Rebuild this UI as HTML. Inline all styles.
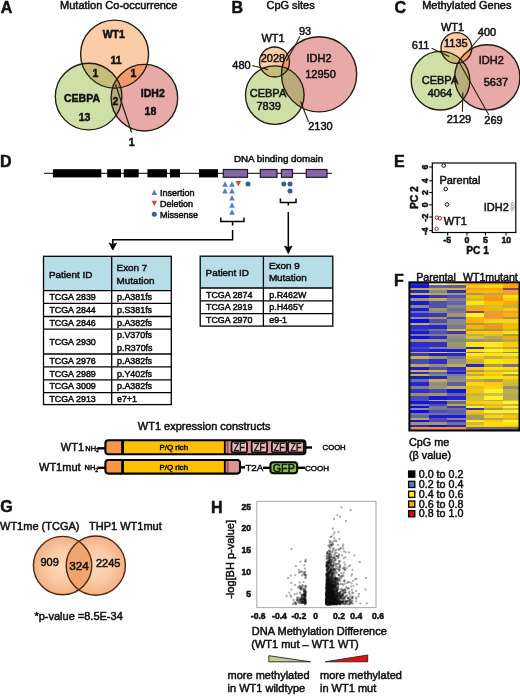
<!DOCTYPE html>
<html lang="en"><head><meta charset="utf-8"><title>WT1 mutation figure</title>
<style>
html,body{margin:0;padding:0;background:#fff}
body{width:520px;height:696px;overflow:hidden}
svg{display:block}
text{font-family:"Liberation Sans",Arial,Helvetica,sans-serif;fill:#111;stroke:#111;stroke-width:.5px}
</style></head><body>
<svg width="520" height="696" viewBox="0 0 520 696">
<rect width="520" height="696" fill="#fff"/>

<g font-weight="bold">
<text x="0.8" y="13" font-size="16">A</text>
<text x="231.6" y="13" font-size="16">B</text>
<text x="394.6" y="13" font-size="16">C</text>
<text x="0" y="167" font-size="16">D</text>
<text x="394" y="167" font-size="16">E</text>
<text x="394" y="285.5" font-size="16">F</text>
<text x="0.2" y="512" font-size="16">G</text>
<text x="211" y="513" font-size="16">H</text>
</g>
<text x="118.8" y="9.1" font-size="11" text-anchor="middle">Mutation Co-occurrence</text>
<defs>
<clipPath id="va0"><circle cx="114.6" cy="54.1" r="34"/></clipPath>
<clipPath id="va1"><circle cx="88.6" cy="96.6" r="33.3"/></clipPath>
<clipPath id="va2"><circle cx="144.4" cy="97.7" r="33.3"/></clipPath>
</defs>
<circle cx="114.6" cy="54.1" r="34" fill="#fbcda6"/>
<circle cx="88.6" cy="96.6" r="33.3" fill="#cee0a8"/>
<circle cx="144.4" cy="97.7" r="33.3" fill="#e8a9a9"/>
<circle cx="88.6" cy="96.6" r="33.3" fill="#c6bd7a" clip-path="url(#va0)"/>
<circle cx="144.4" cy="97.7" r="33.3" fill="#f09a6a" clip-path="url(#va0)"/>
<circle cx="144.4" cy="97.7" r="33.3" fill="#b9ab7a" clip-path="url(#va1)"/>
<g clip-path="url(#va0)"><circle cx="144.4" cy="97.7" r="33.3" fill="#b09a66" clip-path="url(#va1)"/></g>
<g fill="none" stroke="#241a0e" stroke-width="1.35">
<circle cx="114.6" cy="54.1" r="34"/>
<circle cx="88.6" cy="96.6" r="33.3"/>
<circle cx="144.4" cy="97.7" r="33.3"/>
</g>
<line x1="115.6" y1="84.5" x2="131.6" y2="132.5" stroke="#2a2012" stroke-width="1.2"/>
<g font-weight="bold">
<text x="113.8" y="37.7" font-size="10.5" text-anchor="middle">WT1</text>
<text x="116" y="63.5" font-size="10.5" text-anchor="middle">11</text>
<text x="95.4" y="77" font-size="10.5" text-anchor="middle">1</text>
<text x="133.5" y="77" font-size="10.5" text-anchor="middle">1</text>
<text x="115.4" y="104.8" font-size="10.5" text-anchor="middle">2</text>
<text x="82" y="102.3" font-size="10.5" text-anchor="middle">CEBPA</text>
<text x="84.6" y="120.8" font-size="10.5" text-anchor="middle">13</text>
<text x="152.8" y="96.6" font-size="10.5" text-anchor="middle">IDH2</text>
<text x="150.4" y="115.2" font-size="10.5" text-anchor="middle">18</text>
<text x="131.6" y="146" font-size="10.5" text-anchor="middle">1</text>
</g>
<text x="290.6" y="9.1" font-size="11" text-anchor="middle">CpG sites</text>
<defs>
<clipPath id="vb0"><circle cx="274.5" cy="62" r="15"/></clipPath>
<clipPath id="vb1"><circle cx="274.8" cy="95.1" r="29.3"/></clipPath>
<clipPath id="vb2"><circle cx="319.1" cy="74.3" r="37.6"/></clipPath>
</defs>
<circle cx="274.5" cy="62" r="15" fill="#fbcda6"/>
<circle cx="274.8" cy="95.1" r="29.3" fill="#cee0a8"/>
<circle cx="319.1" cy="74.3" r="37.6" fill="#e8a9a9"/>
<circle cx="274.8" cy="95.1" r="29.3" fill="#c6bd7a" clip-path="url(#vb0)"/>
<circle cx="319.1" cy="74.3" r="37.6" fill="#f09a6a" clip-path="url(#vb0)"/>
<circle cx="319.1" cy="74.3" r="37.6" fill="#b9ab7a" clip-path="url(#vb1)"/>
<g clip-path="url(#vb0)"><circle cx="319.1" cy="74.3" r="37.6" fill="#b09a66" clip-path="url(#vb1)"/></g>
<g fill="none" stroke="#241a0e" stroke-width="1.35">
<circle cx="274.5" cy="62" r="15"/>
<circle cx="274.8" cy="95.1" r="29.3"/>
<circle cx="319.1" cy="74.3" r="37.6"/>
</g>
<g stroke="#2a2012" stroke-width="1.1">
<line x1="300" y1="36.5" x2="286.5" y2="61"/>
<line x1="252.4" y1="65.6" x2="268" y2="69.6"/>
<line x1="308.6" y1="122" x2="300.6" y2="101.5"/>
</g>
<g>
<text x="273" y="41.8" font-size="11" text-anchor="middle">WT1</text>
<text x="305" y="34.7" font-size="11" text-anchor="middle">93</text>
<text x="273" y="62" font-size="11" text-anchor="middle">2028</text>
<text x="319" y="61.7" font-size="11" text-anchor="middle">IDH2</text>
<text x="320.5" y="78" font-size="11" text-anchor="middle">12950</text>
<text x="268" y="97" font-size="11" text-anchor="middle">CEBPA</text>
<text x="268.7" y="110" font-size="11" text-anchor="middle">7839</text>
<text x="241.5" y="69.2" font-size="11" text-anchor="middle">480</text>
<text x="320.5" y="129.8" font-size="11" text-anchor="middle">2130</text>
</g>
<text x="466.8" y="9.1" font-size="11" text-anchor="middle">Methylated Genes</text>
<defs>
<clipPath id="vc0"><circle cx="456.4" cy="48" r="15.4"/></clipPath>
<clipPath id="vc1"><circle cx="440.5" cy="80.7" r="29.3"/></clipPath>
<clipPath id="vc2"><circle cx="487.3" cy="77.3" r="32.6"/></clipPath>
</defs>
<circle cx="456.4" cy="48" r="15.4" fill="#fbcda6"/>
<circle cx="440.5" cy="80.7" r="29.3" fill="#cee0a8"/>
<circle cx="487.3" cy="77.3" r="32.6" fill="#e8a9a9"/>
<circle cx="440.5" cy="80.7" r="29.3" fill="#c6bd7a" clip-path="url(#vc0)"/>
<circle cx="487.3" cy="77.3" r="32.6" fill="#f09a6a" clip-path="url(#vc0)"/>
<circle cx="487.3" cy="77.3" r="32.6" fill="#b9ab7a" clip-path="url(#vc1)"/>
<g clip-path="url(#vc0)"><circle cx="487.3" cy="77.3" r="32.6" fill="#b09a66" clip-path="url(#vc1)"/></g>
<g fill="none" stroke="#241a0e" stroke-width="1.35">
<circle cx="456.4" cy="48" r="15.4"/>
<circle cx="440.5" cy="80.7" r="29.3"/>
<circle cx="487.3" cy="77.3" r="32.6"/>
</g>
<g stroke="#2a2012" stroke-width="1.1">
<line x1="481" y1="36" x2="467.5" y2="51.5"/>
<line x1="431.7" y1="48.3" x2="449.2" y2="56.5"/>
<line x1="462.4" y1="111.8" x2="462.9" y2="92.5"/>
<line x1="488.8" y1="115" x2="459" y2="62"/>
</g>
<g>
<text x="452.5" y="31.2" font-size="11" text-anchor="middle">WT1</text>
<text x="455.8" y="47.3" font-size="11" text-anchor="middle">1135</text>
<text x="487" y="35.7" font-size="11" text-anchor="middle">400</text>
<text x="420.6" y="49.1" font-size="11" text-anchor="middle">611</text>
<text x="491.3" y="64.2" font-size="11" text-anchor="middle">IDH2</text>
<text x="496" y="86.3" font-size="11" text-anchor="middle">5637</text>
<text x="440" y="84" font-size="11" text-anchor="middle">CEBPA</text>
<text x="440" y="97.4" font-size="11" text-anchor="middle">4064</text>
<text x="459" y="122.7" font-size="11" text-anchor="middle">2129</text>
<text x="493.5" y="123.5" font-size="11" text-anchor="middle">269</text>
</g>
<line x1="44" y1="173.3" x2="332" y2="173.3" stroke="#000" stroke-width="1"/>
<rect x="52.9" y="169.2" width="48.4" height="8.2" fill="#000"/>
<rect x="107.2" y="169.2" width="13.8" height="8.2" fill="#000"/>
<rect x="123.8" y="169.2" width="14.9" height="8.2" fill="#000"/>
<rect x="147.4" y="169.2" width="19.6" height="8.2" fill="#000"/>
<rect x="169.9" y="169.2" width="10.1" height="8.2" fill="#000"/>
<rect x="199" y="169.2" width="19.0" height="8.2" fill="#000"/>
<rect x="223.3" y="169.5" width="24.2" height="7.8" fill="#8567a8" stroke="#1f1830" stroke-width="1.2"/>
<rect x="260.3" y="169.5" width="16.7" height="7.8" fill="#8567a8" stroke="#1f1830" stroke-width="1.2"/>
<rect x="281.4" y="169.5" width="11.1" height="7.8" fill="#8567a8" stroke="#1f1830" stroke-width="1.2"/>
<rect x="306.3" y="169.5" width="20.7" height="7.8" fill="#8567a8" stroke="#1f1830" stroke-width="1.2"/>
<text x="278.6" y="162" font-size="9.8" text-anchor="middle">DNA binding domain</text>
<path d="M222.2 186.8L227.8 186.8L225.0 181.2Z" fill="#4f81bd"/>
<path d="M229.2 186.8L234.8 186.8L232.0 181.2Z" fill="#4f81bd"/>
<path d="M222.2 193.6L227.8 193.6L225.0 188.0Z" fill="#4f81bd"/>
<path d="M229.2 193.6L234.8 193.6L232.0 188.0Z" fill="#4f81bd"/>
<path d="M229.2 200.6L234.8 200.6L232.0 195.0Z" fill="#4f81bd"/>
<path d="M229.2 207.8L234.8 207.8L232.0 202.2Z" fill="#4f81bd"/>
<path d="M229.2 214.8L234.8 214.8L232.0 209.2Z" fill="#4f81bd"/>
<path d="M235.5 181.0L241.1 181.0L238.3 186.6Z" fill="#c0504d"/>
<circle cx="248" cy="184" r="2.5" fill="#376092"/>
<circle cx="283.8" cy="184" r="2.5" fill="#376092"/>
<circle cx="290" cy="184" r="2.5" fill="#376092"/>
<circle cx="290" cy="191" r="2.5" fill="#376092"/>
<path d="M151.5 195.1L157.1 195.1L154.3 189.5Z" fill="#4f81bd"/>
<path d="M151.5 200.7L157.1 200.7L154.3 206.3Z" fill="#c0504d"/>
<circle cx="154.3" cy="214.3" r="2.5" fill="#376092"/>
<text x="160" y="196" font-size="9">Insertion</text>
<text x="160" y="207" font-size="9">Deletion</text>
<text x="160" y="218" font-size="9">Missense</text>
<g fill="none" stroke="#000" stroke-width="1.5">
<path d="M220.8 217.5V221.6H244V217.5M232.6 221.6V225.5"/>
<path d="M280.4 198.5V202.6H296V198.5M288.3 202.6V205.6"/>
<path d="M232.6 230V239.7H112.8V246"/>
<path d="M288.3 212V249"/>
</g>
<path d="M109.1 243L112.8 244.6L116.5 243L112.8 250Z" fill="#000" stroke="#000" stroke-width=".8"/>
<path d="M284.6 246L288.3 247.6L292 246L288.3 253.5Z" fill="#000" stroke="#000" stroke-width=".8"/>
<rect x="43.5" y="256.3" width="127.8" height="34.3" fill="#b7dde8"/>
<g stroke="#000" stroke-width="1.3" fill="none">
<rect x="43.5" y="256.3" width="127.8" height="148.3"/>
<line x1="111.7" y1="256.3" x2="111.7" y2="404.6"/>
<line x1="43.5" y1="290.6" x2="171.3" y2="290.6"/>
<line x1="43.5" y1="303.3" x2="171.3" y2="303.3"/>
<line x1="43.5" y1="316.5" x2="171.3" y2="316.5"/>
<line x1="43.5" y1="329.2" x2="171.3" y2="329.2"/>
<line x1="43.5" y1="354" x2="171.3" y2="354"/>
<line x1="43.5" y1="366.8" x2="171.3" y2="366.8"/>
<line x1="43.5" y1="379.9" x2="171.3" y2="379.9"/>
<line x1="43.5" y1="392.6" x2="171.3" y2="392.6"/>
</g>
<text x="49.0" y="277.8" font-size="9.9" stroke-width=".4">Patient ID</text>
<text x="116.6" y="271.09999999999997" font-size="9.9" stroke-width=".4">Exon 7</text>
<text x="116.6" y="284.4" font-size="9.9" stroke-width=".4">Mutation</text>
<g font-size="8.9" stroke-width=".45">
<text x="49.4" y="300.1">TCGA 2839</text>
<text x="117" y="300.1">p.A381fs</text>
<text x="49.4" y="313.0">TCGA 2844</text>
<text x="117" y="313.0">p.S381fs</text>
<text x="49.4" y="326.0">TCGA 2846</text>
<text x="117" y="326.0">p.A382fs</text>
<text x="49.4" y="344.7">TCGA 2930</text>
<text x="117" y="338.4">p.V370fs</text>
<text x="117" y="351.0">p.R370fs</text>
<text x="49.4" y="363.5">TCGA 2976</text>
<text x="117" y="363.5">p.A382fs</text>
<text x="49.4" y="376.5">TCGA 2989</text>
<text x="117" y="376.5">p.Y402fs</text>
<text x="49.4" y="389.4">TCGA 3009</text>
<text x="117" y="389.4">p.A382fs</text>
<text x="49.4" y="401.7">TCGA 2913</text>
<text x="117" y="401.7">e7+1</text>
</g>
<rect x="200.2" y="256.2" width="132.6" height="31.8" fill="#b7dde8"/>
<g stroke="#000" stroke-width="1.3" fill="none">
<rect x="200.2" y="256.2" width="132.6" height="69.9"/>
<line x1="263.4" y1="256.2" x2="263.4" y2="326.1"/>
<line x1="200.2" y1="288" x2="332.8" y2="288"/>
<line x1="200.2" y1="300.8" x2="332.8" y2="300.8"/>
<line x1="200.2" y1="313.6" x2="332.8" y2="313.6"/>
</g>
<text x="205.6" y="276" font-size="9.9" stroke-width=".4">Patient ID</text>
<text x="268.90000000000003" y="269.4" font-size="9.9" stroke-width=".4">Exon 9</text>
<text x="268.90000000000003" y="281.4" font-size="9.9" stroke-width=".4">Mutation</text>
<g font-size="8.9" stroke-width=".45">
<text x="206" y="297.5">TCGA 2874</text>
<text x="269.3" y="297.5">p.R462W</text>
<text x="206" y="310.3">TCGA 2919</text>
<text x="269.3" y="310.3">p.H465Y</text>
<text x="206" y="323.0">TCGA 2970</text>
<text x="269.3" y="323.0">e9-1</text>
</g>
<text x="137.8" y="430" font-size="11">WT1 expression constructs</text>
<text x="60.8" y="450.90000000000003" font-size="11" stroke-width=".45">WT1</text>
<text x="85.3" y="450.5" font-size="7.4" stroke-width=".45">NH<tspan font-size="5" dy="1.8">2</tspan></text>
<line x1="97.5" y1="448.3" x2="106" y2="448.3" stroke="#000" stroke-width="2.4"/>
<rect x="105.4" y="440.3" width="200.0" height="14" rx="3" fill="#d99694"/>
<rect x="105.4" y="440.3" width="18.6" height="14" rx="3" fill="#f79646"/>
<rect x="122" y="440.3" width="102.6" height="14" fill="#ffc000"/>
<rect x="226.6" y="440.8" width="2" height="13" fill="#a0583c"/>
<g stroke="#000" fill="none">
<rect x="105.4" y="440.3" width="200.0" height="14" rx="3" stroke-width="2.1"/>
<line x1="122.6" y1="440.3" x2="122.6" y2="454.3" stroke-width="2.8"/>
<line x1="224.8" y1="440.3" x2="224.8" y2="454.3" stroke-width="1.8"/>
</g>
<text x="173.8" y="449.90000000000003" font-size="7.9" text-anchor="middle" stroke-width=".2" font-family="DejaVu Sans, Liberation Sans, sans-serif">P/Q rich</text>
<line x1="305" y1="447.5" x2="312" y2="447.5" stroke="#000" stroke-width="2.4"/>
<rect x="231.5" y="441.7" width="15.5" height="10.7" rx="1.5" fill="#e6b9b8" stroke="#1a0808" stroke-width="1.8"/>
<text x="239.2" y="451" font-size="10.2" text-anchor="middle" textLength="10.8" lengthAdjust="spacingAndGlyphs" fill="#1a0808" stroke="#1a0808">ZF</text>
<rect x="251.7" y="441.7" width="15.4" height="10.7" rx="1.5" fill="#e6b9b8" stroke="#1a0808" stroke-width="1.8"/>
<text x="259.4" y="451" font-size="10.2" text-anchor="middle" textLength="10.8" lengthAdjust="spacingAndGlyphs" fill="#1a0808" stroke="#1a0808">ZF</text>
<rect x="271.9" y="441.7" width="14.7" height="10.7" rx="1.5" fill="#e6b9b8" stroke="#1a0808" stroke-width="1.8"/>
<text x="279.2" y="451" font-size="10.2" text-anchor="middle" textLength="10.8" lengthAdjust="spacingAndGlyphs" fill="#1a0808" stroke="#1a0808">ZF</text>
<rect x="288" y="441.7" width="15.8" height="10.7" rx="1.5" fill="#e6b9b8" stroke="#1a0808" stroke-width="1.8"/>
<text x="295.9" y="451" font-size="10.2" text-anchor="middle" textLength="10.8" lengthAdjust="spacingAndGlyphs" fill="#1a0808" stroke="#1a0808">ZF</text>
<text x="322.6" y="449.6" font-size="7.7" stroke-width=".5">COOH</text>
<text x="39" y="470.6" font-size="11" stroke-width=".45">WT1mut</text>
<text x="84.6" y="470.2" font-size="7.4" stroke-width=".45">NH<tspan font-size="5" dy="1.8">2</tspan></text>
<line x1="97.5" y1="467.8" x2="106" y2="467.8" stroke="#000" stroke-width="2.4"/>
<rect x="105.4" y="460" width="134.6" height="13.6" rx="3" fill="#d99694"/>
<rect x="105.4" y="460" width="18.6" height="13.6" rx="3" fill="#f79646"/>
<rect x="122" y="460" width="102.6" height="13.6" fill="#ffc000"/>
<rect x="226.6" y="460.5" width="2" height="12.6" fill="#a0583c"/>
<g stroke="#000" fill="none">
<rect x="105.4" y="460" width="134.6" height="13.6" rx="3" stroke-width="2.1"/>
<line x1="122.6" y1="460" x2="122.6" y2="473.6" stroke-width="2.8"/>
<line x1="224.8" y1="460" x2="224.8" y2="473.6" stroke-width="1.8"/>
</g>
<text x="173.8" y="469.6" font-size="7.9" text-anchor="middle" stroke-width=".2" font-family="DejaVu Sans, Liberation Sans, sans-serif">P/Q rich</text>
<g stroke="#000" stroke-width="2.4">
<line x1="240" y1="467.4" x2="245" y2="467.4"/>
<line x1="263" y1="467.8" x2="271" y2="467.8"/>
<line x1="297" y1="467.8" x2="305" y2="467.8"/>
</g>
<text x="245.4" y="470.8" font-size="9.8">T2A</text>
<rect x="270.4" y="462.3" width="26.8" height="11" rx="3" fill="#82bd45" stroke="#000" stroke-width="2"/>
<text x="283.8" y="472.2" font-size="11.8" text-anchor="middle" textLength="22" lengthAdjust="spacingAndGlyphs" fill="#14280a" stroke="#14280a" stroke-width=".3">GFP</text>
<text x="305" y="470.9" font-size="8" stroke-width=".5">COOH</text>
<rect x="432.3" y="163" width="83.5" height="69.5" fill="#fff" stroke="#000" stroke-width="1.2"/>
<g stroke="#000" stroke-width="1.1">
<line x1="429.3" y1="167" x2="432.3" y2="167"/>
<line x1="429.3" y1="180.8" x2="432.3" y2="180.8"/>
<line x1="429.3" y1="192.5" x2="432.3" y2="192.5"/>
<line x1="429.3" y1="204.8" x2="432.3" y2="204.8"/>
<line x1="429.3" y1="217" x2="432.3" y2="217"/>
<line x1="429.3" y1="230.6" x2="432.3" y2="230.6"/>
<line x1="447.7" y1="232.5" x2="447.7" y2="235.5"/>
<line x1="467" y1="232.5" x2="467" y2="235.5"/>
<line x1="485.5" y1="232.5" x2="485.5" y2="235.5"/>
<line x1="506" y1="232.5" x2="506" y2="235.5"/>
</g>
<g font-weight="bold" stroke-width=".15">
<text font-size="8.8" text-anchor="middle" transform="translate(428,167) rotate(-90)">6</text>
<text font-size="8.8" text-anchor="middle" transform="translate(428,180.8) rotate(-90)">4</text>
<text font-size="8.8" text-anchor="middle" transform="translate(428,192.5) rotate(-90)">2</text>
<text font-size="8.8" text-anchor="middle" transform="translate(428,204.8) rotate(-90)">0</text>
<text font-size="8.8" text-anchor="middle" transform="translate(428,217.6) rotate(-90)">-2</text>
<text font-size="8.8" text-anchor="middle" transform="translate(428,231.2) rotate(-90)">-4</text>
<text font-size="10.2" text-anchor="middle" transform="translate(417.8,197.7) rotate(-90)">PC 2</text>
<text x="447.2" y="243.3" font-size="8.8" text-anchor="middle">-5</text>
<text x="467" y="243.3" font-size="8.8" text-anchor="middle">0</text>
<text x="485.5" y="243.3" font-size="8.8" text-anchor="middle">5</text>
<text x="506.3" y="243.3" font-size="8.8" text-anchor="middle">10</text>
<text x="477.6" y="253.5" font-size="10.2" text-anchor="middle">PC 1</text>
</g>
<g fill="none" stroke-width="1">
<circle cx="443.7" cy="165.6" r="1.8" stroke="#111"/>
<circle cx="445.7" cy="189" r="1.8" stroke="#111"/>
<circle cx="447" cy="204.5" r="1.8" stroke="#111"/>
<circle cx="436.8" cy="217.7" r="1.7" stroke="#8a2a2a"/>
<circle cx="439.8" cy="218.3" r="1.7" stroke="#8a2a2a"/>
<circle cx="436.5" cy="228.8" r="1.7" stroke="#8a2a2a"/>
<circle cx="512.6" cy="204" r="1.4" stroke="#8090c4" stroke-width=".8"/>
<circle cx="512.8" cy="206.8" r="1.4" stroke="#8090c4" stroke-width=".8"/>
<circle cx="512.2" cy="209.3" r="1.4" stroke="#8090c4" stroke-width=".8"/>
</g>
<text x="439.4" y="183.8" font-size="11">Parental</text>
<text x="483.7" y="210.8" font-size="11">IDH2</text>
<text x="443.7" y="224.7" font-size="11">WT1</text>
<text x="416.3" y="281.2" font-size="10.6" stroke-width=".7">Parental</text>
<text x="463" y="281.2" font-size="10.6" stroke-width=".7">WT1mutant</text>
<g shape-rendering="crispEdges">
<rect x="410.4" y="283" width="55.50" height="147.0" fill="#3a3ac4"/>
<rect x="465.90" y="283" width="55.50" height="147.0" fill="#f2cf1c"/>
<rect x="410.40" y="283.0" width="18.50" height="1.8" fill="#2a2acc"/>
<rect x="428.90" y="283.0" width="18.50" height="1.8" fill="#f4ec90"/>
<rect x="447.40" y="283.0" width="18.50" height="1.8" fill="#f0dc30"/>
<rect x="465.90" y="283.0" width="18.50" height="1.8" fill="#ffa810"/>
<rect x="484.40" y="283.0" width="18.50" height="1.8" fill="#ffb000"/>
<rect x="502.90" y="283.0" width="18.50" height="1.8" fill="#ffa400"/>
<rect x="410.40" y="284.8" width="18.50" height="3.0" fill="#1414e0"/>
<rect x="428.90" y="284.8" width="18.50" height="3.0" fill="#5c5ca8"/>
<rect x="447.40" y="284.8" width="18.50" height="3.0" fill="#5c5ca8"/>
<rect x="465.90" y="284.8" width="18.50" height="3.0" fill="#ffc810"/>
<rect x="484.40" y="284.8" width="18.50" height="3.0" fill="#ffda10"/>
<rect x="502.90" y="284.8" width="18.50" height="3.0" fill="#ffa800"/>
<rect x="410.40" y="287.8" width="18.50" height="2.0" fill="#b8a850"/>
<rect x="428.90" y="287.8" width="18.50" height="2.0" fill="#c0b048"/>
<rect x="447.40" y="287.8" width="18.50" height="2.0" fill="#c8b440"/>
<rect x="465.90" y="287.8" width="18.50" height="2.0" fill="#f0a030"/>
<rect x="484.40" y="287.8" width="18.50" height="2.0" fill="#ffa000"/>
<rect x="502.90" y="287.8" width="18.50" height="2.0" fill="#804070"/>
<rect x="410.40" y="289.8" width="18.50" height="3.0" fill="#2626cc"/>
<rect x="428.90" y="289.8" width="18.50" height="3.0" fill="#88888c"/>
<rect x="447.40" y="289.8" width="18.50" height="3.0" fill="#3030c4"/>
<rect x="465.90" y="289.8" width="18.50" height="3.0" fill="#ffb800"/>
<rect x="484.40" y="289.8" width="18.50" height="3.0" fill="#ffb800"/>
<rect x="502.90" y="289.8" width="18.50" height="3.0" fill="#f0a030"/>
<rect x="410.40" y="292.8" width="18.50" height="2.0" fill="#d0b838"/>
<rect x="428.90" y="292.8" width="18.50" height="2.0" fill="#b8a850"/>
<rect x="447.40" y="292.8" width="18.50" height="2.0" fill="#a89858"/>
<rect x="465.90" y="292.8" width="18.50" height="2.0" fill="#a89858"/>
<rect x="484.40" y="292.8" width="18.50" height="2.0" fill="#b8a850"/>
<rect x="502.90" y="292.8" width="18.50" height="2.0" fill="#f59a28"/>
<rect x="410.40" y="294.8" width="18.50" height="3.0" fill="#0c0cee"/>
<rect x="428.90" y="294.8" width="18.50" height="3.0" fill="#3a3ab8"/>
<rect x="447.40" y="294.8" width="18.50" height="3.0" fill="#5050b0"/>
<rect x="465.90" y="294.8" width="18.50" height="3.0" fill="#ffc000"/>
<rect x="484.40" y="294.8" width="18.50" height="3.0" fill="#f59a28"/>
<rect x="502.90" y="294.8" width="18.50" height="3.0" fill="#ffe600"/>
<rect x="410.40" y="297.8" width="18.50" height="3.0" fill="#a0966c"/>
<rect x="428.90" y="297.8" width="18.50" height="3.0" fill="#c0b048"/>
<rect x="447.40" y="297.8" width="18.50" height="3.0" fill="#7c7c94"/>
<rect x="465.90" y="297.8" width="18.50" height="3.0" fill="#d0b838"/>
<rect x="484.40" y="297.8" width="18.50" height="3.0" fill="#ff9800"/>
<rect x="502.90" y="297.8" width="18.50" height="3.0" fill="#ffc810"/>
<rect x="410.40" y="300.8" width="18.50" height="4.0" fill="#1a1ad0"/>
<rect x="428.90" y="300.8" width="18.50" height="4.0" fill="#5050b0"/>
<rect x="447.40" y="300.8" width="18.50" height="4.0" fill="#6666a4"/>
<rect x="465.90" y="300.8" width="18.50" height="4.0" fill="#ffe600"/>
<rect x="484.40" y="300.8" width="18.50" height="4.0" fill="#ffc000"/>
<rect x="502.90" y="300.8" width="18.50" height="4.0" fill="#ffa800"/>
<rect x="410.40" y="304.8" width="18.50" height="3.0" fill="#88888c"/>
<rect x="428.90" y="304.8" width="18.50" height="3.0" fill="#5050b0"/>
<rect x="447.40" y="304.8" width="18.50" height="3.0" fill="#88888c"/>
<rect x="465.90" y="304.8" width="18.50" height="3.0" fill="#c8b440"/>
<rect x="484.40" y="304.8" width="18.50" height="3.0" fill="#d8c030"/>
<rect x="502.90" y="304.8" width="18.50" height="3.0" fill="#c0b048"/>
<rect x="410.40" y="307.8" width="18.50" height="3.0" fill="#1c1cd8"/>
<rect x="428.90" y="307.8" width="18.50" height="3.0" fill="#a0966c"/>
<rect x="447.40" y="307.8" width="18.50" height="3.0" fill="#70709c"/>
<rect x="465.90" y="307.8" width="18.50" height="3.0" fill="#ffa800"/>
<rect x="484.40" y="307.8" width="18.50" height="3.0" fill="#ffb000"/>
<rect x="502.90" y="307.8" width="18.50" height="3.0" fill="#ffc810"/>
<rect x="410.40" y="310.8" width="18.50" height="2.0" fill="#70709c"/>
<rect x="428.90" y="310.8" width="18.50" height="2.0" fill="#88888c"/>
<rect x="447.40" y="310.8" width="18.50" height="2.0" fill="#7c7c94"/>
<rect x="465.90" y="310.8" width="18.50" height="2.0" fill="#804070"/>
<rect x="484.40" y="310.8" width="18.50" height="2.0" fill="#c0b048"/>
<rect x="502.90" y="310.8" width="18.50" height="2.0" fill="#f0a030"/>
<rect x="410.40" y="312.8" width="18.50" height="4.0" fill="#2b2bd0"/>
<rect x="428.90" y="312.8" width="18.50" height="4.0" fill="#3a3ab8"/>
<rect x="447.40" y="312.8" width="18.50" height="4.0" fill="#a0966c"/>
<rect x="465.90" y="312.8" width="18.50" height="4.0" fill="#fff030"/>
<rect x="484.40" y="312.8" width="18.50" height="4.0" fill="#f59a28"/>
<rect x="502.90" y="312.8" width="18.50" height="4.0" fill="#ffb000"/>
<rect x="410.40" y="316.8" width="18.50" height="2.0" fill="#948e7c"/>
<rect x="428.90" y="316.8" width="18.50" height="2.0" fill="#a89858"/>
<rect x="447.40" y="316.8" width="18.50" height="2.0" fill="#4848b8"/>
<rect x="465.90" y="316.8" width="18.50" height="2.0" fill="#ffb800"/>
<rect x="484.40" y="316.8" width="18.50" height="2.0" fill="#f59a28"/>
<rect x="502.90" y="316.8" width="18.50" height="2.0" fill="#a89858"/>
<rect x="410.40" y="318.8" width="18.50" height="4.0" fill="#0c0cee"/>
<rect x="428.90" y="318.8" width="18.50" height="4.0" fill="#5050b0"/>
<rect x="447.40" y="318.8" width="18.50" height="4.0" fill="#88888c"/>
<rect x="465.90" y="318.8" width="18.50" height="4.0" fill="#ffb000"/>
<rect x="484.40" y="318.8" width="18.50" height="4.0" fill="#f8d418"/>
<rect x="502.90" y="318.8" width="18.50" height="4.0" fill="#f8d418"/>
<rect x="410.40" y="322.8" width="18.50" height="2.0" fill="#c8b440"/>
<rect x="428.90" y="322.8" width="18.50" height="2.0" fill="#88888c"/>
<rect x="447.40" y="322.8" width="18.50" height="2.0" fill="#88888c"/>
<rect x="465.90" y="322.8" width="18.50" height="2.0" fill="#a89858"/>
<rect x="484.40" y="322.8" width="18.50" height="2.0" fill="#b8a850"/>
<rect x="502.90" y="322.8" width="18.50" height="2.0" fill="#d8c030"/>
<rect x="410.40" y="324.8" width="18.50" height="4.0" fill="#2b2bd0"/>
<rect x="428.90" y="324.8" width="18.50" height="4.0" fill="#2626cc"/>
<rect x="447.40" y="324.8" width="18.50" height="4.0" fill="#787896"/>
<rect x="465.90" y="324.8" width="18.50" height="4.0" fill="#ffb000"/>
<rect x="484.40" y="324.8" width="18.50" height="4.0" fill="#ff9800"/>
<rect x="502.90" y="324.8" width="18.50" height="4.0" fill="#ffb800"/>
<rect x="410.40" y="328.8" width="18.50" height="2.0" fill="#4848b8"/>
<rect x="428.90" y="328.8" width="18.50" height="2.0" fill="#70709c"/>
<rect x="447.40" y="328.8" width="18.50" height="2.0" fill="#d8c030"/>
<rect x="465.90" y="328.8" width="18.50" height="2.0" fill="#a89858"/>
<rect x="484.40" y="328.8" width="18.50" height="2.0" fill="#a0966c"/>
<rect x="502.90" y="328.8" width="18.50" height="2.0" fill="#c0b048"/>
<rect x="410.40" y="330.8" width="18.50" height="3.0" fill="#1a1ad0"/>
<rect x="428.90" y="330.8" width="18.50" height="3.0" fill="#5050b0"/>
<rect x="447.40" y="330.8" width="18.50" height="3.0" fill="#3a3ab8"/>
<rect x="465.90" y="330.8" width="18.50" height="3.0" fill="#ffcc00"/>
<rect x="484.40" y="330.8" width="18.50" height="3.0" fill="#ffcc00"/>
<rect x="502.90" y="330.8" width="18.50" height="3.0" fill="#ffe600"/>
<rect x="410.40" y="333.8" width="18.50" height="2.0" fill="#7c7c94"/>
<rect x="428.90" y="333.8" width="18.50" height="2.0" fill="#7c7c94"/>
<rect x="447.40" y="333.8" width="18.50" height="2.0" fill="#a0966c"/>
<rect x="465.90" y="333.8" width="18.50" height="2.0" fill="#c0b048"/>
<rect x="484.40" y="333.8" width="18.50" height="2.0" fill="#d8c030"/>
<rect x="502.90" y="333.8" width="18.50" height="2.0" fill="#a89858"/>
<rect x="410.40" y="335.8" width="18.50" height="3.0" fill="#0c0cee"/>
<rect x="428.90" y="335.8" width="18.50" height="3.0" fill="#2b2bd0"/>
<rect x="447.40" y="335.8" width="18.50" height="3.0" fill="#948e7c"/>
<rect x="465.90" y="335.8" width="18.50" height="3.0" fill="#d8c030"/>
<rect x="484.40" y="335.8" width="18.50" height="3.0" fill="#b8a850"/>
<rect x="502.90" y="335.8" width="18.50" height="3.0" fill="#ffa800"/>
<rect x="410.40" y="338.8" width="18.50" height="3.0" fill="#a0966c"/>
<rect x="428.90" y="338.8" width="18.50" height="3.0" fill="#a0966c"/>
<rect x="447.40" y="338.8" width="18.50" height="3.0" fill="#88888c"/>
<rect x="465.90" y="338.8" width="18.50" height="3.0" fill="#948e7c"/>
<rect x="484.40" y="338.8" width="18.50" height="3.0" fill="#a89858"/>
<rect x="502.90" y="338.8" width="18.50" height="3.0" fill="#b8a850"/>
<rect x="410.40" y="341.8" width="18.50" height="5.0" fill="#2b2bd0"/>
<rect x="428.90" y="341.8" width="18.50" height="5.0" fill="#3030c4"/>
<rect x="447.40" y="341.8" width="18.50" height="5.0" fill="#a0966c"/>
<rect x="465.90" y="341.8" width="18.50" height="5.0" fill="#ffe600"/>
<rect x="484.40" y="341.8" width="18.50" height="5.0" fill="#ffe820"/>
<rect x="502.90" y="341.8" width="18.50" height="5.0" fill="#ffcc00"/>
<rect x="410.40" y="346.8" width="18.50" height="2.0" fill="#4848b8"/>
<rect x="428.90" y="346.8" width="18.50" height="2.0" fill="#7c7c94"/>
<rect x="447.40" y="346.8" width="18.50" height="2.0" fill="#948e7c"/>
<rect x="465.90" y="346.8" width="18.50" height="2.0" fill="#2b2bd0"/>
<rect x="484.40" y="346.8" width="18.50" height="2.0" fill="#d0b838"/>
<rect x="502.90" y="346.8" width="18.50" height="2.0" fill="#b8a850"/>
<rect x="410.40" y="348.8" width="18.50" height="3.0" fill="#2b2bd0"/>
<rect x="428.90" y="348.8" width="18.50" height="3.0" fill="#1a1ad0"/>
<rect x="447.40" y="348.8" width="18.50" height="3.0" fill="#1a1ad0"/>
<rect x="465.90" y="348.8" width="18.50" height="3.0" fill="#ffe600"/>
<rect x="484.40" y="348.8" width="18.50" height="3.0" fill="#fff030"/>
<rect x="502.90" y="348.8" width="18.50" height="3.0" fill="#ffe600"/>
<rect x="410.40" y="351.8" width="18.50" height="1.0" fill="#c0b048"/>
<rect x="428.90" y="351.8" width="18.50" height="1.0" fill="#f8d418"/>
<rect x="447.40" y="351.8" width="18.50" height="1.0" fill="#c0b048"/>
<rect x="465.90" y="351.8" width="18.50" height="1.0" fill="#7c7c94"/>
<rect x="484.40" y="351.8" width="18.50" height="1.0" fill="#d0b838"/>
<rect x="502.90" y="351.8" width="18.50" height="1.0" fill="#88888c"/>
<rect x="410.40" y="352.8" width="18.50" height="3.0" fill="#3a3ab8"/>
<rect x="428.90" y="352.8" width="18.50" height="3.0" fill="#1c1cd8"/>
<rect x="447.40" y="352.8" width="18.50" height="3.0" fill="#2626cc"/>
<rect x="465.90" y="352.8" width="18.50" height="3.0" fill="#ffe820"/>
<rect x="484.40" y="352.8" width="18.50" height="3.0" fill="#ffe600"/>
<rect x="502.90" y="352.8" width="18.50" height="3.0" fill="#ffe820"/>
<rect x="410.40" y="355.8" width="18.50" height="3.0" fill="#c8b440"/>
<rect x="428.90" y="355.8" width="18.50" height="3.0" fill="#a0966c"/>
<rect x="447.40" y="355.8" width="18.50" height="3.0" fill="#70709c"/>
<rect x="465.90" y="355.8" width="18.50" height="3.0" fill="#ffc400"/>
<rect x="484.40" y="355.8" width="18.50" height="3.0" fill="#c0b048"/>
<rect x="502.90" y="355.8" width="18.50" height="3.0" fill="#d8c030"/>
<rect x="410.40" y="358.8" width="18.50" height="5.0" fill="#4848b8"/>
<rect x="428.90" y="358.8" width="18.50" height="5.0" fill="#3030c4"/>
<rect x="447.40" y="358.8" width="18.50" height="5.0" fill="#948e7c"/>
<rect x="465.90" y="358.8" width="18.50" height="5.0" fill="#c8b440"/>
<rect x="484.40" y="358.8" width="18.50" height="5.0" fill="#ffe600"/>
<rect x="502.90" y="358.8" width="18.50" height="5.0" fill="#ffda10"/>
<rect x="410.40" y="363.8" width="18.50" height="3.0" fill="#b8a850"/>
<rect x="428.90" y="363.8" width="18.50" height="3.0" fill="#948e7c"/>
<rect x="447.40" y="363.8" width="18.50" height="3.0" fill="#c0b048"/>
<rect x="465.90" y="363.8" width="18.50" height="3.0" fill="#2626cc"/>
<rect x="484.40" y="363.8" width="18.50" height="3.0" fill="#a89858"/>
<rect x="502.90" y="363.8" width="18.50" height="3.0" fill="#70709c"/>
<rect x="410.40" y="366.8" width="18.50" height="3.0" fill="#1c1cd8"/>
<rect x="428.90" y="366.8" width="18.50" height="3.0" fill="#5050b0"/>
<rect x="447.40" y="366.8" width="18.50" height="3.0" fill="#2b2bd0"/>
<rect x="465.90" y="366.8" width="18.50" height="3.0" fill="#ffc810"/>
<rect x="484.40" y="366.8" width="18.50" height="3.0" fill="#ffe600"/>
<rect x="502.90" y="366.8" width="18.50" height="3.0" fill="#ffd800"/>
<rect x="410.40" y="369.8" width="18.50" height="2.0" fill="#c8b440"/>
<rect x="428.90" y="369.8" width="18.50" height="2.0" fill="#d0b838"/>
<rect x="447.40" y="369.8" width="18.50" height="2.0" fill="#4848b8"/>
<rect x="465.90" y="369.8" width="18.50" height="2.0" fill="#a89858"/>
<rect x="484.40" y="369.8" width="18.50" height="2.0" fill="#d0b838"/>
<rect x="502.90" y="369.8" width="18.50" height="2.0" fill="#d0b838"/>
<rect x="410.40" y="371.8" width="18.50" height="2.0" fill="#2b2bd0"/>
<rect x="428.90" y="371.8" width="18.50" height="2.0" fill="#6666a4"/>
<rect x="447.40" y="371.8" width="18.50" height="2.0" fill="#1c1cd8"/>
<rect x="465.90" y="371.8" width="18.50" height="2.0" fill="#ffcc00"/>
<rect x="484.40" y="371.8" width="18.50" height="2.0" fill="#ffd800"/>
<rect x="502.90" y="371.8" width="18.50" height="2.0" fill="#fff030"/>
<rect x="410.40" y="373.8" width="18.50" height="2.0" fill="#c8b440"/>
<rect x="428.90" y="373.8" width="18.50" height="2.0" fill="#88888c"/>
<rect x="447.40" y="373.8" width="18.50" height="2.0" fill="#787896"/>
<rect x="465.90" y="373.8" width="18.50" height="2.0" fill="#b8a850"/>
<rect x="484.40" y="373.8" width="18.50" height="2.0" fill="#ffc400"/>
<rect x="502.90" y="373.8" width="18.50" height="2.0" fill="#a89858"/>
<rect x="410.40" y="375.8" width="18.50" height="3.0" fill="#1a1ad0"/>
<rect x="428.90" y="375.8" width="18.50" height="3.0" fill="#2626cc"/>
<rect x="447.40" y="375.8" width="18.50" height="3.0" fill="#88888c"/>
<rect x="465.90" y="375.8" width="18.50" height="3.0" fill="#ffda10"/>
<rect x="484.40" y="375.8" width="18.50" height="3.0" fill="#ffe600"/>
<rect x="502.90" y="375.8" width="18.50" height="3.0" fill="#ffd800"/>
<rect x="410.40" y="378.8" width="18.50" height="3.0" fill="#70709c"/>
<rect x="428.90" y="378.8" width="18.50" height="3.0" fill="#c0b048"/>
<rect x="447.40" y="378.8" width="18.50" height="3.0" fill="#948e7c"/>
<rect x="465.90" y="378.8" width="18.50" height="3.0" fill="#b8a850"/>
<rect x="484.40" y="378.8" width="18.50" height="3.0" fill="#a89858"/>
<rect x="502.90" y="378.8" width="18.50" height="3.0" fill="#d8c030"/>
<rect x="410.40" y="381.8" width="18.50" height="4.0" fill="#2626cc"/>
<rect x="428.90" y="381.8" width="18.50" height="4.0" fill="#948e7c"/>
<rect x="447.40" y="381.8" width="18.50" height="4.0" fill="#5c5ca8"/>
<rect x="465.90" y="381.8" width="18.50" height="4.0" fill="#ffd800"/>
<rect x="484.40" y="381.8" width="18.50" height="4.0" fill="#ffc810"/>
<rect x="502.90" y="381.8" width="18.50" height="4.0" fill="#d0b838"/>
<rect x="410.40" y="385.8" width="18.50" height="3.0" fill="#7c7c94"/>
<rect x="428.90" y="385.8" width="18.50" height="3.0" fill="#a0966c"/>
<rect x="447.40" y="385.8" width="18.50" height="3.0" fill="#c0b048"/>
<rect x="465.90" y="385.8" width="18.50" height="3.0" fill="#d8c030"/>
<rect x="484.40" y="385.8" width="18.50" height="3.0" fill="#f8d418"/>
<rect x="502.90" y="385.8" width="18.50" height="3.0" fill="#948e7c"/>
<rect x="410.40" y="388.8" width="18.50" height="4.0" fill="#3030c4"/>
<rect x="428.90" y="388.8" width="18.50" height="4.0" fill="#4848b8"/>
<rect x="447.40" y="388.8" width="18.50" height="4.0" fill="#1414e0"/>
<rect x="465.90" y="388.8" width="18.50" height="4.0" fill="#ffc400"/>
<rect x="484.40" y="388.8" width="18.50" height="4.0" fill="#fff030"/>
<rect x="502.90" y="388.8" width="18.50" height="4.0" fill="#c0b048"/>
<rect x="410.40" y="392.8" width="18.50" height="3.0" fill="#948e7c"/>
<rect x="428.90" y="392.8" width="18.50" height="3.0" fill="#a0966c"/>
<rect x="447.40" y="392.8" width="18.50" height="3.0" fill="#6666a4"/>
<rect x="465.90" y="392.8" width="18.50" height="3.0" fill="#c8b440"/>
<rect x="484.40" y="392.8" width="18.50" height="3.0" fill="#d8c030"/>
<rect x="502.90" y="392.8" width="18.50" height="3.0" fill="#b8a850"/>
<rect x="410.40" y="395.8" width="18.50" height="4.0" fill="#4848b8"/>
<rect x="428.90" y="395.8" width="18.50" height="4.0" fill="#1a1ad0"/>
<rect x="447.40" y="395.8" width="18.50" height="4.0" fill="#2626cc"/>
<rect x="465.90" y="395.8" width="18.50" height="4.0" fill="#d8c030"/>
<rect x="484.40" y="395.8" width="18.50" height="4.0" fill="#fff030"/>
<rect x="502.90" y="395.8" width="18.50" height="4.0" fill="#b8a850"/>
<rect x="410.40" y="399.8" width="18.50" height="1.0" fill="#5050b0"/>
<rect x="428.90" y="399.8" width="18.50" height="1.0" fill="#c0b048"/>
<rect x="447.40" y="399.8" width="18.50" height="1.0" fill="#d0b838"/>
<rect x="465.90" y="399.8" width="18.50" height="1.0" fill="#d8c030"/>
<rect x="484.40" y="399.8" width="18.50" height="1.0" fill="#c0b048"/>
<rect x="502.90" y="399.8" width="18.50" height="1.0" fill="#d8c030"/>
<rect x="410.40" y="400.8" width="18.50" height="3.0" fill="#1414e0"/>
<rect x="428.90" y="400.8" width="18.50" height="3.0" fill="#1c1cd8"/>
<rect x="447.40" y="400.8" width="18.50" height="3.0" fill="#6666a4"/>
<rect x="465.90" y="400.8" width="18.50" height="3.0" fill="#ffcc00"/>
<rect x="484.40" y="400.8" width="18.50" height="3.0" fill="#f8d418"/>
<rect x="502.90" y="400.8" width="18.50" height="3.0" fill="#fff030"/>
<rect x="410.40" y="403.8" width="18.50" height="2.0" fill="#7c7c94"/>
<rect x="428.90" y="403.8" width="18.50" height="2.0" fill="#4848b8"/>
<rect x="447.40" y="403.8" width="18.50" height="2.0" fill="#b8a850"/>
<rect x="465.90" y="403.8" width="18.50" height="2.0" fill="#c8b440"/>
<rect x="484.40" y="403.8" width="18.50" height="2.0" fill="#d8c030"/>
<rect x="502.90" y="403.8" width="18.50" height="2.0" fill="#c8b440"/>
<rect x="410.40" y="405.8" width="18.50" height="2.0" fill="#0c0cee"/>
<rect x="428.90" y="405.8" width="18.50" height="2.0" fill="#787896"/>
<rect x="447.40" y="405.8" width="18.50" height="2.0" fill="#3a3ab8"/>
<rect x="465.90" y="405.8" width="18.50" height="2.0" fill="#fff030"/>
<rect x="484.40" y="405.8" width="18.50" height="2.0" fill="#ffc400"/>
<rect x="502.90" y="405.8" width="18.50" height="2.0" fill="#fff030"/>
<rect x="410.40" y="407.8" width="18.50" height="2.0" fill="#948e7c"/>
<rect x="428.90" y="407.8" width="18.50" height="2.0" fill="#787896"/>
<rect x="447.40" y="407.8" width="18.50" height="2.0" fill="#70709c"/>
<rect x="465.90" y="407.8" width="18.50" height="2.0" fill="#3030c4"/>
<rect x="484.40" y="407.8" width="18.50" height="2.0" fill="#a89858"/>
<rect x="502.90" y="407.8" width="18.50" height="2.0" fill="#d0b838"/>
<rect x="410.40" y="409.8" width="18.50" height="3.0" fill="#0c0cee"/>
<rect x="428.90" y="409.8" width="18.50" height="3.0" fill="#5050b0"/>
<rect x="447.40" y="409.8" width="18.50" height="3.0" fill="#5c5ca8"/>
<rect x="465.90" y="409.8" width="18.50" height="3.0" fill="#ffc400"/>
<rect x="484.40" y="409.8" width="18.50" height="3.0" fill="#fff030"/>
<rect x="502.90" y="409.8" width="18.50" height="3.0" fill="#fff030"/>
<rect x="410.40" y="412.8" width="18.50" height="2.0" fill="#787896"/>
<rect x="428.90" y="412.8" width="18.50" height="2.0" fill="#70709c"/>
<rect x="447.40" y="412.8" width="18.50" height="2.0" fill="#6666a4"/>
<rect x="465.90" y="412.8" width="18.50" height="2.0" fill="#d0b838"/>
<rect x="484.40" y="412.8" width="18.50" height="2.0" fill="#d0b838"/>
<rect x="502.90" y="412.8" width="18.50" height="2.0" fill="#c8b440"/>
<rect x="410.40" y="414.8" width="18.50" height="3.0" fill="#6666a4"/>
<rect x="428.90" y="414.8" width="18.50" height="3.0" fill="#1c1cd8"/>
<rect x="447.40" y="414.8" width="18.50" height="3.0" fill="#1c1cd8"/>
<rect x="465.90" y="414.8" width="18.50" height="3.0" fill="#a89858"/>
<rect x="484.40" y="414.8" width="18.50" height="3.0" fill="#f8d418"/>
<rect x="502.90" y="414.8" width="18.50" height="3.0" fill="#ffc400"/>
<rect x="410.40" y="417.8" width="18.50" height="2.0" fill="#b8a850"/>
<rect x="428.90" y="417.8" width="18.50" height="2.0" fill="#5050b0"/>
<rect x="447.40" y="417.8" width="18.50" height="2.0" fill="#88888c"/>
<rect x="465.90" y="417.8" width="18.50" height="2.0" fill="#a89858"/>
<rect x="484.40" y="417.8" width="18.50" height="2.0" fill="#b8a850"/>
<rect x="502.90" y="417.8" width="18.50" height="2.0" fill="#d0b838"/>
<rect x="410.40" y="419.8" width="18.50" height="2.0" fill="#1414e0"/>
<rect x="428.90" y="419.8" width="18.50" height="2.0" fill="#4848b8"/>
<rect x="447.40" y="419.8" width="18.50" height="2.0" fill="#2b2bd0"/>
<rect x="465.90" y="419.8" width="18.50" height="2.0" fill="#ffe820"/>
<rect x="484.40" y="419.8" width="18.50" height="2.0" fill="#ffcc00"/>
<rect x="502.90" y="419.8" width="18.50" height="2.0" fill="#fff030"/>
<rect x="410.40" y="421.8" width="18.50" height="3.0" fill="#a0966c"/>
<rect x="428.90" y="421.8" width="18.50" height="3.0" fill="#a89858"/>
<rect x="447.40" y="421.8" width="18.50" height="3.0" fill="#70709c"/>
<rect x="465.90" y="421.8" width="18.50" height="3.0" fill="#d0b838"/>
<rect x="484.40" y="421.8" width="18.50" height="3.0" fill="#ffda10"/>
<rect x="502.90" y="421.8" width="18.50" height="3.0" fill="#ffe600"/>
<rect x="410.40" y="424.8" width="18.50" height="2.2" fill="#2626cc"/>
<rect x="428.90" y="424.8" width="18.50" height="2.2" fill="#0c0cee"/>
<rect x="447.40" y="424.8" width="18.50" height="2.2" fill="#2626cc"/>
<rect x="465.90" y="424.8" width="18.50" height="2.2" fill="#ffcc00"/>
<rect x="484.40" y="424.8" width="18.50" height="2.2" fill="#ffd800"/>
<rect x="502.90" y="424.8" width="18.50" height="2.2" fill="#ffcc00"/>
<rect x="410.4" y="427" width="55.50" height="3" fill="#f09030"/>
<rect x="465.90" y="427" width="55.50" height="3" fill="#6a6a80"/>
</g>
<rect x="409.4" y="282.3" width="110.1" height="148.2" fill="none" stroke="#000" stroke-width="2"/>
<text x="409" y="446.4" font-size="10.8">CpG me</text>
<text x="409" y="459.1" font-size="10.8">(β value)</text>
<rect x="408.6" y="471.0" width="6.2" height="6.2" fill="#000" stroke="#000" stroke-width="1.3"/>
<text x="418.8" y="477.6" font-size="10.7">0.0 to 0.2</text>
<rect x="408.6" y="481.3" width="6.2" height="6.2" fill="#4f81bd" stroke="#000" stroke-width="1.3"/>
<text x="418.8" y="488.2" font-size="10.7">0.2 to 0.4</text>
<rect x="408.6" y="491.2" width="6.2" height="6.2" fill="#ffee00" stroke="#000" stroke-width="1.3"/>
<text x="418.8" y="498" font-size="10.7">0.4 to 0.6</text>
<rect x="408.6" y="501.0" width="6.2" height="6.2" fill="#ffa800" stroke="#000" stroke-width="1.3"/>
<text x="418.8" y="507.8" font-size="10.7">0.6 to 0.8</text>
<rect x="408.6" y="510.59999999999997" width="6.2" height="6.2" fill="#e00000" stroke="#000" stroke-width="1.3"/>
<text x="418.8" y="517.2" font-size="10.7">0.8 to 1.0</text>
<text x="0" y="529.6" font-size="11">WT1me (TCGA)</text>
<text x="89" y="529.6" font-size="11">THP1 WT1mut</text>
<defs><radialGradient id="gg"><stop offset="0" stop-color="#fcd9bc"/><stop offset=".55" stop-color="#f9caa4"/><stop offset="1" stop-color="#f4b084"/></radialGradient></defs>
<defs>
<clipPath id="vg0"><circle cx="62.6" cy="565.6" r="29.2"/></clipPath>
<clipPath id="vg1"><circle cx="95.8" cy="565.6" r="29.6"/></clipPath>
</defs>
<circle cx="62.6" cy="565.6" r="29.2" fill="url(#gg)"/>
<circle cx="95.8" cy="565.6" r="29.6" fill="url(#gg)"/>
<circle cx="95.8" cy="565.6" r="29.6" fill="#f1a56e" clip-path="url(#vg0)"/>
<g fill="none" stroke="#4a2a10" stroke-width="1.4">
<circle cx="62.6" cy="565.6" r="29.2"/>
<circle cx="95.8" cy="565.6" r="29.6"/>
</g>
<g stroke-width=".5">
<text x="49.6" y="565.8" font-size="11" text-anchor="middle">909</text>
<text x="79" y="570.2" font-size="11.8" text-anchor="middle">324</text>
<text x="108.2" y="567" font-size="11" text-anchor="middle">2245</text>
</g>
<text x="34.4" y="619.6" font-size="11">*p-value =8.5E-34</text>
<rect x="256.8" y="501.4" width="119.2" height="106.2" fill="#fff" stroke="#b0b0b0" stroke-width="1.1"/>
<g font-size="8.6" font-weight="bold" text-anchor="end" stroke-width=".2">
<text x="251" y="510.1">25</text>
<text x="251" y="530.8000000000001">20</text>
<text x="251" y="552.6">15</text>
<text x="251" y="574.8000000000001">10</text>
<text x="251" y="597.1">5</text>
</g>
<g font-size="8.6" font-weight="bold" text-anchor="middle" stroke-width=".15">
<text x="258.2" y="619">-0.6</text>
<text x="279.5" y="619">-0.4</text>
<text x="298.8" y="619">-0.2</text>
<text x="315.6" y="619">0</text>
<text x="339" y="619">0.2</text>
<text x="356.2" y="619">0.4</text>
<text x="378" y="619">0.6</text>
</g>
<text font-size="11" text-anchor="middle" transform="translate(234,559.4) rotate(-90)">-log[BH p-value]</text>
<text x="319.3" y="634.5" font-size="11" text-anchor="middle">DNA Methylation Difference</text>
<text x="305" y="647.7" font-size="11" text-anchor="middle">(WT1 mut – WT1 WT)</text>
<path d="M268.8 655.7V661.8H310.4Z" fill="#c9c99b" stroke="#222" stroke-width=".9"/>
<path d="M325.3 661.8H367.7V655Z" fill="#e01010" stroke="#222" stroke-width=".9"/>
<text x="227.6" y="678.8" font-size="11">more methylated</text>
<text x="227.6" y="692" font-size="11">in WT1 wildtype</text>
<text x="320" y="678.8" font-size="11">more methylated</text>
<text x="320" y="692" font-size="11">in WT1 mut</text>
<g fill="#111" fill-opacity=".34">
<circle cx="329.7" cy="593.0" r="1.15"/><circle cx="329.8" cy="594.6" r="1.15"/><circle cx="327.5" cy="594.5" r="1.15"/><circle cx="335.1" cy="603.1" r="1.15"/><circle cx="326.9" cy="581.3" r="1.15"/><circle cx="332.2" cy="591.1" r="1.15"/><circle cx="326.5" cy="598.9" r="1.15"/><circle cx="327.9" cy="604.0" r="1.15"/>
<circle cx="329.6" cy="578.7" r="1.15"/><circle cx="332.0" cy="594.8" r="1.15"/><circle cx="329.8" cy="599.9" r="1.15"/><circle cx="356.4" cy="578.9" r="1.15"/><circle cx="328.5" cy="600.8" r="1.15"/><circle cx="326.8" cy="584.2" r="1.15"/><circle cx="336.7" cy="597.6" r="1.15"/><circle cx="336.7" cy="604.4" r="1.15"/>
<circle cx="339.7" cy="595.6" r="1.15"/><circle cx="329.2" cy="603.4" r="1.15"/><circle cx="334.7" cy="593.9" r="1.15"/><circle cx="344.7" cy="597.1" r="1.15"/><circle cx="327.0" cy="603.6" r="1.15"/><circle cx="327.5" cy="593.0" r="1.15"/><circle cx="327.6" cy="586.1" r="1.15"/><circle cx="332.1" cy="602.7" r="1.15"/>
<circle cx="327.7" cy="600.1" r="1.15"/><circle cx="335.3" cy="599.4" r="1.15"/><circle cx="327.7" cy="597.5" r="1.15"/><circle cx="332.0" cy="603.0" r="1.15"/><circle cx="327.7" cy="600.3" r="1.15"/><circle cx="328.6" cy="602.0" r="1.15"/><circle cx="331.2" cy="600.6" r="1.15"/><circle cx="329.0" cy="596.0" r="1.15"/>
<circle cx="330.0" cy="592.5" r="1.15"/><circle cx="327.5" cy="602.1" r="1.15"/><circle cx="335.8" cy="600.4" r="1.15"/><circle cx="333.8" cy="565.2" r="1.15"/><circle cx="342.9" cy="574.7" r="1.15"/><circle cx="327.9" cy="587.5" r="1.15"/><circle cx="335.9" cy="591.8" r="1.15"/><circle cx="327.5" cy="597.7" r="1.15"/>
<circle cx="330.9" cy="577.8" r="1.15"/><circle cx="328.2" cy="569.7" r="1.15"/><circle cx="326.5" cy="600.1" r="1.15"/><circle cx="326.7" cy="601.7" r="1.15"/><circle cx="331.1" cy="602.5" r="1.15"/><circle cx="338.6" cy="549.6" r="1.15"/><circle cx="332.9" cy="592.2" r="1.15"/><circle cx="326.6" cy="604.2" r="1.15"/>
<circle cx="333.0" cy="578.1" r="1.15"/><circle cx="330.0" cy="586.2" r="1.15"/><circle cx="366.8" cy="603.4" r="1.15"/><circle cx="333.7" cy="572.4" r="1.15"/><circle cx="333.1" cy="582.5" r="1.15"/><circle cx="328.8" cy="588.4" r="1.15"/><circle cx="337.7" cy="596.9" r="1.15"/><circle cx="337.4" cy="592.6" r="1.15"/>
<circle cx="329.0" cy="592.3" r="1.15"/><circle cx="326.9" cy="590.2" r="1.15"/><circle cx="338.1" cy="586.3" r="1.15"/><circle cx="333.7" cy="592.3" r="1.15"/><circle cx="336.4" cy="603.2" r="1.15"/><circle cx="326.6" cy="591.6" r="1.15"/><circle cx="327.8" cy="587.8" r="1.15"/><circle cx="331.6" cy="569.2" r="1.15"/>
<circle cx="326.5" cy="599.5" r="1.15"/><circle cx="327.6" cy="601.9" r="1.15"/><circle cx="332.3" cy="596.3" r="1.15"/><circle cx="328.6" cy="589.2" r="1.15"/><circle cx="329.5" cy="581.6" r="1.15"/><circle cx="338.1" cy="597.7" r="1.15"/><circle cx="328.5" cy="602.4" r="1.15"/><circle cx="336.4" cy="578.2" r="1.15"/>
<circle cx="342.9" cy="599.9" r="1.15"/><circle cx="329.7" cy="600.0" r="1.15"/><circle cx="329.3" cy="590.8" r="1.15"/><circle cx="328.5" cy="579.0" r="1.15"/><circle cx="329.7" cy="550.6" r="1.15"/><circle cx="326.6" cy="587.3" r="1.15"/><circle cx="328.4" cy="600.6" r="1.15"/><circle cx="329.7" cy="604.1" r="1.15"/>
<circle cx="327.9" cy="578.5" r="1.15"/><circle cx="329.7" cy="590.6" r="1.15"/><circle cx="335.5" cy="560.2" r="1.15"/><circle cx="327.6" cy="595.5" r="1.15"/><circle cx="326.5" cy="595.5" r="1.15"/><circle cx="327.5" cy="600.0" r="1.15"/><circle cx="333.0" cy="594.2" r="1.15"/><circle cx="334.2" cy="597.5" r="1.15"/>
<circle cx="339.4" cy="603.2" r="1.15"/><circle cx="333.4" cy="602.5" r="1.15"/><circle cx="331.8" cy="570.9" r="1.15"/><circle cx="331.0" cy="575.0" r="1.15"/><circle cx="342.3" cy="595.8" r="1.15"/><circle cx="327.7" cy="586.6" r="1.15"/><circle cx="332.0" cy="586.8" r="1.15"/><circle cx="339.1" cy="549.6" r="1.15"/>
<circle cx="330.6" cy="582.7" r="1.15"/><circle cx="339.6" cy="577.5" r="1.15"/><circle cx="326.9" cy="596.3" r="1.15"/><circle cx="334.4" cy="561.2" r="1.15"/><circle cx="326.8" cy="582.0" r="1.15"/><circle cx="328.6" cy="582.9" r="1.15"/><circle cx="327.3" cy="594.3" r="1.15"/><circle cx="336.5" cy="588.2" r="1.15"/>
<circle cx="330.1" cy="597.9" r="1.15"/><circle cx="330.5" cy="599.7" r="1.15"/><circle cx="332.0" cy="594.1" r="1.15"/><circle cx="330.9" cy="599.2" r="1.15"/><circle cx="336.7" cy="572.3" r="1.15"/><circle cx="336.9" cy="556.3" r="1.15"/><circle cx="331.1" cy="601.3" r="1.15"/><circle cx="330.4" cy="597.3" r="1.15"/>
<circle cx="331.0" cy="595.0" r="1.15"/><circle cx="326.8" cy="593.7" r="1.15"/><circle cx="343.7" cy="568.7" r="1.15"/><circle cx="329.9" cy="602.5" r="1.15"/><circle cx="335.7" cy="572.3" r="1.15"/><circle cx="328.5" cy="601.5" r="1.15"/><circle cx="340.7" cy="602.5" r="1.15"/><circle cx="326.5" cy="601.4" r="1.15"/>
<circle cx="332.8" cy="599.0" r="1.15"/><circle cx="331.7" cy="602.9" r="1.15"/><circle cx="327.1" cy="594.5" r="1.15"/><circle cx="327.6" cy="593.9" r="1.15"/><circle cx="329.0" cy="597.0" r="1.15"/><circle cx="327.4" cy="601.3" r="1.15"/><circle cx="332.0" cy="593.9" r="1.15"/><circle cx="331.6" cy="577.4" r="1.15"/>
<circle cx="333.8" cy="581.3" r="1.15"/><circle cx="328.5" cy="599.2" r="1.15"/><circle cx="327.2" cy="600.6" r="1.15"/><circle cx="328.1" cy="603.0" r="1.15"/><circle cx="329.4" cy="582.7" r="1.15"/><circle cx="329.2" cy="598.6" r="1.15"/><circle cx="332.7" cy="570.7" r="1.15"/><circle cx="327.1" cy="594.6" r="1.15"/>
<circle cx="330.2" cy="588.3" r="1.15"/><circle cx="326.8" cy="583.5" r="1.15"/><circle cx="330.4" cy="592.7" r="1.15"/><circle cx="327.5" cy="601.3" r="1.15"/><circle cx="351.9" cy="602.8" r="1.15"/><circle cx="343.0" cy="595.8" r="1.15"/><circle cx="328.6" cy="595.7" r="1.15"/><circle cx="329.5" cy="572.9" r="1.15"/>
<circle cx="336.6" cy="601.7" r="1.15"/><circle cx="333.8" cy="597.2" r="1.15"/><circle cx="335.3" cy="587.5" r="1.15"/><circle cx="331.9" cy="597.2" r="1.15"/><circle cx="330.3" cy="548.0" r="1.15"/><circle cx="328.0" cy="570.7" r="1.15"/><circle cx="334.7" cy="581.0" r="1.15"/><circle cx="338.9" cy="574.9" r="1.15"/>
<circle cx="334.4" cy="584.3" r="1.15"/><circle cx="333.5" cy="603.4" r="1.15"/><circle cx="329.9" cy="604.3" r="1.15"/><circle cx="332.0" cy="590.8" r="1.15"/><circle cx="342.3" cy="589.2" r="1.15"/><circle cx="332.3" cy="592.7" r="1.15"/><circle cx="333.0" cy="584.5" r="1.15"/><circle cx="326.5" cy="591.1" r="1.15"/>
<circle cx="328.0" cy="598.8" r="1.15"/><circle cx="329.0" cy="603.0" r="1.15"/><circle cx="339.4" cy="593.3" r="1.15"/><circle cx="345.2" cy="592.8" r="1.15"/><circle cx="332.0" cy="580.7" r="1.15"/><circle cx="334.2" cy="603.8" r="1.15"/><circle cx="327.4" cy="595.6" r="1.15"/><circle cx="329.4" cy="594.0" r="1.15"/>
<circle cx="328.9" cy="599.8" r="1.15"/><circle cx="330.9" cy="599.8" r="1.15"/><circle cx="328.3" cy="604.2" r="1.15"/><circle cx="326.6" cy="602.1" r="1.15"/><circle cx="329.1" cy="572.7" r="1.15"/><circle cx="326.8" cy="571.6" r="1.15"/><circle cx="330.0" cy="554.1" r="1.15"/><circle cx="330.5" cy="565.9" r="1.15"/>
<circle cx="329.9" cy="550.8" r="1.15"/><circle cx="331.5" cy="602.7" r="1.15"/><circle cx="329.7" cy="584.8" r="1.15"/><circle cx="327.1" cy="596.3" r="1.15"/><circle cx="329.7" cy="600.2" r="1.15"/><circle cx="329.4" cy="583.5" r="1.15"/><circle cx="359.7" cy="562.0" r="1.15"/><circle cx="327.9" cy="602.8" r="1.15"/>
<circle cx="334.8" cy="590.8" r="1.15"/><circle cx="328.1" cy="588.4" r="1.15"/><circle cx="331.3" cy="590.5" r="1.15"/><circle cx="327.6" cy="600.5" r="1.15"/><circle cx="340.0" cy="602.8" r="1.15"/><circle cx="328.1" cy="596.7" r="1.15"/><circle cx="327.0" cy="602.1" r="1.15"/><circle cx="332.6" cy="593.3" r="1.15"/>
<circle cx="329.0" cy="595.4" r="1.15"/><circle cx="328.7" cy="585.4" r="1.15"/><circle cx="326.8" cy="602.7" r="1.15"/><circle cx="331.8" cy="584.1" r="1.15"/><circle cx="329.4" cy="600.3" r="1.15"/><circle cx="328.9" cy="589.7" r="1.15"/><circle cx="328.6" cy="593.4" r="1.15"/><circle cx="340.3" cy="596.7" r="1.15"/>
<circle cx="327.0" cy="602.2" r="1.15"/><circle cx="331.0" cy="595.2" r="1.15"/><circle cx="328.4" cy="598.2" r="1.15"/><circle cx="332.4" cy="603.3" r="1.15"/><circle cx="333.5" cy="588.0" r="1.15"/><circle cx="327.2" cy="598.3" r="1.15"/><circle cx="328.9" cy="602.7" r="1.15"/><circle cx="331.0" cy="569.5" r="1.15"/>
<circle cx="339.9" cy="596.4" r="1.15"/><circle cx="328.4" cy="599.1" r="1.15"/><circle cx="341.4" cy="573.1" r="1.15"/><circle cx="328.9" cy="598.1" r="1.15"/><circle cx="329.2" cy="597.6" r="1.15"/><circle cx="331.0" cy="582.2" r="1.15"/><circle cx="336.4" cy="592.9" r="1.15"/><circle cx="334.2" cy="574.8" r="1.15"/>
<circle cx="326.5" cy="594.3" r="1.15"/><circle cx="331.0" cy="557.2" r="1.15"/><circle cx="335.4" cy="603.5" r="1.15"/><circle cx="334.9" cy="569.6" r="1.15"/><circle cx="339.0" cy="603.2" r="1.15"/><circle cx="327.3" cy="585.4" r="1.15"/><circle cx="327.9" cy="601.0" r="1.15"/><circle cx="330.5" cy="584.3" r="1.15"/>
<circle cx="328.7" cy="556.4" r="1.15"/><circle cx="330.1" cy="593.7" r="1.15"/><circle cx="333.2" cy="570.1" r="1.15"/><circle cx="336.0" cy="589.1" r="1.15"/><circle cx="335.4" cy="579.5" r="1.15"/><circle cx="343.8" cy="590.2" r="1.15"/><circle cx="333.2" cy="581.9" r="1.15"/><circle cx="329.4" cy="602.2" r="1.15"/>
<circle cx="352.3" cy="597.9" r="1.15"/><circle cx="327.7" cy="596.7" r="1.15"/><circle cx="345.6" cy="603.6" r="1.15"/><circle cx="327.1" cy="589.9" r="1.15"/><circle cx="327.5" cy="603.5" r="1.15"/><circle cx="331.2" cy="601.4" r="1.15"/><circle cx="327.5" cy="601.0" r="1.15"/><circle cx="333.3" cy="591.9" r="1.15"/>
<circle cx="327.5" cy="599.8" r="1.15"/><circle cx="334.2" cy="599.2" r="1.15"/><circle cx="335.7" cy="595.4" r="1.15"/><circle cx="338.4" cy="570.2" r="1.15"/><circle cx="330.8" cy="560.6" r="1.15"/><circle cx="327.8" cy="603.7" r="1.15"/><circle cx="335.3" cy="597.7" r="1.15"/><circle cx="330.4" cy="600.0" r="1.15"/>
<circle cx="332.3" cy="587.7" r="1.15"/><circle cx="329.0" cy="582.3" r="1.15"/><circle cx="331.5" cy="602.1" r="1.15"/><circle cx="328.5" cy="600.3" r="1.15"/><circle cx="330.4" cy="590.3" r="1.15"/><circle cx="328.1" cy="593.8" r="1.15"/><circle cx="334.5" cy="604.4" r="1.15"/><circle cx="336.7" cy="596.2" r="1.15"/>
<circle cx="333.3" cy="603.0" r="1.15"/><circle cx="329.9" cy="561.1" r="1.15"/><circle cx="337.1" cy="599.4" r="1.15"/><circle cx="329.4" cy="558.7" r="1.15"/><circle cx="327.7" cy="593.5" r="1.15"/><circle cx="327.3" cy="579.6" r="1.15"/><circle cx="328.4" cy="603.3" r="1.15"/><circle cx="329.9" cy="587.0" r="1.15"/>
<circle cx="332.8" cy="602.9" r="1.15"/><circle cx="329.8" cy="557.0" r="1.15"/><circle cx="332.2" cy="604.3" r="1.15"/><circle cx="333.2" cy="600.7" r="1.15"/><circle cx="329.8" cy="604.3" r="1.15"/><circle cx="335.2" cy="601.2" r="1.15"/><circle cx="328.3" cy="597.9" r="1.15"/><circle cx="328.3" cy="598.7" r="1.15"/>
<circle cx="332.4" cy="600.3" r="1.15"/><circle cx="333.6" cy="598.9" r="1.15"/><circle cx="331.0" cy="586.5" r="1.15"/><circle cx="336.0" cy="603.1" r="1.15"/><circle cx="326.9" cy="588.7" r="1.15"/><circle cx="327.5" cy="597.3" r="1.15"/><circle cx="331.3" cy="603.1" r="1.15"/><circle cx="327.3" cy="602.6" r="1.15"/>
<circle cx="326.8" cy="569.2" r="1.15"/><circle cx="330.3" cy="589.9" r="1.15"/><circle cx="335.9" cy="597.7" r="1.15"/><circle cx="329.3" cy="604.2" r="1.15"/><circle cx="333.0" cy="548.6" r="1.15"/><circle cx="332.3" cy="593.9" r="1.15"/><circle cx="328.7" cy="592.1" r="1.15"/><circle cx="330.3" cy="582.8" r="1.15"/>
<circle cx="331.6" cy="602.0" r="1.15"/><circle cx="339.2" cy="593.4" r="1.15"/><circle cx="330.2" cy="602.3" r="1.15"/><circle cx="350.2" cy="594.3" r="1.15"/><circle cx="336.3" cy="601.4" r="1.15"/><circle cx="331.8" cy="597.1" r="1.15"/><circle cx="331.1" cy="587.8" r="1.15"/><circle cx="341.0" cy="598.2" r="1.15"/>
<circle cx="327.1" cy="553.9" r="1.15"/><circle cx="339.3" cy="593.5" r="1.15"/><circle cx="330.9" cy="600.2" r="1.15"/><circle cx="353.0" cy="580.8" r="1.15"/><circle cx="327.1" cy="580.2" r="1.15"/><circle cx="338.9" cy="600.6" r="1.15"/><circle cx="336.2" cy="601.6" r="1.15"/><circle cx="326.8" cy="604.0" r="1.15"/>
<circle cx="350.3" cy="565.4" r="1.15"/><circle cx="328.4" cy="589.0" r="1.15"/><circle cx="329.0" cy="592.0" r="1.15"/><circle cx="326.5" cy="601.3" r="1.15"/><circle cx="327.2" cy="597.6" r="1.15"/><circle cx="327.4" cy="594.2" r="1.15"/><circle cx="331.0" cy="598.8" r="1.15"/><circle cx="326.6" cy="589.0" r="1.15"/>
<circle cx="344.0" cy="591.7" r="1.15"/><circle cx="329.3" cy="590.8" r="1.15"/><circle cx="334.2" cy="585.0" r="1.15"/><circle cx="355.1" cy="579.1" r="1.15"/><circle cx="329.3" cy="596.5" r="1.15"/><circle cx="339.4" cy="594.0" r="1.15"/><circle cx="329.5" cy="571.8" r="1.15"/><circle cx="326.7" cy="586.4" r="1.15"/>
<circle cx="333.6" cy="591.8" r="1.15"/><circle cx="328.4" cy="601.0" r="1.15"/><circle cx="329.7" cy="594.7" r="1.15"/><circle cx="326.7" cy="587.9" r="1.15"/><circle cx="327.9" cy="599.3" r="1.15"/><circle cx="327.9" cy="603.5" r="1.15"/><circle cx="345.1" cy="589.2" r="1.15"/><circle cx="329.4" cy="581.7" r="1.15"/>
<circle cx="334.0" cy="592.8" r="1.15"/><circle cx="327.0" cy="582.6" r="1.15"/><circle cx="330.6" cy="597.1" r="1.15"/><circle cx="328.4" cy="545.6" r="1.15"/><circle cx="335.7" cy="597.4" r="1.15"/><circle cx="331.2" cy="544.7" r="1.15"/><circle cx="328.4" cy="594.8" r="1.15"/><circle cx="347.2" cy="595.5" r="1.15"/>
<circle cx="328.3" cy="568.8" r="1.15"/><circle cx="327.6" cy="579.1" r="1.15"/><circle cx="329.9" cy="601.8" r="1.15"/><circle cx="356.0" cy="601.3" r="1.15"/><circle cx="327.6" cy="601.5" r="1.15"/><circle cx="333.5" cy="599.2" r="1.15"/><circle cx="337.6" cy="587.1" r="1.15"/><circle cx="332.9" cy="565.8" r="1.15"/>
<circle cx="326.9" cy="600.9" r="1.15"/><circle cx="333.2" cy="601.4" r="1.15"/><circle cx="327.9" cy="589.2" r="1.15"/><circle cx="329.0" cy="589.3" r="1.15"/><circle cx="331.3" cy="600.8" r="1.15"/><circle cx="340.8" cy="589.1" r="1.15"/><circle cx="332.0" cy="603.1" r="1.15"/><circle cx="329.6" cy="594.0" r="1.15"/>
<circle cx="326.7" cy="591.7" r="1.15"/><circle cx="328.0" cy="595.7" r="1.15"/><circle cx="334.2" cy="600.5" r="1.15"/><circle cx="330.8" cy="601.6" r="1.15"/><circle cx="350.6" cy="604.0" r="1.15"/><circle cx="334.0" cy="597.7" r="1.15"/><circle cx="330.2" cy="601.7" r="1.15"/><circle cx="332.1" cy="598.2" r="1.15"/>
<circle cx="334.8" cy="594.3" r="1.15"/><circle cx="336.7" cy="588.4" r="1.15"/><circle cx="343.0" cy="601.8" r="1.15"/><circle cx="327.4" cy="591.4" r="1.15"/><circle cx="329.6" cy="583.8" r="1.15"/><circle cx="335.0" cy="600.7" r="1.15"/><circle cx="327.8" cy="592.4" r="1.15"/><circle cx="326.6" cy="591.8" r="1.15"/>
<circle cx="331.1" cy="575.7" r="1.15"/><circle cx="327.3" cy="604.2" r="1.15"/><circle cx="329.5" cy="596.3" r="1.15"/><circle cx="335.2" cy="603.4" r="1.15"/><circle cx="331.0" cy="593.5" r="1.15"/><circle cx="327.9" cy="602.2" r="1.15"/><circle cx="326.6" cy="599.2" r="1.15"/><circle cx="330.5" cy="600.2" r="1.15"/>
<circle cx="326.9" cy="580.5" r="1.15"/><circle cx="328.0" cy="602.0" r="1.15"/><circle cx="336.2" cy="590.6" r="1.15"/><circle cx="328.9" cy="601.0" r="1.15"/><circle cx="326.6" cy="595.1" r="1.15"/><circle cx="350.0" cy="602.3" r="1.15"/><circle cx="333.9" cy="603.9" r="1.15"/><circle cx="338.5" cy="602.3" r="1.15"/>
<circle cx="328.3" cy="603.5" r="1.15"/><circle cx="356.9" cy="584.4" r="1.15"/><circle cx="327.8" cy="600.4" r="1.15"/><circle cx="327.9" cy="595.8" r="1.15"/><circle cx="328.9" cy="598.7" r="1.15"/><circle cx="331.6" cy="603.9" r="1.15"/><circle cx="332.2" cy="603.6" r="1.15"/><circle cx="332.9" cy="576.6" r="1.15"/>
<circle cx="338.4" cy="595.8" r="1.15"/><circle cx="336.6" cy="597.8" r="1.15"/><circle cx="327.7" cy="598.5" r="1.15"/><circle cx="330.8" cy="601.9" r="1.15"/><circle cx="327.7" cy="595.7" r="1.15"/><circle cx="337.3" cy="601.3" r="1.15"/><circle cx="326.8" cy="588.1" r="1.15"/><circle cx="328.2" cy="604.2" r="1.15"/>
<circle cx="328.1" cy="597.5" r="1.15"/><circle cx="333.3" cy="600.1" r="1.15"/><circle cx="327.3" cy="566.0" r="1.15"/><circle cx="334.4" cy="586.5" r="1.15"/><circle cx="326.5" cy="599.0" r="1.15"/><circle cx="326.9" cy="574.6" r="1.15"/><circle cx="334.5" cy="591.4" r="1.15"/><circle cx="327.9" cy="603.9" r="1.15"/>
<circle cx="331.4" cy="604.0" r="1.15"/><circle cx="329.4" cy="593.5" r="1.15"/><circle cx="333.1" cy="600.2" r="1.15"/><circle cx="332.4" cy="602.2" r="1.15"/><circle cx="328.2" cy="587.1" r="1.15"/><circle cx="329.1" cy="576.5" r="1.15"/><circle cx="328.3" cy="598.6" r="1.15"/><circle cx="326.6" cy="604.1" r="1.15"/>
<circle cx="331.0" cy="581.4" r="1.15"/><circle cx="328.3" cy="589.0" r="1.15"/><circle cx="327.7" cy="588.2" r="1.15"/><circle cx="343.5" cy="576.2" r="1.15"/><circle cx="331.9" cy="603.1" r="1.15"/><circle cx="329.1" cy="603.6" r="1.15"/><circle cx="328.6" cy="594.9" r="1.15"/><circle cx="327.3" cy="597.3" r="1.15"/>
<circle cx="327.4" cy="589.2" r="1.15"/><circle cx="326.9" cy="598.6" r="1.15"/><circle cx="327.3" cy="592.3" r="1.15"/><circle cx="330.8" cy="591.5" r="1.15"/><circle cx="328.9" cy="603.5" r="1.15"/><circle cx="326.7" cy="594.9" r="1.15"/><circle cx="329.9" cy="599.0" r="1.15"/><circle cx="326.5" cy="598.5" r="1.15"/>
<circle cx="331.0" cy="600.2" r="1.15"/><circle cx="327.5" cy="595.6" r="1.15"/><circle cx="343.4" cy="598.2" r="1.15"/><circle cx="342.1" cy="583.9" r="1.15"/><circle cx="331.7" cy="597.1" r="1.15"/><circle cx="328.2" cy="579.8" r="1.15"/><circle cx="329.0" cy="600.6" r="1.15"/><circle cx="330.3" cy="599.3" r="1.15"/>
<circle cx="347.1" cy="602.2" r="1.15"/><circle cx="327.8" cy="588.6" r="1.15"/><circle cx="326.4" cy="593.5" r="1.15"/><circle cx="327.9" cy="595.0" r="1.15"/><circle cx="330.8" cy="590.8" r="1.15"/><circle cx="336.2" cy="556.2" r="1.15"/><circle cx="328.7" cy="574.2" r="1.15"/><circle cx="333.3" cy="587.9" r="1.15"/>
<circle cx="344.7" cy="580.2" r="1.15"/><circle cx="331.7" cy="595.0" r="1.15"/><circle cx="328.9" cy="599.8" r="1.15"/><circle cx="330.6" cy="600.7" r="1.15"/><circle cx="328.6" cy="601.7" r="1.15"/><circle cx="327.1" cy="601.6" r="1.15"/><circle cx="333.1" cy="602.8" r="1.15"/><circle cx="334.5" cy="595.3" r="1.15"/>
<circle cx="337.5" cy="596.8" r="1.15"/><circle cx="330.3" cy="582.3" r="1.15"/><circle cx="333.3" cy="600.4" r="1.15"/><circle cx="328.6" cy="598.8" r="1.15"/><circle cx="336.6" cy="579.9" r="1.15"/><circle cx="329.4" cy="587.4" r="1.15"/><circle cx="336.2" cy="582.0" r="1.15"/><circle cx="329.0" cy="589.0" r="1.15"/>
<circle cx="327.5" cy="604.2" r="1.15"/><circle cx="342.0" cy="555.4" r="1.15"/><circle cx="332.8" cy="596.9" r="1.15"/><circle cx="329.2" cy="566.7" r="1.15"/><circle cx="326.7" cy="603.3" r="1.15"/><circle cx="328.3" cy="586.2" r="1.15"/><circle cx="327.1" cy="584.0" r="1.15"/><circle cx="330.0" cy="597.9" r="1.15"/>
<circle cx="335.3" cy="579.0" r="1.15"/><circle cx="329.1" cy="591.1" r="1.15"/><circle cx="348.2" cy="597.6" r="1.15"/><circle cx="330.7" cy="582.0" r="1.15"/><circle cx="327.5" cy="602.9" r="1.15"/><circle cx="328.0" cy="595.1" r="1.15"/><circle cx="328.6" cy="604.2" r="1.15"/><circle cx="327.3" cy="590.8" r="1.15"/>
<circle cx="327.8" cy="595.3" r="1.15"/><circle cx="328.4" cy="603.3" r="1.15"/><circle cx="337.5" cy="595.2" r="1.15"/><circle cx="335.4" cy="583.6" r="1.15"/><circle cx="332.3" cy="590.9" r="1.15"/><circle cx="341.8" cy="576.6" r="1.15"/><circle cx="329.6" cy="579.5" r="1.15"/><circle cx="327.5" cy="604.1" r="1.15"/>
<circle cx="327.1" cy="603.4" r="1.15"/><circle cx="334.1" cy="599.3" r="1.15"/><circle cx="326.5" cy="601.2" r="1.15"/><circle cx="326.5" cy="594.0" r="1.15"/><circle cx="335.0" cy="585.9" r="1.15"/><circle cx="335.3" cy="580.0" r="1.15"/><circle cx="349.9" cy="603.0" r="1.15"/><circle cx="329.2" cy="587.4" r="1.15"/>
<circle cx="339.6" cy="604.1" r="1.15"/><circle cx="327.8" cy="597.6" r="1.15"/><circle cx="332.3" cy="581.3" r="1.15"/><circle cx="332.0" cy="598.4" r="1.15"/><circle cx="339.4" cy="593.8" r="1.15"/><circle cx="333.8" cy="601.1" r="1.15"/><circle cx="330.7" cy="588.6" r="1.15"/><circle cx="327.0" cy="602.3" r="1.15"/>
<circle cx="329.5" cy="604.3" r="1.15"/><circle cx="329.2" cy="599.0" r="1.15"/><circle cx="343.1" cy="601.3" r="1.15"/><circle cx="329.5" cy="558.7" r="1.15"/><circle cx="329.3" cy="587.4" r="1.15"/><circle cx="328.2" cy="588.7" r="1.15"/><circle cx="328.5" cy="601.6" r="1.15"/><circle cx="351.4" cy="602.2" r="1.15"/>
<circle cx="329.0" cy="590.1" r="1.15"/><circle cx="331.7" cy="574.0" r="1.15"/><circle cx="331.8" cy="594.7" r="1.15"/><circle cx="327.1" cy="579.1" r="1.15"/><circle cx="329.7" cy="589.2" r="1.15"/><circle cx="329.1" cy="600.8" r="1.15"/><circle cx="331.1" cy="578.7" r="1.15"/><circle cx="329.7" cy="591.9" r="1.15"/>
<circle cx="341.2" cy="602.1" r="1.15"/><circle cx="353.6" cy="585.8" r="1.15"/><circle cx="333.7" cy="541.1" r="1.15"/><circle cx="337.5" cy="602.6" r="1.15"/><circle cx="330.1" cy="600.7" r="1.15"/><circle cx="332.2" cy="565.8" r="1.15"/><circle cx="335.2" cy="594.5" r="1.15"/><circle cx="326.8" cy="576.0" r="1.15"/>
<circle cx="328.0" cy="581.5" r="1.15"/><circle cx="330.6" cy="576.5" r="1.15"/><circle cx="328.2" cy="583.3" r="1.15"/><circle cx="334.9" cy="595.0" r="1.15"/><circle cx="335.3" cy="577.6" r="1.15"/><circle cx="330.8" cy="571.6" r="1.15"/><circle cx="327.3" cy="603.5" r="1.15"/><circle cx="328.7" cy="576.6" r="1.15"/>
<circle cx="327.1" cy="601.6" r="1.15"/><circle cx="336.8" cy="591.1" r="1.15"/><circle cx="331.9" cy="575.3" r="1.15"/><circle cx="327.6" cy="589.1" r="1.15"/><circle cx="326.5" cy="598.7" r="1.15"/><circle cx="331.9" cy="599.9" r="1.15"/><circle cx="332.9" cy="601.7" r="1.15"/><circle cx="332.9" cy="595.7" r="1.15"/>
<circle cx="327.1" cy="565.0" r="1.15"/><circle cx="328.8" cy="601.4" r="1.15"/><circle cx="332.9" cy="585.9" r="1.15"/><circle cx="328.4" cy="597.1" r="1.15"/><circle cx="331.9" cy="596.7" r="1.15"/><circle cx="329.3" cy="595.9" r="1.15"/><circle cx="342.0" cy="598.5" r="1.15"/><circle cx="327.9" cy="592.4" r="1.15"/>
<circle cx="337.7" cy="599.7" r="1.15"/><circle cx="332.6" cy="596.0" r="1.15"/><circle cx="329.1" cy="585.5" r="1.15"/><circle cx="329.7" cy="603.5" r="1.15"/><circle cx="328.2" cy="596.3" r="1.15"/><circle cx="328.3" cy="587.9" r="1.15"/><circle cx="327.9" cy="597.1" r="1.15"/><circle cx="338.8" cy="600.4" r="1.15"/>
<circle cx="328.7" cy="580.5" r="1.15"/><circle cx="331.3" cy="545.2" r="1.15"/><circle cx="326.9" cy="598.1" r="1.15"/><circle cx="333.5" cy="589.0" r="1.15"/><circle cx="339.0" cy="578.3" r="1.15"/><circle cx="329.9" cy="598.2" r="1.15"/><circle cx="328.5" cy="589.0" r="1.15"/><circle cx="345.8" cy="552.3" r="1.15"/>
<circle cx="329.2" cy="579.9" r="1.15"/><circle cx="333.0" cy="588.2" r="1.15"/><circle cx="329.2" cy="589.6" r="1.15"/><circle cx="351.6" cy="601.2" r="1.15"/><circle cx="327.2" cy="597.5" r="1.15"/><circle cx="326.9" cy="601.9" r="1.15"/><circle cx="331.8" cy="585.6" r="1.15"/><circle cx="335.6" cy="586.2" r="1.15"/>
<circle cx="327.1" cy="553.2" r="1.15"/><circle cx="342.3" cy="593.2" r="1.15"/><circle cx="330.6" cy="563.8" r="1.15"/><circle cx="328.4" cy="594.6" r="1.15"/><circle cx="331.0" cy="585.7" r="1.15"/><circle cx="328.3" cy="583.5" r="1.15"/><circle cx="329.3" cy="603.7" r="1.15"/><circle cx="329.7" cy="593.1" r="1.15"/>
<circle cx="336.9" cy="602.9" r="1.15"/><circle cx="327.3" cy="555.5" r="1.15"/><circle cx="329.3" cy="591.3" r="1.15"/><circle cx="344.6" cy="600.1" r="1.15"/><circle cx="335.8" cy="586.0" r="1.15"/><circle cx="327.3" cy="601.4" r="1.15"/><circle cx="328.4" cy="557.3" r="1.15"/><circle cx="336.7" cy="603.8" r="1.15"/>
<circle cx="328.6" cy="595.1" r="1.15"/><circle cx="338.4" cy="563.7" r="1.15"/><circle cx="330.2" cy="571.8" r="1.15"/><circle cx="328.4" cy="585.7" r="1.15"/><circle cx="328.9" cy="596.6" r="1.15"/><circle cx="328.8" cy="596.6" r="1.15"/><circle cx="326.7" cy="584.9" r="1.15"/><circle cx="330.8" cy="597.3" r="1.15"/>
<circle cx="327.0" cy="598.0" r="1.15"/><circle cx="330.0" cy="600.8" r="1.15"/><circle cx="330.1" cy="604.3" r="1.15"/><circle cx="345.0" cy="604.3" r="1.15"/><circle cx="344.2" cy="598.1" r="1.15"/><circle cx="328.9" cy="599.5" r="1.15"/><circle cx="331.3" cy="599.2" r="1.15"/><circle cx="330.4" cy="601.9" r="1.15"/>
<circle cx="328.0" cy="600.1" r="1.15"/><circle cx="329.4" cy="577.1" r="1.15"/><circle cx="336.2" cy="598.9" r="1.15"/><circle cx="335.8" cy="582.8" r="1.15"/><circle cx="326.7" cy="578.9" r="1.15"/><circle cx="330.8" cy="567.9" r="1.15"/><circle cx="326.5" cy="566.5" r="1.15"/><circle cx="331.2" cy="604.4" r="1.15"/>
<circle cx="329.4" cy="588.6" r="1.15"/><circle cx="340.1" cy="603.4" r="1.15"/><circle cx="329.6" cy="585.1" r="1.15"/><circle cx="329.7" cy="594.4" r="1.15"/><circle cx="333.7" cy="557.6" r="1.15"/><circle cx="332.4" cy="601.2" r="1.15"/><circle cx="328.4" cy="561.6" r="1.15"/><circle cx="340.4" cy="601.1" r="1.15"/>
<circle cx="330.6" cy="579.0" r="1.15"/><circle cx="337.8" cy="589.7" r="1.15"/><circle cx="329.0" cy="588.8" r="1.15"/><circle cx="330.1" cy="588.2" r="1.15"/><circle cx="334.7" cy="602.9" r="1.15"/><circle cx="327.4" cy="592.2" r="1.15"/><circle cx="328.7" cy="601.9" r="1.15"/><circle cx="331.3" cy="594.2" r="1.15"/>
<circle cx="331.1" cy="578.7" r="1.15"/><circle cx="331.2" cy="595.3" r="1.15"/><circle cx="328.6" cy="587.8" r="1.15"/><circle cx="328.1" cy="586.2" r="1.15"/><circle cx="328.0" cy="603.5" r="1.15"/><circle cx="329.0" cy="586.9" r="1.15"/><circle cx="331.7" cy="593.0" r="1.15"/><circle cx="339.6" cy="596.0" r="1.15"/>
<circle cx="327.8" cy="594.9" r="1.15"/><circle cx="336.7" cy="603.9" r="1.15"/><circle cx="331.0" cy="593.3" r="1.15"/><circle cx="327.3" cy="562.5" r="1.15"/><circle cx="335.4" cy="603.0" r="1.15"/><circle cx="327.8" cy="601.3" r="1.15"/><circle cx="331.6" cy="602.6" r="1.15"/><circle cx="331.2" cy="572.5" r="1.15"/>
<circle cx="332.8" cy="598.1" r="1.15"/><circle cx="333.4" cy="599.7" r="1.15"/><circle cx="333.5" cy="600.2" r="1.15"/><circle cx="326.5" cy="593.7" r="1.15"/><circle cx="328.3" cy="600.4" r="1.15"/><circle cx="330.0" cy="600.0" r="1.15"/><circle cx="328.2" cy="594.5" r="1.15"/><circle cx="327.4" cy="577.1" r="1.15"/>
<circle cx="331.6" cy="593.5" r="1.15"/><circle cx="330.6" cy="589.4" r="1.15"/><circle cx="334.6" cy="532.4" r="1.15"/><circle cx="328.9" cy="582.9" r="1.15"/><circle cx="329.7" cy="598.0" r="1.15"/><circle cx="342.2" cy="594.6" r="1.15"/><circle cx="328.8" cy="600.8" r="1.15"/><circle cx="327.0" cy="565.2" r="1.15"/>
<circle cx="326.8" cy="582.7" r="1.15"/><circle cx="337.7" cy="603.6" r="1.15"/><circle cx="326.8" cy="604.0" r="1.15"/><circle cx="348.7" cy="588.4" r="1.15"/><circle cx="334.8" cy="584.9" r="1.15"/><circle cx="327.5" cy="594.0" r="1.15"/><circle cx="330.2" cy="601.4" r="1.15"/><circle cx="329.4" cy="587.0" r="1.15"/>
<circle cx="330.9" cy="554.4" r="1.15"/><circle cx="327.2" cy="599.5" r="1.15"/><circle cx="333.1" cy="565.5" r="1.15"/><circle cx="342.9" cy="568.3" r="1.15"/><circle cx="341.4" cy="604.2" r="1.15"/><circle cx="331.3" cy="588.3" r="1.15"/><circle cx="331.6" cy="585.3" r="1.15"/><circle cx="344.0" cy="551.4" r="1.15"/>
<circle cx="343.7" cy="558.2" r="1.15"/><circle cx="332.8" cy="594.2" r="1.15"/><circle cx="334.2" cy="602.6" r="1.15"/><circle cx="335.1" cy="552.9" r="1.15"/><circle cx="329.3" cy="598.7" r="1.15"/><circle cx="326.5" cy="584.0" r="1.15"/><circle cx="331.2" cy="594.0" r="1.15"/><circle cx="332.6" cy="596.0" r="1.15"/>
<circle cx="338.1" cy="601.8" r="1.15"/><circle cx="328.0" cy="595.4" r="1.15"/><circle cx="328.6" cy="600.7" r="1.15"/><circle cx="328.1" cy="594.1" r="1.15"/><circle cx="337.9" cy="601.6" r="1.15"/><circle cx="328.4" cy="598.9" r="1.15"/><circle cx="332.6" cy="582.7" r="1.15"/><circle cx="326.9" cy="584.4" r="1.15"/>
<circle cx="327.8" cy="597.0" r="1.15"/><circle cx="328.9" cy="598.3" r="1.15"/><circle cx="352.0" cy="597.6" r="1.15"/><circle cx="335.0" cy="583.2" r="1.15"/><circle cx="335.0" cy="597.8" r="1.15"/><circle cx="331.3" cy="585.6" r="1.15"/><circle cx="335.8" cy="604.2" r="1.15"/><circle cx="329.0" cy="603.5" r="1.15"/>
<circle cx="327.3" cy="601.2" r="1.15"/><circle cx="344.2" cy="567.1" r="1.15"/><circle cx="341.1" cy="602.3" r="1.15"/><circle cx="342.4" cy="601.5" r="1.15"/><circle cx="332.6" cy="574.6" r="1.15"/><circle cx="342.8" cy="596.0" r="1.15"/><circle cx="327.1" cy="600.0" r="1.15"/><circle cx="326.8" cy="601.6" r="1.15"/>
<circle cx="326.7" cy="599.3" r="1.15"/><circle cx="327.1" cy="594.0" r="1.15"/><circle cx="331.0" cy="584.4" r="1.15"/><circle cx="342.6" cy="603.3" r="1.15"/><circle cx="326.8" cy="599.3" r="1.15"/><circle cx="340.6" cy="594.7" r="1.15"/><circle cx="328.6" cy="592.7" r="1.15"/><circle cx="335.1" cy="554.4" r="1.15"/>
<circle cx="331.5" cy="578.4" r="1.15"/><circle cx="327.6" cy="564.3" r="1.15"/><circle cx="326.5" cy="584.4" r="1.15"/><circle cx="326.7" cy="602.0" r="1.15"/><circle cx="333.7" cy="598.0" r="1.15"/><circle cx="335.2" cy="594.8" r="1.15"/><circle cx="329.8" cy="595.0" r="1.15"/><circle cx="326.6" cy="600.2" r="1.15"/>
<circle cx="328.9" cy="595.5" r="1.15"/><circle cx="328.5" cy="598.3" r="1.15"/><circle cx="331.2" cy="596.9" r="1.15"/><circle cx="329.8" cy="598.8" r="1.15"/><circle cx="327.9" cy="566.2" r="1.15"/><circle cx="338.2" cy="602.0" r="1.15"/><circle cx="349.3" cy="599.7" r="1.15"/><circle cx="333.5" cy="600.7" r="1.15"/>
<circle cx="327.3" cy="563.4" r="1.15"/><circle cx="327.0" cy="588.3" r="1.15"/><circle cx="330.9" cy="594.9" r="1.15"/><circle cx="330.4" cy="586.5" r="1.15"/><circle cx="328.1" cy="592.6" r="1.15"/><circle cx="329.8" cy="603.1" r="1.15"/><circle cx="330.0" cy="590.2" r="1.15"/><circle cx="328.2" cy="562.4" r="1.15"/>
<circle cx="327.9" cy="579.9" r="1.15"/><circle cx="328.0" cy="572.0" r="1.15"/><circle cx="329.5" cy="593.2" r="1.15"/><circle cx="330.1" cy="595.3" r="1.15"/><circle cx="336.5" cy="594.7" r="1.15"/><circle cx="327.6" cy="601.1" r="1.15"/><circle cx="335.3" cy="550.9" r="1.15"/><circle cx="332.8" cy="582.2" r="1.15"/>
<circle cx="335.5" cy="581.9" r="1.15"/><circle cx="335.7" cy="599.4" r="1.15"/><circle cx="340.3" cy="604.1" r="1.15"/><circle cx="328.7" cy="582.6" r="1.15"/><circle cx="339.7" cy="566.9" r="1.15"/><circle cx="337.7" cy="599.3" r="1.15"/><circle cx="332.9" cy="584.7" r="1.15"/><circle cx="331.8" cy="602.6" r="1.15"/>
<circle cx="326.7" cy="576.3" r="1.15"/><circle cx="334.9" cy="575.7" r="1.15"/><circle cx="342.2" cy="590.3" r="1.15"/><circle cx="329.1" cy="599.9" r="1.15"/><circle cx="335.1" cy="600.8" r="1.15"/><circle cx="334.6" cy="587.9" r="1.15"/><circle cx="328.5" cy="600.0" r="1.15"/><circle cx="332.1" cy="588.3" r="1.15"/>
<circle cx="328.6" cy="568.0" r="1.15"/><circle cx="328.3" cy="562.2" r="1.15"/><circle cx="344.5" cy="583.7" r="1.15"/><circle cx="328.2" cy="594.1" r="1.15"/><circle cx="326.6" cy="576.8" r="1.15"/><circle cx="329.9" cy="585.4" r="1.15"/><circle cx="327.6" cy="592.3" r="1.15"/><circle cx="328.6" cy="593.0" r="1.15"/>
<circle cx="330.5" cy="563.0" r="1.15"/><circle cx="329.3" cy="597.2" r="1.15"/><circle cx="329.9" cy="560.0" r="1.15"/><circle cx="329.5" cy="588.3" r="1.15"/><circle cx="330.9" cy="590.2" r="1.15"/><circle cx="339.2" cy="600.4" r="1.15"/><circle cx="359.0" cy="594.0" r="1.15"/><circle cx="334.4" cy="603.6" r="1.15"/>
<circle cx="330.8" cy="600.0" r="1.15"/><circle cx="333.5" cy="599.1" r="1.15"/><circle cx="332.1" cy="587.4" r="1.15"/><circle cx="329.5" cy="602.9" r="1.15"/><circle cx="343.4" cy="602.5" r="1.15"/><circle cx="328.1" cy="587.9" r="1.15"/><circle cx="327.2" cy="596.7" r="1.15"/><circle cx="333.9" cy="597.3" r="1.15"/>
<circle cx="332.7" cy="572.1" r="1.15"/><circle cx="327.2" cy="603.7" r="1.15"/><circle cx="326.5" cy="603.4" r="1.15"/><circle cx="329.9" cy="602.9" r="1.15"/><circle cx="336.9" cy="595.2" r="1.15"/><circle cx="328.5" cy="595.0" r="1.15"/><circle cx="327.8" cy="576.5" r="1.15"/><circle cx="329.3" cy="597.4" r="1.15"/>
<circle cx="328.0" cy="582.6" r="1.15"/><circle cx="329.7" cy="598.1" r="1.15"/><circle cx="329.7" cy="599.2" r="1.15"/><circle cx="329.3" cy="599.4" r="1.15"/><circle cx="329.7" cy="595.5" r="1.15"/><circle cx="329.7" cy="597.9" r="1.15"/><circle cx="347.0" cy="583.0" r="1.15"/><circle cx="332.5" cy="585.6" r="1.15"/>
<circle cx="333.5" cy="562.8" r="1.15"/><circle cx="332.5" cy="596.5" r="1.15"/><circle cx="327.8" cy="584.0" r="1.15"/><circle cx="347.9" cy="598.6" r="1.15"/><circle cx="326.5" cy="596.9" r="1.15"/><circle cx="328.1" cy="591.2" r="1.15"/><circle cx="339.8" cy="603.6" r="1.15"/><circle cx="335.9" cy="579.2" r="1.15"/>
<circle cx="331.3" cy="587.1" r="1.15"/><circle cx="334.0" cy="592.4" r="1.15"/><circle cx="333.1" cy="593.0" r="1.15"/><circle cx="350.3" cy="602.4" r="1.15"/><circle cx="328.6" cy="586.4" r="1.15"/><circle cx="328.2" cy="592.8" r="1.15"/><circle cx="330.2" cy="601.9" r="1.15"/><circle cx="338.7" cy="589.3" r="1.15"/>
<circle cx="335.4" cy="596.9" r="1.15"/><circle cx="331.5" cy="595.9" r="1.15"/><circle cx="352.4" cy="592.7" r="1.15"/><circle cx="328.8" cy="595.1" r="1.15"/><circle cx="332.9" cy="588.1" r="1.15"/><circle cx="329.0" cy="600.0" r="1.15"/><circle cx="330.6" cy="604.1" r="1.15"/><circle cx="332.3" cy="602.2" r="1.15"/>
<circle cx="337.7" cy="566.7" r="1.15"/><circle cx="327.5" cy="563.2" r="1.15"/><circle cx="333.8" cy="600.2" r="1.15"/><circle cx="332.9" cy="604.0" r="1.15"/><circle cx="337.2" cy="601.1" r="1.15"/><circle cx="333.0" cy="598.7" r="1.15"/><circle cx="327.8" cy="595.5" r="1.15"/><circle cx="329.6" cy="581.2" r="1.15"/>
<circle cx="331.6" cy="544.0" r="1.15"/><circle cx="327.8" cy="591.0" r="1.15"/><circle cx="344.7" cy="598.6" r="1.15"/><circle cx="329.5" cy="580.0" r="1.15"/><circle cx="332.6" cy="601.8" r="1.15"/><circle cx="333.1" cy="601.1" r="1.15"/><circle cx="337.7" cy="600.9" r="1.15"/><circle cx="327.8" cy="573.4" r="1.15"/>
<circle cx="326.8" cy="578.8" r="1.15"/><circle cx="331.2" cy="593.1" r="1.15"/><circle cx="349.4" cy="591.7" r="1.15"/><circle cx="326.8" cy="573.3" r="1.15"/><circle cx="327.5" cy="600.0" r="1.15"/><circle cx="332.9" cy="599.0" r="1.15"/><circle cx="328.3" cy="593.0" r="1.15"/><circle cx="328.9" cy="600.5" r="1.15"/>
<circle cx="328.1" cy="604.2" r="1.15"/><circle cx="331.3" cy="555.6" r="1.15"/><circle cx="329.9" cy="594.5" r="1.15"/><circle cx="338.4" cy="584.9" r="1.15"/><circle cx="332.3" cy="588.0" r="1.15"/><circle cx="329.3" cy="597.6" r="1.15"/><circle cx="329.9" cy="594.0" r="1.15"/><circle cx="334.9" cy="573.4" r="1.15"/>
<circle cx="326.5" cy="562.9" r="1.15"/><circle cx="331.7" cy="599.8" r="1.15"/><circle cx="337.6" cy="579.3" r="1.15"/><circle cx="332.9" cy="585.4" r="1.15"/><circle cx="329.2" cy="593.2" r="1.15"/><circle cx="352.5" cy="569.8" r="1.15"/><circle cx="326.8" cy="600.5" r="1.15"/><circle cx="330.7" cy="594.4" r="1.15"/>
<circle cx="337.3" cy="594.3" r="1.15"/><circle cx="326.8" cy="600.3" r="1.15"/><circle cx="329.1" cy="582.9" r="1.15"/><circle cx="341.8" cy="596.5" r="1.15"/><circle cx="331.3" cy="592.3" r="1.15"/><circle cx="329.8" cy="572.3" r="1.15"/><circle cx="327.7" cy="596.2" r="1.15"/><circle cx="328.7" cy="592.4" r="1.15"/>
<circle cx="326.5" cy="601.0" r="1.15"/><circle cx="327.7" cy="603.4" r="1.15"/><circle cx="328.6" cy="560.4" r="1.15"/><circle cx="327.0" cy="590.3" r="1.15"/><circle cx="335.7" cy="586.5" r="1.15"/><circle cx="326.7" cy="604.0" r="1.15"/><circle cx="327.2" cy="599.8" r="1.15"/><circle cx="329.9" cy="560.3" r="1.15"/>
<circle cx="328.1" cy="579.9" r="1.15"/><circle cx="331.9" cy="591.1" r="1.15"/><circle cx="326.6" cy="592.9" r="1.15"/><circle cx="335.9" cy="600.4" r="1.15"/><circle cx="327.5" cy="594.9" r="1.15"/><circle cx="327.9" cy="599.9" r="1.15"/><circle cx="332.6" cy="603.5" r="1.15"/><circle cx="327.9" cy="599.7" r="1.15"/>
<circle cx="333.0" cy="550.2" r="1.15"/><circle cx="331.8" cy="597.7" r="1.15"/><circle cx="330.1" cy="603.6" r="1.15"/><circle cx="329.1" cy="603.7" r="1.15"/><circle cx="348.8" cy="598.0" r="1.15"/><circle cx="327.3" cy="591.9" r="1.15"/><circle cx="327.5" cy="594.8" r="1.15"/><circle cx="334.4" cy="592.9" r="1.15"/>
<circle cx="327.6" cy="552.2" r="1.15"/><circle cx="326.6" cy="601.5" r="1.15"/><circle cx="336.6" cy="591.0" r="1.15"/><circle cx="334.3" cy="558.9" r="1.15"/><circle cx="327.3" cy="603.7" r="1.15"/><circle cx="337.9" cy="603.2" r="1.15"/><circle cx="336.7" cy="591.6" r="1.15"/><circle cx="326.6" cy="602.8" r="1.15"/>
<circle cx="327.6" cy="602.8" r="1.15"/><circle cx="332.0" cy="601.9" r="1.15"/><circle cx="330.6" cy="597.9" r="1.15"/><circle cx="331.0" cy="594.6" r="1.15"/><circle cx="329.9" cy="603.9" r="1.15"/><circle cx="331.3" cy="597.5" r="1.15"/><circle cx="341.9" cy="602.5" r="1.15"/><circle cx="333.2" cy="598.0" r="1.15"/>
<circle cx="339.5" cy="603.9" r="1.15"/><circle cx="328.3" cy="585.1" r="1.15"/><circle cx="333.0" cy="568.4" r="1.15"/><circle cx="329.1" cy="577.8" r="1.15"/><circle cx="337.5" cy="598.2" r="1.15"/><circle cx="343.9" cy="572.7" r="1.15"/><circle cx="332.3" cy="559.5" r="1.15"/><circle cx="329.2" cy="592.9" r="1.15"/>
<circle cx="334.7" cy="603.5" r="1.15"/><circle cx="328.2" cy="599.0" r="1.15"/><circle cx="327.6" cy="596.2" r="1.15"/><circle cx="350.2" cy="600.2" r="1.15"/><circle cx="332.9" cy="601.5" r="1.15"/><circle cx="327.6" cy="593.1" r="1.15"/><circle cx="326.4" cy="594.1" r="1.15"/><circle cx="326.8" cy="586.9" r="1.15"/>
<circle cx="330.0" cy="586.6" r="1.15"/><circle cx="341.5" cy="596.8" r="1.15"/><circle cx="329.2" cy="599.2" r="1.15"/><circle cx="329.8" cy="588.3" r="1.15"/><circle cx="334.8" cy="557.1" r="1.15"/><circle cx="331.7" cy="590.5" r="1.15"/><circle cx="327.5" cy="586.2" r="1.15"/><circle cx="332.6" cy="601.7" r="1.15"/>
<circle cx="326.6" cy="595.9" r="1.15"/><circle cx="332.7" cy="593.4" r="1.15"/><circle cx="329.0" cy="602.8" r="1.15"/><circle cx="326.5" cy="599.8" r="1.15"/><circle cx="326.8" cy="593.9" r="1.15"/><circle cx="331.5" cy="580.2" r="1.15"/><circle cx="327.1" cy="589.0" r="1.15"/><circle cx="338.2" cy="593.2" r="1.15"/>
<circle cx="337.3" cy="588.7" r="1.15"/><circle cx="328.3" cy="583.7" r="1.15"/><circle cx="329.9" cy="604.3" r="1.15"/><circle cx="328.1" cy="591.6" r="1.15"/><circle cx="330.3" cy="603.6" r="1.15"/><circle cx="331.5" cy="588.5" r="1.15"/><circle cx="335.1" cy="599.7" r="1.15"/><circle cx="330.3" cy="581.8" r="1.15"/>
<circle cx="340.3" cy="595.2" r="1.15"/><circle cx="330.0" cy="598.3" r="1.15"/><circle cx="326.7" cy="574.9" r="1.15"/><circle cx="327.3" cy="602.2" r="1.15"/><circle cx="331.5" cy="584.4" r="1.15"/><circle cx="328.3" cy="598.1" r="1.15"/><circle cx="327.7" cy="604.3" r="1.15"/><circle cx="330.0" cy="602.5" r="1.15"/>
<circle cx="338.6" cy="575.1" r="1.15"/><circle cx="327.7" cy="596.2" r="1.15"/><circle cx="326.7" cy="566.3" r="1.15"/><circle cx="327.3" cy="603.5" r="1.15"/><circle cx="332.2" cy="595.6" r="1.15"/><circle cx="335.0" cy="580.3" r="1.15"/><circle cx="329.9" cy="599.5" r="1.15"/><circle cx="342.7" cy="591.0" r="1.15"/>
<circle cx="333.5" cy="571.9" r="1.15"/><circle cx="326.6" cy="594.7" r="1.15"/><circle cx="330.7" cy="562.7" r="1.15"/><circle cx="328.0" cy="593.3" r="1.15"/><circle cx="327.4" cy="585.5" r="1.15"/><circle cx="328.7" cy="596.9" r="1.15"/><circle cx="333.6" cy="601.8" r="1.15"/><circle cx="327.4" cy="580.1" r="1.15"/>
<circle cx="332.1" cy="598.1" r="1.15"/><circle cx="327.5" cy="553.3" r="1.15"/><circle cx="327.2" cy="587.6" r="1.15"/><circle cx="331.6" cy="584.0" r="1.15"/><circle cx="337.9" cy="555.8" r="1.15"/><circle cx="332.1" cy="597.9" r="1.15"/><circle cx="328.9" cy="589.9" r="1.15"/><circle cx="328.8" cy="578.3" r="1.15"/>
<circle cx="332.6" cy="578.6" r="1.15"/><circle cx="332.1" cy="600.4" r="1.15"/><circle cx="327.0" cy="582.1" r="1.15"/><circle cx="328.4" cy="600.4" r="1.15"/><circle cx="332.0" cy="596.8" r="1.15"/><circle cx="334.2" cy="600.9" r="1.15"/><circle cx="328.8" cy="595.5" r="1.15"/><circle cx="328.3" cy="596.7" r="1.15"/>
<circle cx="333.6" cy="604.0" r="1.15"/><circle cx="335.3" cy="598.9" r="1.15"/><circle cx="327.1" cy="603.3" r="1.15"/><circle cx="331.5" cy="604.2" r="1.15"/><circle cx="331.4" cy="590.2" r="1.15"/><circle cx="328.8" cy="554.5" r="1.15"/><circle cx="340.5" cy="576.2" r="1.15"/><circle cx="327.1" cy="583.2" r="1.15"/>
<circle cx="327.0" cy="603.1" r="1.15"/><circle cx="338.9" cy="560.8" r="1.15"/><circle cx="332.1" cy="595.5" r="1.15"/><circle cx="332.5" cy="602.0" r="1.15"/><circle cx="329.3" cy="594.4" r="1.15"/><circle cx="332.8" cy="592.7" r="1.15"/><circle cx="336.0" cy="603.1" r="1.15"/><circle cx="326.7" cy="602.0" r="1.15"/>
<circle cx="328.4" cy="596.4" r="1.15"/><circle cx="331.0" cy="599.9" r="1.15"/><circle cx="328.6" cy="578.4" r="1.15"/><circle cx="326.8" cy="600.1" r="1.15"/><circle cx="331.3" cy="589.1" r="1.15"/><circle cx="330.4" cy="601.3" r="1.15"/><circle cx="328.0" cy="600.6" r="1.15"/><circle cx="327.6" cy="593.8" r="1.15"/>
<circle cx="329.0" cy="602.0" r="1.15"/><circle cx="347.1" cy="601.7" r="1.15"/><circle cx="335.8" cy="565.9" r="1.15"/><circle cx="327.1" cy="601.9" r="1.15"/><circle cx="339.1" cy="570.9" r="1.15"/><circle cx="327.2" cy="598.4" r="1.15"/><circle cx="332.1" cy="586.7" r="1.15"/><circle cx="329.6" cy="595.9" r="1.15"/>
<circle cx="328.9" cy="596.0" r="1.15"/><circle cx="333.2" cy="598.9" r="1.15"/><circle cx="327.3" cy="603.8" r="1.15"/><circle cx="328.8" cy="590.0" r="1.15"/><circle cx="342.1" cy="594.5" r="1.15"/><circle cx="328.9" cy="599.3" r="1.15"/><circle cx="331.3" cy="579.0" r="1.15"/><circle cx="327.5" cy="566.6" r="1.15"/>
<circle cx="327.8" cy="586.5" r="1.15"/><circle cx="326.9" cy="601.5" r="1.15"/><circle cx="334.5" cy="585.9" r="1.15"/><circle cx="329.7" cy="598.3" r="1.15"/><circle cx="335.1" cy="600.2" r="1.15"/><circle cx="340.3" cy="591.7" r="1.15"/><circle cx="341.7" cy="601.8" r="1.15"/><circle cx="327.6" cy="581.7" r="1.15"/>
<circle cx="328.4" cy="596.3" r="1.15"/><circle cx="332.7" cy="601.3" r="1.15"/><circle cx="337.4" cy="595.7" r="1.15"/><circle cx="328.3" cy="596.9" r="1.15"/><circle cx="331.4" cy="597.1" r="1.15"/><circle cx="333.6" cy="598.6" r="1.15"/><circle cx="326.8" cy="603.7" r="1.15"/><circle cx="330.7" cy="597.3" r="1.15"/>
<circle cx="328.3" cy="604.2" r="1.15"/><circle cx="328.6" cy="595.0" r="1.15"/><circle cx="328.1" cy="603.7" r="1.15"/><circle cx="328.3" cy="587.3" r="1.15"/><circle cx="326.5" cy="575.0" r="1.15"/><circle cx="329.6" cy="601.6" r="1.15"/><circle cx="334.9" cy="593.1" r="1.15"/><circle cx="328.7" cy="585.1" r="1.15"/>
<circle cx="335.0" cy="579.3" r="1.15"/><circle cx="333.5" cy="588.8" r="1.15"/><circle cx="330.6" cy="592.4" r="1.15"/><circle cx="335.8" cy="568.0" r="1.15"/><circle cx="331.7" cy="591.7" r="1.15"/><circle cx="326.7" cy="595.5" r="1.15"/><circle cx="342.7" cy="601.9" r="1.15"/><circle cx="327.3" cy="584.9" r="1.15"/>
<circle cx="333.7" cy="599.3" r="1.15"/><circle cx="326.4" cy="600.9" r="1.15"/><circle cx="338.0" cy="583.5" r="1.15"/><circle cx="326.9" cy="587.2" r="1.15"/><circle cx="326.7" cy="566.4" r="1.15"/><circle cx="326.6" cy="595.4" r="1.15"/><circle cx="327.0" cy="574.3" r="1.15"/><circle cx="327.1" cy="596.2" r="1.15"/>
<circle cx="332.5" cy="602.8" r="1.15"/><circle cx="329.3" cy="595.5" r="1.15"/><circle cx="331.4" cy="565.2" r="1.15"/><circle cx="339.5" cy="579.9" r="1.15"/><circle cx="327.9" cy="595.9" r="1.15"/><circle cx="331.5" cy="598.5" r="1.15"/><circle cx="328.5" cy="598.3" r="1.15"/><circle cx="333.6" cy="597.4" r="1.15"/>
<circle cx="327.9" cy="582.9" r="1.15"/><circle cx="328.1" cy="602.9" r="1.15"/><circle cx="346.0" cy="586.9" r="1.15"/><circle cx="334.0" cy="584.1" r="1.15"/><circle cx="328.1" cy="594.1" r="1.15"/><circle cx="328.6" cy="590.2" r="1.15"/><circle cx="345.8" cy="601.1" r="1.15"/><circle cx="344.1" cy="562.7" r="1.15"/>
<circle cx="336.5" cy="578.2" r="1.15"/><circle cx="331.0" cy="603.4" r="1.15"/><circle cx="336.3" cy="602.8" r="1.15"/><circle cx="333.6" cy="595.1" r="1.15"/><circle cx="352.1" cy="596.2" r="1.15"/><circle cx="332.4" cy="588.0" r="1.15"/><circle cx="332.0" cy="603.5" r="1.15"/><circle cx="333.5" cy="581.9" r="1.15"/>
<circle cx="327.7" cy="596.1" r="1.15"/><circle cx="330.8" cy="591.2" r="1.15"/><circle cx="327.9" cy="600.9" r="1.15"/><circle cx="329.4" cy="587.9" r="1.15"/><circle cx="332.6" cy="604.1" r="1.15"/><circle cx="331.6" cy="586.1" r="1.15"/><circle cx="328.8" cy="576.0" r="1.15"/><circle cx="326.7" cy="588.5" r="1.15"/>
<circle cx="332.5" cy="591.5" r="1.15"/><circle cx="344.1" cy="581.1" r="1.15"/><circle cx="329.8" cy="604.2" r="1.15"/><circle cx="332.0" cy="576.8" r="1.15"/><circle cx="328.9" cy="604.4" r="1.15"/><circle cx="331.8" cy="545.7" r="1.15"/><circle cx="336.9" cy="583.8" r="1.15"/><circle cx="329.8" cy="572.8" r="1.15"/>
<circle cx="326.5" cy="599.0" r="1.15"/><circle cx="353.2" cy="597.4" r="1.15"/><circle cx="332.9" cy="603.0" r="1.15"/><circle cx="329.2" cy="602.6" r="1.15"/><circle cx="329.4" cy="581.9" r="1.15"/><circle cx="347.2" cy="601.4" r="1.15"/><circle cx="327.8" cy="604.2" r="1.15"/><circle cx="338.8" cy="599.6" r="1.15"/>
<circle cx="330.5" cy="600.1" r="1.15"/><circle cx="326.8" cy="598.5" r="1.15"/><circle cx="335.7" cy="584.0" r="1.15"/><circle cx="331.4" cy="576.4" r="1.15"/><circle cx="326.7" cy="602.5" r="1.15"/><circle cx="336.5" cy="541.3" r="1.15"/><circle cx="327.3" cy="592.8" r="1.15"/><circle cx="331.5" cy="602.4" r="1.15"/>
<circle cx="330.3" cy="600.1" r="1.15"/><circle cx="329.1" cy="603.4" r="1.15"/><circle cx="328.1" cy="601.0" r="1.15"/><circle cx="331.5" cy="599.1" r="1.15"/><circle cx="339.4" cy="539.1" r="1.15"/><circle cx="340.4" cy="600.4" r="1.15"/><circle cx="326.9" cy="601.7" r="1.15"/><circle cx="342.7" cy="602.6" r="1.15"/>
<circle cx="330.5" cy="604.4" r="1.15"/><circle cx="326.7" cy="574.1" r="1.15"/><circle cx="330.2" cy="573.0" r="1.15"/><circle cx="326.6" cy="594.0" r="1.15"/><circle cx="332.6" cy="602.7" r="1.15"/><circle cx="333.1" cy="598.9" r="1.15"/><circle cx="331.2" cy="597.0" r="1.15"/><circle cx="328.2" cy="599.7" r="1.15"/>
<circle cx="328.8" cy="583.9" r="1.15"/><circle cx="327.6" cy="604.4" r="1.15"/><circle cx="334.1" cy="548.6" r="1.15"/><circle cx="326.8" cy="579.7" r="1.15"/><circle cx="331.8" cy="561.1" r="1.15"/><circle cx="327.9" cy="601.0" r="1.15"/><circle cx="326.6" cy="595.0" r="1.15"/><circle cx="328.9" cy="562.4" r="1.15"/>
<circle cx="336.1" cy="603.7" r="1.15"/><circle cx="331.6" cy="572.8" r="1.15"/><circle cx="327.9" cy="588.3" r="1.15"/><circle cx="333.5" cy="600.5" r="1.15"/><circle cx="345.2" cy="570.0" r="1.15"/><circle cx="330.7" cy="603.7" r="1.15"/><circle cx="339.6" cy="603.5" r="1.15"/><circle cx="326.6" cy="574.9" r="1.15"/>
<circle cx="326.9" cy="598.3" r="1.15"/><circle cx="329.5" cy="591.1" r="1.15"/><circle cx="327.0" cy="589.2" r="1.15"/><circle cx="335.5" cy="600.2" r="1.15"/><circle cx="327.9" cy="597.5" r="1.15"/><circle cx="326.4" cy="593.2" r="1.15"/><circle cx="333.3" cy="563.3" r="1.15"/><circle cx="327.8" cy="601.4" r="1.15"/>
<circle cx="328.2" cy="573.5" r="1.15"/><circle cx="329.4" cy="603.7" r="1.15"/><circle cx="341.4" cy="578.1" r="1.15"/><circle cx="329.1" cy="546.5" r="1.15"/><circle cx="333.5" cy="564.8" r="1.15"/><circle cx="326.4" cy="562.0" r="1.15"/><circle cx="331.5" cy="577.6" r="1.15"/><circle cx="327.2" cy="602.4" r="1.15"/>
<circle cx="332.1" cy="582.0" r="1.15"/><circle cx="327.2" cy="599.4" r="1.15"/><circle cx="330.1" cy="604.0" r="1.15"/><circle cx="332.7" cy="581.4" r="1.15"/><circle cx="339.8" cy="579.4" r="1.15"/><circle cx="335.4" cy="601.1" r="1.15"/><circle cx="326.7" cy="584.3" r="1.15"/><circle cx="350.0" cy="599.7" r="1.15"/>
<circle cx="337.5" cy="556.1" r="1.15"/><circle cx="338.2" cy="568.6" r="1.15"/><circle cx="331.7" cy="603.5" r="1.15"/><circle cx="343.2" cy="594.6" r="1.15"/><circle cx="331.0" cy="603.5" r="1.15"/><circle cx="326.9" cy="596.9" r="1.15"/><circle cx="333.8" cy="577.7" r="1.15"/><circle cx="329.6" cy="603.7" r="1.15"/>
<circle cx="331.0" cy="597.1" r="1.15"/><circle cx="329.8" cy="602.3" r="1.15"/><circle cx="329.4" cy="602.4" r="1.15"/><circle cx="331.6" cy="576.4" r="1.15"/><circle cx="327.4" cy="599.9" r="1.15"/><circle cx="331.2" cy="590.0" r="1.15"/><circle cx="326.7" cy="601.3" r="1.15"/><circle cx="336.6" cy="564.4" r="1.15"/>
<circle cx="328.1" cy="603.8" r="1.15"/><circle cx="329.3" cy="567.3" r="1.15"/><circle cx="327.7" cy="561.4" r="1.15"/><circle cx="337.7" cy="582.0" r="1.15"/><circle cx="328.0" cy="591.2" r="1.15"/><circle cx="334.0" cy="599.9" r="1.15"/><circle cx="328.3" cy="584.6" r="1.15"/><circle cx="337.6" cy="588.7" r="1.15"/>
<circle cx="328.7" cy="561.5" r="1.15"/><circle cx="328.0" cy="590.0" r="1.15"/><circle cx="327.1" cy="603.9" r="1.15"/><circle cx="327.9" cy="603.0" r="1.15"/><circle cx="327.2" cy="584.9" r="1.15"/><circle cx="328.9" cy="566.9" r="1.15"/><circle cx="336.3" cy="549.8" r="1.15"/><circle cx="341.5" cy="590.9" r="1.15"/>
<circle cx="328.6" cy="597.8" r="1.15"/><circle cx="328.0" cy="590.1" r="1.15"/><circle cx="333.4" cy="592.5" r="1.15"/><circle cx="329.5" cy="578.4" r="1.15"/><circle cx="330.4" cy="591.5" r="1.15"/><circle cx="332.6" cy="593.1" r="1.15"/><circle cx="327.9" cy="602.6" r="1.15"/><circle cx="338.4" cy="563.6" r="1.15"/>
<circle cx="331.1" cy="594.3" r="1.15"/><circle cx="327.5" cy="597.7" r="1.15"/><circle cx="328.2" cy="601.3" r="1.15"/><circle cx="326.9" cy="594.1" r="1.15"/><circle cx="332.1" cy="591.7" r="1.15"/><circle cx="330.0" cy="591.2" r="1.15"/><circle cx="329.8" cy="588.2" r="1.15"/><circle cx="333.7" cy="592.2" r="1.15"/>
<circle cx="331.7" cy="593.4" r="1.15"/><circle cx="328.3" cy="598.0" r="1.15"/><circle cx="333.7" cy="586.8" r="1.15"/><circle cx="343.3" cy="548.5" r="1.15"/><circle cx="356.1" cy="590.9" r="1.15"/><circle cx="326.9" cy="604.2" r="1.15"/><circle cx="333.4" cy="591.1" r="1.15"/><circle cx="329.6" cy="585.6" r="1.15"/>
<circle cx="331.9" cy="593.4" r="1.15"/><circle cx="330.9" cy="603.1" r="1.15"/><circle cx="333.1" cy="596.7" r="1.15"/><circle cx="330.0" cy="601.9" r="1.15"/><circle cx="328.8" cy="601.9" r="1.15"/><circle cx="327.5" cy="587.1" r="1.15"/><circle cx="330.4" cy="553.3" r="1.15"/><circle cx="329.7" cy="590.3" r="1.15"/>
<circle cx="327.4" cy="598.3" r="1.15"/><circle cx="337.6" cy="602.8" r="1.15"/><circle cx="329.9" cy="593.2" r="1.15"/><circle cx="331.4" cy="599.0" r="1.15"/><circle cx="331.4" cy="600.0" r="1.15"/><circle cx="337.5" cy="603.8" r="1.15"/><circle cx="330.1" cy="599.7" r="1.15"/><circle cx="327.9" cy="596.4" r="1.15"/>
<circle cx="331.5" cy="600.1" r="1.15"/><circle cx="329.9" cy="582.3" r="1.15"/><circle cx="327.9" cy="552.0" r="1.15"/><circle cx="328.6" cy="600.4" r="1.15"/><circle cx="329.6" cy="588.4" r="1.15"/><circle cx="337.2" cy="600.2" r="1.15"/><circle cx="329.6" cy="597.3" r="1.15"/><circle cx="330.5" cy="593.4" r="1.15"/>
<circle cx="326.5" cy="603.7" r="1.15"/><circle cx="328.2" cy="604.0" r="1.15"/><circle cx="330.2" cy="599.7" r="1.15"/><circle cx="326.5" cy="603.7" r="1.15"/><circle cx="330.1" cy="556.2" r="1.15"/><circle cx="337.0" cy="592.0" r="1.15"/><circle cx="332.6" cy="600.6" r="1.15"/><circle cx="330.0" cy="602.8" r="1.15"/>
<circle cx="330.0" cy="601.3" r="1.15"/><circle cx="335.4" cy="600.0" r="1.15"/><circle cx="326.9" cy="600.6" r="1.15"/><circle cx="330.3" cy="588.2" r="1.15"/><circle cx="332.8" cy="592.2" r="1.15"/><circle cx="356.3" cy="598.8" r="1.15"/><circle cx="329.7" cy="594.5" r="1.15"/><circle cx="326.9" cy="603.5" r="1.15"/>
<circle cx="326.9" cy="593.6" r="1.15"/><circle cx="328.1" cy="584.2" r="1.15"/><circle cx="327.3" cy="588.6" r="1.15"/><circle cx="331.8" cy="596.2" r="1.15"/><circle cx="333.1" cy="579.1" r="1.15"/><circle cx="328.0" cy="600.9" r="1.15"/><circle cx="330.3" cy="601.6" r="1.15"/><circle cx="328.2" cy="564.5" r="1.15"/>
<circle cx="335.7" cy="564.1" r="1.15"/><circle cx="334.4" cy="595.0" r="1.15"/><circle cx="327.1" cy="589.5" r="1.15"/><circle cx="332.8" cy="599.1" r="1.15"/><circle cx="328.8" cy="597.5" r="1.15"/><circle cx="326.4" cy="595.3" r="1.15"/><circle cx="327.3" cy="586.1" r="1.15"/><circle cx="329.2" cy="600.5" r="1.15"/>
<circle cx="329.5" cy="588.4" r="1.15"/><circle cx="334.8" cy="586.8" r="1.15"/><circle cx="328.0" cy="599.5" r="1.15"/><circle cx="330.0" cy="585.8" r="1.15"/><circle cx="331.9" cy="602.7" r="1.15"/><circle cx="327.1" cy="604.1" r="1.15"/><circle cx="344.8" cy="569.9" r="1.15"/><circle cx="332.4" cy="603.8" r="1.15"/>
<circle cx="326.8" cy="600.7" r="1.15"/><circle cx="334.4" cy="600.7" r="1.15"/><circle cx="335.3" cy="591.6" r="1.15"/><circle cx="327.5" cy="603.5" r="1.15"/><circle cx="330.5" cy="591.8" r="1.15"/><circle cx="332.0" cy="592.9" r="1.15"/><circle cx="329.3" cy="578.8" r="1.15"/><circle cx="338.1" cy="545.1" r="1.15"/>
<circle cx="334.5" cy="588.1" r="1.15"/><circle cx="328.0" cy="602.9" r="1.15"/><circle cx="328.0" cy="591.2" r="1.15"/><circle cx="331.5" cy="596.6" r="1.15"/><circle cx="328.4" cy="587.8" r="1.15"/><circle cx="328.5" cy="599.2" r="1.15"/><circle cx="329.5" cy="590.5" r="1.15"/><circle cx="334.4" cy="581.4" r="1.15"/>
<circle cx="346.0" cy="596.2" r="1.15"/><circle cx="332.2" cy="599.2" r="1.15"/><circle cx="329.4" cy="593.1" r="1.15"/><circle cx="328.9" cy="604.3" r="1.15"/><circle cx="330.0" cy="562.4" r="1.15"/><circle cx="339.2" cy="554.3" r="1.15"/><circle cx="328.2" cy="604.2" r="1.15"/><circle cx="326.8" cy="599.5" r="1.15"/>
<circle cx="332.6" cy="580.3" r="1.15"/><circle cx="327.5" cy="592.0" r="1.15"/><circle cx="330.2" cy="580.8" r="1.15"/><circle cx="332.4" cy="602.3" r="1.15"/><circle cx="326.7" cy="592.3" r="1.15"/><circle cx="333.3" cy="596.9" r="1.15"/><circle cx="333.5" cy="592.7" r="1.15"/><circle cx="327.5" cy="599.6" r="1.15"/>
<circle cx="331.4" cy="561.1" r="1.15"/><circle cx="326.7" cy="564.2" r="1.15"/><circle cx="327.7" cy="584.4" r="1.15"/><circle cx="337.0" cy="593.3" r="1.15"/><circle cx="329.9" cy="595.7" r="1.15"/><circle cx="331.2" cy="602.2" r="1.15"/><circle cx="327.1" cy="604.1" r="1.15"/><circle cx="333.8" cy="597.3" r="1.15"/>
<circle cx="331.6" cy="589.5" r="1.15"/><circle cx="339.0" cy="598.5" r="1.15"/><circle cx="327.9" cy="562.2" r="1.15"/><circle cx="327.5" cy="586.1" r="1.15"/><circle cx="329.1" cy="597.8" r="1.15"/><circle cx="328.9" cy="602.0" r="1.15"/><circle cx="326.9" cy="582.3" r="1.15"/><circle cx="333.2" cy="596.7" r="1.15"/>
<circle cx="338.0" cy="587.4" r="1.15"/><circle cx="339.9" cy="567.4" r="1.15"/><circle cx="331.3" cy="603.4" r="1.15"/><circle cx="328.6" cy="567.8" r="1.15"/><circle cx="326.8" cy="596.8" r="1.15"/><circle cx="336.5" cy="590.5" r="1.15"/><circle cx="332.4" cy="600.7" r="1.15"/><circle cx="329.3" cy="561.0" r="1.15"/>
<circle cx="328.1" cy="599.3" r="1.15"/><circle cx="328.8" cy="600.6" r="1.15"/><circle cx="332.5" cy="594.0" r="1.15"/><circle cx="333.5" cy="594.9" r="1.15"/><circle cx="332.6" cy="599.3" r="1.15"/><circle cx="328.4" cy="601.6" r="1.15"/><circle cx="327.1" cy="604.1" r="1.15"/><circle cx="334.2" cy="570.4" r="1.15"/>
<circle cx="326.9" cy="602.3" r="1.15"/><circle cx="328.3" cy="583.0" r="1.15"/><circle cx="330.5" cy="559.6" r="1.15"/><circle cx="329.1" cy="589.7" r="1.15"/><circle cx="333.7" cy="591.6" r="1.15"/><circle cx="327.4" cy="590.1" r="1.15"/><circle cx="332.6" cy="603.8" r="1.15"/><circle cx="327.1" cy="584.4" r="1.15"/>
<circle cx="328.3" cy="583.3" r="1.15"/><circle cx="328.3" cy="602.8" r="1.15"/><circle cx="326.6" cy="559.0" r="1.15"/><circle cx="330.7" cy="565.0" r="1.15"/><circle cx="332.7" cy="602.9" r="1.15"/><circle cx="331.6" cy="597.1" r="1.15"/><circle cx="328.7" cy="589.6" r="1.15"/><circle cx="330.1" cy="596.7" r="1.15"/>
<circle cx="326.7" cy="600.6" r="1.15"/><circle cx="327.4" cy="595.4" r="1.15"/><circle cx="331.6" cy="586.0" r="1.15"/><circle cx="345.4" cy="597.6" r="1.15"/><circle cx="334.1" cy="604.1" r="1.15"/><circle cx="328.1" cy="593.1" r="1.15"/><circle cx="337.3" cy="594.6" r="1.15"/><circle cx="326.9" cy="589.4" r="1.15"/>
<circle cx="331.7" cy="595.1" r="1.15"/><circle cx="329.3" cy="601.7" r="1.15"/><circle cx="335.1" cy="579.5" r="1.15"/><circle cx="336.2" cy="589.8" r="1.15"/><circle cx="343.1" cy="601.6" r="1.15"/><circle cx="329.8" cy="601.9" r="1.15"/><circle cx="327.5" cy="577.4" r="1.15"/><circle cx="332.4" cy="600.4" r="1.15"/>
<circle cx="329.4" cy="596.0" r="1.15"/><circle cx="332.2" cy="595.7" r="1.15"/><circle cx="333.8" cy="570.1" r="1.15"/><circle cx="334.0" cy="568.8" r="1.15"/><circle cx="327.5" cy="582.2" r="1.15"/><circle cx="332.0" cy="603.4" r="1.15"/><circle cx="333.7" cy="590.5" r="1.15"/><circle cx="336.9" cy="590.6" r="1.15"/>
<circle cx="326.9" cy="579.2" r="1.15"/><circle cx="333.0" cy="601.2" r="1.15"/><circle cx="326.5" cy="601.8" r="1.15"/><circle cx="343.7" cy="603.9" r="1.15"/><circle cx="333.7" cy="584.4" r="1.15"/><circle cx="326.8" cy="577.7" r="1.15"/><circle cx="339.6" cy="569.3" r="1.15"/><circle cx="332.2" cy="579.7" r="1.15"/>
<circle cx="330.2" cy="552.1" r="1.15"/><circle cx="329.6" cy="590.3" r="1.15"/><circle cx="331.3" cy="565.1" r="1.15"/><circle cx="338.9" cy="575.1" r="1.15"/><circle cx="326.6" cy="591.6" r="1.15"/><circle cx="344.1" cy="593.1" r="1.15"/><circle cx="334.2" cy="601.9" r="1.15"/><circle cx="329.6" cy="601.0" r="1.15"/>
<circle cx="328.9" cy="586.0" r="1.15"/><circle cx="328.5" cy="603.6" r="1.15"/><circle cx="334.1" cy="579.2" r="1.15"/><circle cx="326.8" cy="599.8" r="1.15"/><circle cx="328.3" cy="580.3" r="1.15"/><circle cx="326.5" cy="603.7" r="1.15"/><circle cx="331.5" cy="591.5" r="1.15"/><circle cx="326.8" cy="593.0" r="1.15"/>
<circle cx="328.4" cy="600.9" r="1.15"/><circle cx="330.0" cy="598.1" r="1.15"/><circle cx="332.6" cy="599.9" r="1.15"/><circle cx="328.0" cy="585.4" r="1.15"/><circle cx="331.4" cy="585.9" r="1.15"/><circle cx="330.6" cy="570.6" r="1.15"/><circle cx="335.0" cy="598.3" r="1.15"/><circle cx="331.8" cy="602.5" r="1.15"/>
<circle cx="326.9" cy="589.8" r="1.15"/><circle cx="340.4" cy="581.6" r="1.15"/><circle cx="328.7" cy="601.4" r="1.15"/><circle cx="329.0" cy="583.7" r="1.15"/><circle cx="345.4" cy="603.3" r="1.15"/><circle cx="332.1" cy="604.1" r="1.15"/><circle cx="328.7" cy="602.3" r="1.15"/><circle cx="326.9" cy="582.8" r="1.15"/>
<circle cx="340.0" cy="565.2" r="1.15"/><circle cx="330.3" cy="583.2" r="1.15"/><circle cx="331.0" cy="601.8" r="1.15"/><circle cx="326.9" cy="596.6" r="1.15"/><circle cx="343.4" cy="603.7" r="1.15"/><circle cx="327.1" cy="602.9" r="1.15"/><circle cx="327.8" cy="591.9" r="1.15"/><circle cx="329.2" cy="598.4" r="1.15"/>
<circle cx="332.9" cy="598.0" r="1.15"/><circle cx="335.8" cy="603.3" r="1.15"/><circle cx="328.8" cy="567.0" r="1.15"/><circle cx="327.6" cy="585.6" r="1.15"/><circle cx="326.8" cy="602.4" r="1.15"/><circle cx="330.6" cy="601.1" r="1.15"/><circle cx="328.5" cy="556.4" r="1.15"/><circle cx="329.7" cy="601.8" r="1.15"/>
<circle cx="331.8" cy="603.1" r="1.15"/><circle cx="327.8" cy="588.5" r="1.15"/><circle cx="344.3" cy="601.6" r="1.15"/><circle cx="330.8" cy="590.2" r="1.15"/><circle cx="327.8" cy="591.5" r="1.15"/><circle cx="326.6" cy="587.9" r="1.15"/><circle cx="335.4" cy="577.5" r="1.15"/><circle cx="328.4" cy="591.7" r="1.15"/>
<circle cx="331.8" cy="593.2" r="1.15"/><circle cx="327.9" cy="581.7" r="1.15"/><circle cx="326.9" cy="575.3" r="1.15"/><circle cx="327.3" cy="557.4" r="1.15"/><circle cx="326.4" cy="597.7" r="1.15"/><circle cx="328.4" cy="603.5" r="1.15"/><circle cx="326.5" cy="596.2" r="1.15"/><circle cx="327.8" cy="568.5" r="1.15"/>
<circle cx="330.2" cy="581.9" r="1.15"/><circle cx="334.1" cy="583.5" r="1.15"/><circle cx="333.8" cy="598.4" r="1.15"/><circle cx="329.4" cy="602.8" r="1.15"/><circle cx="328.0" cy="594.9" r="1.15"/><circle cx="331.4" cy="571.1" r="1.15"/><circle cx="332.9" cy="585.6" r="1.15"/><circle cx="340.2" cy="591.9" r="1.15"/>
<circle cx="330.8" cy="593.8" r="1.15"/><circle cx="328.4" cy="601.5" r="1.15"/><circle cx="328.5" cy="587.0" r="1.15"/><circle cx="326.4" cy="601.2" r="1.15"/><circle cx="329.2" cy="588.6" r="1.15"/><circle cx="327.0" cy="588.2" r="1.15"/><circle cx="326.9" cy="591.1" r="1.15"/><circle cx="331.6" cy="594.6" r="1.15"/>
<circle cx="351.4" cy="575.8" r="1.15"/><circle cx="335.6" cy="589.1" r="1.15"/><circle cx="360.4" cy="603.4" r="1.15"/><circle cx="327.9" cy="580.7" r="1.15"/><circle cx="327.8" cy="595.2" r="1.15"/><circle cx="333.4" cy="592.1" r="1.15"/><circle cx="340.6" cy="603.1" r="1.15"/><circle cx="328.3" cy="591.2" r="1.15"/>
<circle cx="328.3" cy="599.3" r="1.15"/><circle cx="335.0" cy="578.7" r="1.15"/><circle cx="333.8" cy="560.8" r="1.15"/><circle cx="328.2" cy="603.0" r="1.15"/><circle cx="328.0" cy="592.7" r="1.15"/><circle cx="327.3" cy="603.2" r="1.15"/><circle cx="335.7" cy="602.6" r="1.15"/><circle cx="348.0" cy="598.2" r="1.15"/>
<circle cx="335.6" cy="604.1" r="1.15"/><circle cx="334.6" cy="585.9" r="1.15"/><circle cx="330.1" cy="602.2" r="1.15"/><circle cx="332.0" cy="562.0" r="1.15"/><circle cx="327.5" cy="595.9" r="1.15"/><circle cx="331.0" cy="598.6" r="1.15"/><circle cx="331.2" cy="602.0" r="1.15"/><circle cx="328.5" cy="597.0" r="1.15"/>
<circle cx="327.4" cy="603.4" r="1.15"/><circle cx="343.3" cy="590.4" r="1.15"/><circle cx="327.1" cy="591.1" r="1.15"/><circle cx="336.7" cy="591.7" r="1.15"/><circle cx="339.9" cy="561.1" r="1.15"/><circle cx="329.6" cy="603.2" r="1.15"/><circle cx="327.8" cy="587.7" r="1.15"/><circle cx="326.4" cy="573.9" r="1.15"/>
<circle cx="328.1" cy="565.8" r="1.15"/><circle cx="333.3" cy="602.7" r="1.15"/><circle cx="327.2" cy="595.8" r="1.15"/><circle cx="329.7" cy="593.5" r="1.15"/><circle cx="340.8" cy="598.8" r="1.15"/><circle cx="327.7" cy="585.8" r="1.15"/><circle cx="327.7" cy="601.5" r="1.15"/><circle cx="336.4" cy="596.4" r="1.15"/>
<circle cx="329.9" cy="592.3" r="1.15"/><circle cx="329.3" cy="588.6" r="1.15"/><circle cx="328.0" cy="599.7" r="1.15"/><circle cx="327.6" cy="597.3" r="1.15"/><circle cx="328.1" cy="601.7" r="1.15"/><circle cx="332.8" cy="574.0" r="1.15"/><circle cx="327.5" cy="599.2" r="1.15"/><circle cx="336.3" cy="579.4" r="1.15"/>
<circle cx="326.5" cy="604.1" r="1.15"/><circle cx="329.5" cy="604.4" r="1.15"/><circle cx="327.2" cy="575.6" r="1.15"/><circle cx="328.5" cy="601.8" r="1.15"/><circle cx="327.1" cy="596.4" r="1.15"/><circle cx="333.7" cy="598.3" r="1.15"/><circle cx="344.9" cy="590.4" r="1.15"/><circle cx="326.7" cy="593.5" r="1.15"/>
<circle cx="337.3" cy="515.2" r="1.15"/><circle cx="326.6" cy="601.2" r="1.15"/><circle cx="335.1" cy="585.7" r="1.15"/><circle cx="326.5" cy="566.0" r="1.15"/><circle cx="334.5" cy="593.6" r="1.15"/><circle cx="330.5" cy="569.5" r="1.15"/><circle cx="329.2" cy="577.8" r="1.15"/><circle cx="328.8" cy="591.1" r="1.15"/>
<circle cx="326.4" cy="556.2" r="1.15"/><circle cx="330.0" cy="603.6" r="1.15"/><circle cx="334.5" cy="589.9" r="1.15"/><circle cx="331.1" cy="602.6" r="1.15"/><circle cx="330.9" cy="585.4" r="1.15"/><circle cx="352.5" cy="600.3" r="1.15"/><circle cx="326.9" cy="570.1" r="1.15"/><circle cx="327.4" cy="581.0" r="1.15"/>
<circle cx="327.2" cy="574.6" r="1.15"/><circle cx="328.8" cy="582.7" r="1.15"/><circle cx="331.0" cy="597.6" r="1.15"/><circle cx="335.7" cy="583.2" r="1.15"/><circle cx="326.8" cy="592.7" r="1.15"/><circle cx="327.7" cy="604.1" r="1.15"/><circle cx="334.7" cy="587.1" r="1.15"/><circle cx="329.6" cy="571.0" r="1.15"/>
<circle cx="333.2" cy="595.8" r="1.15"/><circle cx="331.9" cy="574.5" r="1.15"/><circle cx="329.3" cy="599.6" r="1.15"/><circle cx="334.1" cy="538.2" r="1.15"/><circle cx="336.9" cy="552.8" r="1.15"/><circle cx="333.7" cy="603.1" r="1.15"/><circle cx="330.1" cy="602.9" r="1.15"/><circle cx="329.0" cy="584.3" r="1.15"/>
<circle cx="328.7" cy="563.2" r="1.15"/><circle cx="329.5" cy="574.0" r="1.15"/><circle cx="331.6" cy="594.9" r="1.15"/><circle cx="329.3" cy="597.6" r="1.15"/><circle cx="335.1" cy="599.2" r="1.15"/><circle cx="329.5" cy="599.6" r="1.15"/><circle cx="327.0" cy="593.2" r="1.15"/><circle cx="328.7" cy="586.2" r="1.15"/>
<circle cx="331.8" cy="602.9" r="1.15"/><circle cx="330.9" cy="591.3" r="1.15"/><circle cx="326.6" cy="593.7" r="1.15"/><circle cx="328.1" cy="601.2" r="1.15"/><circle cx="327.9" cy="578.8" r="1.15"/><circle cx="338.1" cy="583.9" r="1.15"/><circle cx="337.8" cy="578.2" r="1.15"/><circle cx="329.0" cy="553.7" r="1.15"/>
<circle cx="332.0" cy="590.6" r="1.15"/><circle cx="326.9" cy="598.9" r="1.15"/><circle cx="331.9" cy="589.6" r="1.15"/><circle cx="339.7" cy="604.4" r="1.15"/><circle cx="327.0" cy="598.0" r="1.15"/><circle cx="329.9" cy="582.1" r="1.15"/><circle cx="328.8" cy="582.1" r="1.15"/><circle cx="333.6" cy="591.7" r="1.15"/>
<circle cx="326.6" cy="598.2" r="1.15"/><circle cx="329.0" cy="599.9" r="1.15"/><circle cx="331.3" cy="587.9" r="1.15"/><circle cx="331.8" cy="597.6" r="1.15"/><circle cx="328.3" cy="600.9" r="1.15"/><circle cx="326.9" cy="602.7" r="1.15"/><circle cx="351.7" cy="583.3" r="1.15"/><circle cx="333.8" cy="601.2" r="1.15"/>
<circle cx="326.5" cy="601.2" r="1.15"/><circle cx="327.1" cy="598.5" r="1.15"/><circle cx="327.8" cy="603.3" r="1.15"/><circle cx="342.9" cy="546.1" r="1.15"/><circle cx="327.2" cy="601.3" r="1.15"/><circle cx="326.5" cy="602.2" r="1.15"/><circle cx="344.7" cy="568.3" r="1.15"/><circle cx="328.5" cy="586.0" r="1.15"/>
<circle cx="339.0" cy="555.3" r="1.15"/><circle cx="334.9" cy="587.6" r="1.15"/><circle cx="331.1" cy="567.5" r="1.15"/><circle cx="326.5" cy="596.2" r="1.15"/><circle cx="333.2" cy="595.3" r="1.15"/><circle cx="334.2" cy="600.9" r="1.15"/><circle cx="337.6" cy="604.3" r="1.15"/><circle cx="329.5" cy="594.4" r="1.15"/>
<circle cx="328.4" cy="601.0" r="1.15"/><circle cx="335.1" cy="589.8" r="1.15"/><circle cx="327.1" cy="599.7" r="1.15"/><circle cx="335.1" cy="585.8" r="1.15"/><circle cx="337.7" cy="593.9" r="1.15"/><circle cx="335.8" cy="594.2" r="1.15"/><circle cx="337.0" cy="579.6" r="1.15"/><circle cx="326.6" cy="587.3" r="1.15"/>
<circle cx="327.6" cy="578.0" r="1.15"/><circle cx="327.4" cy="602.1" r="1.15"/><circle cx="331.8" cy="602.0" r="1.15"/><circle cx="327.7" cy="579.5" r="1.15"/><circle cx="327.1" cy="587.6" r="1.15"/><circle cx="340.0" cy="596.3" r="1.15"/><circle cx="327.9" cy="578.3" r="1.15"/><circle cx="339.7" cy="604.0" r="1.15"/>
<circle cx="326.5" cy="586.5" r="1.15"/><circle cx="328.5" cy="592.0" r="1.15"/><circle cx="326.8" cy="579.0" r="1.15"/><circle cx="335.3" cy="603.9" r="1.15"/><circle cx="327.8" cy="603.8" r="1.15"/><circle cx="329.0" cy="597.6" r="1.15"/><circle cx="337.2" cy="600.6" r="1.15"/><circle cx="328.8" cy="584.2" r="1.15"/>
<circle cx="326.8" cy="595.6" r="1.15"/><circle cx="329.8" cy="593.2" r="1.15"/><circle cx="329.2" cy="594.2" r="1.15"/><circle cx="332.7" cy="601.5" r="1.15"/><circle cx="328.1" cy="562.4" r="1.15"/><circle cx="338.0" cy="557.9" r="1.15"/><circle cx="328.9" cy="585.4" r="1.15"/><circle cx="343.2" cy="594.8" r="1.15"/>
<circle cx="332.7" cy="590.6" r="1.15"/><circle cx="331.0" cy="596.7" r="1.15"/><circle cx="334.6" cy="601.2" r="1.15"/><circle cx="328.0" cy="559.1" r="1.15"/><circle cx="329.7" cy="557.9" r="1.15"/><circle cx="337.2" cy="594.7" r="1.15"/><circle cx="329.0" cy="603.2" r="1.15"/><circle cx="329.7" cy="595.3" r="1.15"/>
<circle cx="330.6" cy="601.9" r="1.15"/><circle cx="332.7" cy="594.3" r="1.15"/><circle cx="330.1" cy="597.1" r="1.15"/><circle cx="331.3" cy="603.7" r="1.15"/><circle cx="328.0" cy="592.3" r="1.15"/><circle cx="334.3" cy="558.0" r="1.15"/><circle cx="331.7" cy="570.2" r="1.15"/><circle cx="327.6" cy="597.8" r="1.15"/>
<circle cx="328.1" cy="576.7" r="1.15"/><circle cx="346.2" cy="604.1" r="1.15"/><circle cx="328.5" cy="592.5" r="1.15"/><circle cx="331.3" cy="565.3" r="1.15"/><circle cx="328.9" cy="585.2" r="1.15"/><circle cx="328.1" cy="569.0" r="1.15"/><circle cx="326.8" cy="593.7" r="1.15"/><circle cx="337.0" cy="580.9" r="1.15"/>
<circle cx="330.3" cy="599.7" r="1.15"/><circle cx="329.6" cy="579.5" r="1.15"/><circle cx="348.3" cy="582.0" r="1.15"/><circle cx="331.3" cy="596.9" r="1.15"/><circle cx="336.2" cy="601.7" r="1.15"/><circle cx="332.6" cy="598.2" r="1.15"/><circle cx="329.4" cy="588.0" r="1.15"/><circle cx="331.9" cy="569.1" r="1.15"/>
<circle cx="330.0" cy="597.6" r="1.15"/><circle cx="332.5" cy="603.0" r="1.15"/><circle cx="328.2" cy="589.9" r="1.15"/><circle cx="328.3" cy="600.4" r="1.15"/><circle cx="331.0" cy="576.7" r="1.15"/><circle cx="332.1" cy="584.5" r="1.15"/><circle cx="329.5" cy="589.8" r="1.15"/><circle cx="334.1" cy="569.1" r="1.15"/>
<circle cx="326.8" cy="570.0" r="1.15"/><circle cx="327.2" cy="591.1" r="1.15"/><circle cx="327.5" cy="591.4" r="1.15"/><circle cx="330.6" cy="594.5" r="1.15"/><circle cx="334.7" cy="586.7" r="1.15"/><circle cx="336.1" cy="595.6" r="1.15"/><circle cx="327.1" cy="603.3" r="1.15"/><circle cx="332.7" cy="600.7" r="1.15"/>
<circle cx="328.3" cy="595.0" r="1.15"/><circle cx="345.8" cy="602.1" r="1.15"/><circle cx="331.9" cy="598.2" r="1.15"/><circle cx="327.2" cy="569.8" r="1.15"/><circle cx="331.2" cy="600.5" r="1.15"/><circle cx="327.0" cy="584.7" r="1.15"/><circle cx="328.6" cy="562.5" r="1.15"/><circle cx="336.4" cy="604.0" r="1.15"/>
<circle cx="350.1" cy="596.6" r="1.15"/><circle cx="328.9" cy="594.0" r="1.15"/><circle cx="328.4" cy="595.5" r="1.15"/><circle cx="327.5" cy="594.3" r="1.15"/><circle cx="331.1" cy="585.7" r="1.15"/><circle cx="327.7" cy="595.0" r="1.15"/><circle cx="329.4" cy="597.0" r="1.15"/><circle cx="337.2" cy="599.4" r="1.15"/>
<circle cx="331.6" cy="602.5" r="1.15"/><circle cx="327.2" cy="593.6" r="1.15"/><circle cx="337.0" cy="588.4" r="1.15"/><circle cx="332.4" cy="597.9" r="1.15"/><circle cx="330.2" cy="591.6" r="1.15"/><circle cx="333.0" cy="579.1" r="1.15"/><circle cx="337.2" cy="584.6" r="1.15"/><circle cx="333.2" cy="544.5" r="1.15"/>
<circle cx="336.6" cy="573.4" r="1.15"/><circle cx="334.7" cy="603.9" r="1.15"/><circle cx="328.4" cy="594.6" r="1.15"/><circle cx="330.8" cy="596.5" r="1.15"/><circle cx="332.3" cy="599.9" r="1.15"/><circle cx="327.9" cy="598.9" r="1.15"/><circle cx="330.3" cy="584.3" r="1.15"/><circle cx="328.1" cy="599.6" r="1.15"/>
<circle cx="326.4" cy="580.9" r="1.15"/><circle cx="331.3" cy="597.7" r="1.15"/><circle cx="328.5" cy="597.3" r="1.15"/><circle cx="333.8" cy="585.7" r="1.15"/><circle cx="338.2" cy="602.0" r="1.15"/><circle cx="331.1" cy="593.8" r="1.15"/><circle cx="328.4" cy="572.1" r="1.15"/><circle cx="332.8" cy="592.6" r="1.15"/>
<circle cx="331.0" cy="594.0" r="1.15"/><circle cx="328.4" cy="600.3" r="1.15"/><circle cx="332.1" cy="602.4" r="1.15"/><circle cx="338.0" cy="580.4" r="1.15"/><circle cx="338.1" cy="593.3" r="1.15"/><circle cx="329.3" cy="592.8" r="1.15"/><circle cx="331.4" cy="585.4" r="1.15"/><circle cx="338.2" cy="584.0" r="1.15"/>
<circle cx="328.4" cy="599.5" r="1.15"/><circle cx="332.0" cy="603.4" r="1.15"/><circle cx="329.5" cy="591.7" r="1.15"/><circle cx="339.3" cy="595.3" r="1.15"/><circle cx="328.1" cy="574.0" r="1.15"/><circle cx="330.7" cy="596.5" r="1.15"/><circle cx="330.9" cy="593.8" r="1.15"/><circle cx="329.8" cy="600.1" r="1.15"/>
<circle cx="328.1" cy="603.3" r="1.15"/><circle cx="328.5" cy="600.0" r="1.15"/><circle cx="328.3" cy="586.5" r="1.15"/><circle cx="340.4" cy="548.6" r="1.15"/><circle cx="332.8" cy="600.2" r="1.15"/><circle cx="328.9" cy="594.6" r="1.15"/><circle cx="330.7" cy="589.9" r="1.15"/><circle cx="328.0" cy="592.7" r="1.15"/>
<circle cx="337.8" cy="595.3" r="1.15"/><circle cx="340.6" cy="597.1" r="1.15"/><circle cx="345.5" cy="592.4" r="1.15"/><circle cx="334.7" cy="591.5" r="1.15"/><circle cx="332.3" cy="600.2" r="1.15"/><circle cx="326.4" cy="586.7" r="1.15"/><circle cx="333.7" cy="554.9" r="1.15"/><circle cx="327.0" cy="599.0" r="1.15"/>
<circle cx="327.0" cy="575.2" r="1.15"/><circle cx="327.3" cy="601.2" r="1.15"/><circle cx="332.2" cy="604.0" r="1.15"/><circle cx="327.5" cy="577.2" r="1.15"/><circle cx="338.4" cy="531.9" r="1.15"/><circle cx="328.1" cy="589.8" r="1.15"/><circle cx="330.9" cy="602.7" r="1.15"/><circle cx="333.6" cy="602.6" r="1.15"/>
<circle cx="341.2" cy="597.1" r="1.15"/><circle cx="332.2" cy="598.5" r="1.15"/><circle cx="328.9" cy="579.9" r="1.15"/><circle cx="327.5" cy="593.4" r="1.15"/><circle cx="327.1" cy="570.5" r="1.15"/><circle cx="331.6" cy="603.6" r="1.15"/><circle cx="348.0" cy="588.4" r="1.15"/><circle cx="332.4" cy="595.6" r="1.15"/>
<circle cx="327.8" cy="602.1" r="1.15"/><circle cx="331.5" cy="585.3" r="1.15"/><circle cx="329.2" cy="593.3" r="1.15"/><circle cx="332.3" cy="596.6" r="1.15"/><circle cx="328.3" cy="603.4" r="1.15"/><circle cx="327.7" cy="604.2" r="1.15"/><circle cx="326.9" cy="579.8" r="1.15"/><circle cx="328.0" cy="591.3" r="1.15"/>
<circle cx="326.5" cy="602.5" r="1.15"/><circle cx="333.4" cy="534.4" r="1.15"/><circle cx="334.5" cy="598.6" r="1.15"/><circle cx="328.2" cy="597.1" r="1.15"/><circle cx="328.0" cy="596.8" r="1.15"/><circle cx="329.7" cy="581.1" r="1.15"/><circle cx="328.8" cy="586.7" r="1.15"/><circle cx="329.0" cy="555.0" r="1.15"/>
<circle cx="333.4" cy="587.2" r="1.15"/><circle cx="334.0" cy="603.8" r="1.15"/><circle cx="337.4" cy="597.1" r="1.15"/><circle cx="332.9" cy="594.7" r="1.15"/><circle cx="330.0" cy="602.7" r="1.15"/><circle cx="334.1" cy="601.9" r="1.15"/><circle cx="336.3" cy="604.3" r="1.15"/><circle cx="328.8" cy="598.2" r="1.15"/>
<circle cx="331.1" cy="599.7" r="1.15"/><circle cx="329.4" cy="573.8" r="1.15"/><circle cx="333.4" cy="587.9" r="1.15"/><circle cx="339.9" cy="602.0" r="1.15"/><circle cx="336.6" cy="604.2" r="1.15"/><circle cx="329.2" cy="569.6" r="1.15"/><circle cx="327.8" cy="603.5" r="1.15"/><circle cx="330.8" cy="595.7" r="1.15"/>
<circle cx="326.8" cy="598.2" r="1.15"/><circle cx="328.3" cy="601.5" r="1.15"/><circle cx="341.7" cy="576.1" r="1.15"/><circle cx="328.6" cy="598.0" r="1.15"/><circle cx="339.6" cy="562.1" r="1.15"/><circle cx="332.7" cy="602.7" r="1.15"/><circle cx="327.4" cy="585.7" r="1.15"/><circle cx="326.6" cy="589.5" r="1.15"/>
<circle cx="338.4" cy="601.7" r="1.15"/><circle cx="329.6" cy="603.8" r="1.15"/><circle cx="328.4" cy="583.7" r="1.15"/><circle cx="341.5" cy="601.9" r="1.15"/><circle cx="329.0" cy="599.1" r="1.15"/><circle cx="334.1" cy="604.4" r="1.15"/><circle cx="327.2" cy="599.2" r="1.15"/><circle cx="329.8" cy="565.5" r="1.15"/>
<circle cx="329.5" cy="540.6" r="1.15"/><circle cx="327.5" cy="590.4" r="1.15"/><circle cx="333.5" cy="594.6" r="1.15"/><circle cx="328.6" cy="563.2" r="1.15"/><circle cx="335.3" cy="593.6" r="1.15"/><circle cx="329.9" cy="562.4" r="1.15"/><circle cx="343.0" cy="599.1" r="1.15"/><circle cx="330.9" cy="593.3" r="1.15"/>
<circle cx="336.8" cy="601.6" r="1.15"/><circle cx="330.5" cy="541.7" r="1.15"/><circle cx="351.1" cy="586.5" r="1.15"/><circle cx="326.9" cy="599.1" r="1.15"/><circle cx="326.9" cy="597.9" r="1.15"/><circle cx="329.3" cy="603.4" r="1.15"/><circle cx="343.0" cy="593.2" r="1.15"/><circle cx="329.7" cy="598.2" r="1.15"/>
<circle cx="327.5" cy="585.4" r="1.15"/><circle cx="331.8" cy="559.8" r="1.15"/><circle cx="330.6" cy="594.2" r="1.15"/><circle cx="328.9" cy="603.3" r="1.15"/><circle cx="335.7" cy="558.8" r="1.15"/><circle cx="326.7" cy="594.3" r="1.15"/><circle cx="328.4" cy="600.8" r="1.15"/><circle cx="333.2" cy="574.4" r="1.15"/>
<circle cx="326.7" cy="600.9" r="1.15"/><circle cx="327.5" cy="599.6" r="1.15"/><circle cx="336.9" cy="598.2" r="1.15"/><circle cx="334.8" cy="601.7" r="1.15"/><circle cx="326.6" cy="595.2" r="1.15"/><circle cx="331.0" cy="599.4" r="1.15"/><circle cx="330.2" cy="594.9" r="1.15"/><circle cx="333.2" cy="573.7" r="1.15"/>
<circle cx="344.3" cy="581.3" r="1.15"/><circle cx="335.2" cy="601.4" r="1.15"/><circle cx="336.6" cy="568.8" r="1.15"/><circle cx="327.2" cy="600.0" r="1.15"/><circle cx="327.6" cy="580.0" r="1.15"/><circle cx="335.1" cy="597.8" r="1.15"/><circle cx="332.7" cy="586.8" r="1.15"/><circle cx="332.5" cy="601.9" r="1.15"/>
<circle cx="334.7" cy="602.1" r="1.15"/><circle cx="327.1" cy="592.3" r="1.15"/><circle cx="328.9" cy="550.8" r="1.15"/><circle cx="330.2" cy="604.0" r="1.15"/><circle cx="327.0" cy="591.0" r="1.15"/><circle cx="327.5" cy="602.3" r="1.15"/><circle cx="332.2" cy="599.6" r="1.15"/><circle cx="328.2" cy="593.4" r="1.15"/>
<circle cx="327.2" cy="602.1" r="1.15"/><circle cx="328.2" cy="589.2" r="1.15"/><circle cx="327.0" cy="603.4" r="1.15"/><circle cx="330.6" cy="604.2" r="1.15"/><circle cx="331.9" cy="601.0" r="1.15"/><circle cx="326.4" cy="594.1" r="1.15"/><circle cx="327.2" cy="574.5" r="1.15"/><circle cx="336.3" cy="602.7" r="1.15"/>
<circle cx="336.2" cy="578.3" r="1.15"/><circle cx="340.9" cy="547.9" r="1.15"/><circle cx="326.5" cy="599.0" r="1.15"/><circle cx="327.7" cy="588.5" r="1.15"/><circle cx="340.1" cy="593.0" r="1.15"/><circle cx="334.3" cy="592.9" r="1.15"/><circle cx="327.4" cy="582.1" r="1.15"/><circle cx="329.8" cy="542.5" r="1.15"/>
<circle cx="333.8" cy="602.0" r="1.15"/><circle cx="331.9" cy="600.3" r="1.15"/><circle cx="352.0" cy="590.0" r="1.15"/><circle cx="328.1" cy="583.9" r="1.15"/><circle cx="329.8" cy="592.8" r="1.15"/><circle cx="328.0" cy="603.8" r="1.15"/><circle cx="330.5" cy="590.3" r="1.15"/><circle cx="328.1" cy="601.9" r="1.15"/>
<circle cx="327.4" cy="600.3" r="1.15"/><circle cx="332.8" cy="602.9" r="1.15"/><circle cx="329.9" cy="594.2" r="1.15"/><circle cx="332.3" cy="592.9" r="1.15"/><circle cx="343.3" cy="585.2" r="1.15"/><circle cx="328.1" cy="573.8" r="1.15"/><circle cx="332.3" cy="600.0" r="1.15"/><circle cx="353.3" cy="593.2" r="1.15"/>
<circle cx="328.0" cy="564.7" r="1.15"/><circle cx="330.3" cy="602.8" r="1.15"/><circle cx="326.5" cy="601.2" r="1.15"/><circle cx="327.0" cy="601.2" r="1.15"/><circle cx="345.3" cy="601.9" r="1.15"/><circle cx="330.6" cy="603.8" r="1.15"/><circle cx="326.8" cy="599.1" r="1.15"/><circle cx="358.5" cy="596.4" r="1.15"/>
<circle cx="328.6" cy="599.5" r="1.15"/><circle cx="328.5" cy="588.1" r="1.15"/><circle cx="327.8" cy="603.9" r="1.15"/><circle cx="328.3" cy="600.0" r="1.15"/><circle cx="345.5" cy="557.2" r="1.15"/><circle cx="334.3" cy="604.2" r="1.15"/><circle cx="336.3" cy="595.5" r="1.15"/><circle cx="349.5" cy="601.1" r="1.15"/>
<circle cx="332.9" cy="544.1" r="1.15"/><circle cx="326.5" cy="604.2" r="1.15"/><circle cx="332.4" cy="575.6" r="1.15"/><circle cx="332.6" cy="604.0" r="1.15"/><circle cx="328.5" cy="597.9" r="1.15"/><circle cx="330.7" cy="579.0" r="1.15"/><circle cx="327.3" cy="580.3" r="1.15"/><circle cx="332.2" cy="590.0" r="1.15"/>
<circle cx="336.1" cy="586.9" r="1.15"/><circle cx="326.5" cy="603.3" r="1.15"/><circle cx="331.4" cy="536.7" r="1.15"/><circle cx="327.7" cy="604.2" r="1.15"/><circle cx="328.9" cy="598.5" r="1.15"/><circle cx="327.6" cy="587.8" r="1.15"/><circle cx="329.8" cy="594.8" r="1.15"/><circle cx="334.8" cy="601.0" r="1.15"/>
<circle cx="334.4" cy="601.1" r="1.15"/><circle cx="335.4" cy="560.1" r="1.15"/><circle cx="332.4" cy="584.7" r="1.15"/><circle cx="327.2" cy="573.6" r="1.15"/><circle cx="328.8" cy="587.8" r="1.15"/><circle cx="332.0" cy="600.0" r="1.15"/><circle cx="331.3" cy="562.6" r="1.15"/><circle cx="334.8" cy="603.7" r="1.15"/>
<circle cx="333.0" cy="603.2" r="1.15"/><circle cx="338.5" cy="601.0" r="1.15"/><circle cx="332.2" cy="551.5" r="1.15"/><circle cx="328.9" cy="575.1" r="1.15"/><circle cx="339.9" cy="598.2" r="1.15"/><circle cx="336.3" cy="584.8" r="1.15"/><circle cx="332.3" cy="542.1" r="1.15"/><circle cx="330.9" cy="589.6" r="1.15"/>
<circle cx="329.1" cy="597.8" r="1.15"/><circle cx="331.8" cy="598.9" r="1.15"/><circle cx="326.6" cy="584.6" r="1.15"/><circle cx="337.6" cy="580.3" r="1.15"/><circle cx="327.0" cy="601.2" r="1.15"/><circle cx="347.6" cy="604.2" r="1.15"/><circle cx="330.9" cy="596.0" r="1.15"/><circle cx="336.5" cy="579.1" r="1.15"/>
<circle cx="345.4" cy="595.9" r="1.15"/><circle cx="327.3" cy="600.6" r="1.15"/><circle cx="328.2" cy="593.5" r="1.15"/><circle cx="329.6" cy="596.1" r="1.15"/><circle cx="349.1" cy="604.3" r="1.15"/><circle cx="326.6" cy="599.7" r="1.15"/><circle cx="329.7" cy="587.5" r="1.15"/><circle cx="333.1" cy="603.5" r="1.15"/>
<circle cx="328.2" cy="595.3" r="1.15"/><circle cx="327.0" cy="603.0" r="1.15"/><circle cx="332.1" cy="558.3" r="1.15"/><circle cx="327.6" cy="591.3" r="1.15"/><circle cx="328.2" cy="581.8" r="1.15"/><circle cx="328.4" cy="603.8" r="1.15"/><circle cx="340.5" cy="595.4" r="1.15"/><circle cx="330.1" cy="600.1" r="1.15"/>
<circle cx="330.3" cy="599.3" r="1.15"/><circle cx="326.5" cy="587.4" r="1.15"/><circle cx="330.6" cy="570.8" r="1.15"/><circle cx="338.7" cy="596.2" r="1.15"/><circle cx="336.7" cy="602.7" r="1.15"/><circle cx="326.8" cy="581.1" r="1.15"/><circle cx="340.7" cy="601.6" r="1.15"/><circle cx="333.0" cy="593.5" r="1.15"/>
<circle cx="335.4" cy="595.5" r="1.15"/><circle cx="340.7" cy="598.1" r="1.15"/><circle cx="329.5" cy="572.2" r="1.15"/><circle cx="329.2" cy="598.1" r="1.15"/><circle cx="332.4" cy="589.2" r="1.15"/><circle cx="330.5" cy="587.5" r="1.15"/><circle cx="332.9" cy="586.2" r="1.15"/><circle cx="327.8" cy="568.1" r="1.15"/>
<circle cx="331.7" cy="580.5" r="1.15"/><circle cx="327.5" cy="601.0" r="1.15"/><circle cx="338.7" cy="598.4" r="1.15"/><circle cx="330.2" cy="583.4" r="1.15"/><circle cx="328.4" cy="604.2" r="1.15"/><circle cx="341.1" cy="597.3" r="1.15"/><circle cx="326.5" cy="565.4" r="1.15"/><circle cx="347.3" cy="588.2" r="1.15"/>
<circle cx="327.5" cy="594.4" r="1.15"/><circle cx="330.6" cy="593.7" r="1.15"/><circle cx="327.3" cy="600.7" r="1.15"/><circle cx="329.9" cy="564.8" r="1.15"/><circle cx="327.8" cy="585.6" r="1.15"/><circle cx="327.9" cy="599.5" r="1.15"/><circle cx="326.7" cy="603.1" r="1.15"/><circle cx="328.0" cy="600.7" r="1.15"/>
<circle cx="330.0" cy="592.9" r="1.15"/><circle cx="333.9" cy="569.1" r="1.15"/><circle cx="327.1" cy="601.1" r="1.15"/><circle cx="328.0" cy="602.5" r="1.15"/><circle cx="327.9" cy="581.1" r="1.15"/><circle cx="330.2" cy="593.3" r="1.15"/><circle cx="331.3" cy="603.3" r="1.15"/><circle cx="327.6" cy="595.6" r="1.15"/>
<circle cx="327.6" cy="599.0" r="1.15"/><circle cx="332.3" cy="599.4" r="1.15"/><circle cx="330.2" cy="546.8" r="1.15"/><circle cx="330.9" cy="569.9" r="1.15"/><circle cx="332.2" cy="604.1" r="1.15"/><circle cx="332.2" cy="598.9" r="1.15"/><circle cx="348.8" cy="593.0" r="1.15"/><circle cx="331.0" cy="600.4" r="1.15"/>
<circle cx="329.0" cy="604.1" r="1.15"/><circle cx="329.3" cy="601.2" r="1.15"/><circle cx="326.8" cy="565.1" r="1.15"/><circle cx="328.3" cy="593.4" r="1.15"/><circle cx="329.1" cy="581.4" r="1.15"/><circle cx="340.5" cy="584.2" r="1.15"/><circle cx="327.4" cy="587.5" r="1.15"/><circle cx="335.6" cy="603.8" r="1.15"/>
<circle cx="326.4" cy="589.2" r="1.15"/><circle cx="332.8" cy="589.3" r="1.15"/><circle cx="333.6" cy="593.4" r="1.15"/><circle cx="327.3" cy="595.6" r="1.15"/><circle cx="326.8" cy="592.9" r="1.15"/><circle cx="326.9" cy="586.0" r="1.15"/><circle cx="338.5" cy="557.2" r="1.15"/><circle cx="331.4" cy="595.5" r="1.15"/>
<circle cx="331.5" cy="598.7" r="1.15"/><circle cx="330.7" cy="596.5" r="1.15"/><circle cx="333.2" cy="579.3" r="1.15"/><circle cx="333.2" cy="601.1" r="1.15"/><circle cx="326.9" cy="587.7" r="1.15"/><circle cx="334.2" cy="596.4" r="1.15"/><circle cx="328.9" cy="595.2" r="1.15"/><circle cx="327.2" cy="592.4" r="1.15"/>
<circle cx="327.3" cy="599.7" r="1.15"/><circle cx="347.6" cy="601.0" r="1.15"/><circle cx="345.6" cy="592.3" r="1.15"/><circle cx="365.4" cy="589.4" r="1.15"/><circle cx="332.1" cy="600.8" r="1.15"/><circle cx="328.4" cy="583.7" r="1.15"/><circle cx="326.9" cy="573.8" r="1.15"/><circle cx="327.5" cy="587.7" r="1.15"/>
<circle cx="331.5" cy="596.3" r="1.15"/><circle cx="343.4" cy="544.4" r="1.15"/><circle cx="332.1" cy="580.4" r="1.15"/><circle cx="327.4" cy="599.2" r="1.15"/><circle cx="335.6" cy="563.4" r="1.15"/><circle cx="332.4" cy="552.3" r="1.15"/><circle cx="329.6" cy="599.8" r="1.15"/><circle cx="327.1" cy="601.5" r="1.15"/>
<circle cx="326.6" cy="601.4" r="1.15"/><circle cx="327.9" cy="575.6" r="1.15"/><circle cx="326.8" cy="573.4" r="1.15"/><circle cx="327.7" cy="582.6" r="1.15"/><circle cx="328.7" cy="571.2" r="1.15"/><circle cx="328.3" cy="586.8" r="1.15"/><circle cx="330.1" cy="599.7" r="1.15"/><circle cx="330.2" cy="595.6" r="1.15"/>
<circle cx="329.0" cy="600.3" r="1.15"/><circle cx="329.4" cy="591.4" r="1.15"/><circle cx="333.2" cy="567.0" r="1.15"/><circle cx="332.9" cy="557.5" r="1.15"/><circle cx="330.5" cy="603.9" r="1.15"/><circle cx="330.2" cy="563.5" r="1.15"/><circle cx="329.9" cy="573.0" r="1.15"/><circle cx="334.5" cy="596.3" r="1.15"/>
<circle cx="333.7" cy="572.8" r="1.15"/><circle cx="333.1" cy="593.0" r="1.15"/><circle cx="327.7" cy="599.8" r="1.15"/><circle cx="349.2" cy="604.1" r="1.15"/><circle cx="327.7" cy="580.9" r="1.15"/><circle cx="328.4" cy="602.9" r="1.15"/><circle cx="333.9" cy="590.2" r="1.15"/><circle cx="331.4" cy="604.0" r="1.15"/>
<circle cx="337.7" cy="601.9" r="1.15"/><circle cx="349.0" cy="552.3" r="1.15"/><circle cx="336.6" cy="602.1" r="1.15"/><circle cx="335.9" cy="601.3" r="1.15"/><circle cx="335.6" cy="570.0" r="1.15"/><circle cx="326.9" cy="601.9" r="1.15"/><circle cx="327.4" cy="598.5" r="1.15"/><circle cx="336.2" cy="597.3" r="1.15"/>
<circle cx="332.9" cy="528.7" r="1.15"/><circle cx="328.7" cy="600.6" r="1.15"/><circle cx="331.6" cy="586.7" r="1.15"/><circle cx="333.9" cy="591.5" r="1.15"/><circle cx="330.5" cy="584.3" r="1.15"/><circle cx="332.4" cy="574.0" r="1.15"/><circle cx="332.1" cy="602.0" r="1.15"/><circle cx="329.3" cy="558.4" r="1.15"/>
<circle cx="326.9" cy="575.1" r="1.15"/><circle cx="330.1" cy="590.8" r="1.15"/><circle cx="331.3" cy="603.1" r="1.15"/><circle cx="333.7" cy="577.1" r="1.15"/><circle cx="348.9" cy="566.3" r="1.15"/><circle cx="333.3" cy="604.3" r="1.15"/><circle cx="331.2" cy="593.9" r="1.15"/><circle cx="326.6" cy="567.7" r="1.15"/>
<circle cx="326.9" cy="595.2" r="1.15"/><circle cx="349.5" cy="582.3" r="1.15"/><circle cx="328.3" cy="590.3" r="1.15"/><circle cx="330.2" cy="591.8" r="1.15"/><circle cx="329.0" cy="584.4" r="1.15"/><circle cx="346.7" cy="568.0" r="1.15"/><circle cx="327.0" cy="594.7" r="1.15"/><circle cx="335.0" cy="570.9" r="1.15"/>
<circle cx="326.5" cy="576.1" r="1.15"/><circle cx="328.7" cy="591.7" r="1.15"/><circle cx="329.1" cy="590.3" r="1.15"/><circle cx="339.1" cy="598.1" r="1.15"/><circle cx="329.7" cy="545.0" r="1.15"/><circle cx="340.2" cy="565.9" r="1.15"/><circle cx="327.1" cy="594.9" r="1.15"/><circle cx="326.9" cy="592.4" r="1.15"/>
<circle cx="328.8" cy="593.7" r="1.15"/><circle cx="327.3" cy="600.3" r="1.15"/><circle cx="332.0" cy="593.6" r="1.15"/><circle cx="336.4" cy="584.8" r="1.15"/><circle cx="330.7" cy="536.9" r="1.15"/><circle cx="326.9" cy="598.0" r="1.15"/><circle cx="328.4" cy="600.2" r="1.15"/><circle cx="329.7" cy="590.4" r="1.15"/>
<circle cx="338.9" cy="580.6" r="1.15"/><circle cx="352.7" cy="603.8" r="1.15"/><circle cx="328.8" cy="604.1" r="1.15"/><circle cx="354.3" cy="555.6" r="1.15"/><circle cx="333.8" cy="604.0" r="1.15"/><circle cx="327.7" cy="599.9" r="1.15"/><circle cx="327.7" cy="594.3" r="1.15"/><circle cx="328.4" cy="590.8" r="1.15"/>
<circle cx="326.9" cy="566.1" r="1.15"/><circle cx="328.9" cy="603.5" r="1.15"/><circle cx="327.6" cy="603.3" r="1.15"/><circle cx="339.8" cy="569.6" r="1.15"/><circle cx="331.2" cy="603.4" r="1.15"/><circle cx="334.1" cy="600.5" r="1.15"/><circle cx="327.4" cy="595.3" r="1.15"/><circle cx="331.0" cy="600.4" r="1.15"/>
<circle cx="328.0" cy="563.9" r="1.15"/><circle cx="329.7" cy="594.4" r="1.15"/><circle cx="328.0" cy="601.5" r="1.15"/><circle cx="334.1" cy="586.1" r="1.15"/><circle cx="331.5" cy="600.3" r="1.15"/><circle cx="332.0" cy="581.8" r="1.15"/><circle cx="331.2" cy="587.2" r="1.15"/><circle cx="334.3" cy="600.0" r="1.15"/>
<circle cx="328.5" cy="594.4" r="1.15"/><circle cx="329.2" cy="599.0" r="1.15"/><circle cx="330.7" cy="589.5" r="1.15"/><circle cx="332.8" cy="586.7" r="1.15"/><circle cx="327.3" cy="593.5" r="1.15"/><circle cx="326.4" cy="594.6" r="1.15"/><circle cx="329.9" cy="584.6" r="1.15"/><circle cx="326.6" cy="593.4" r="1.15"/>
<circle cx="332.2" cy="599.5" r="1.15"/><circle cx="332.5" cy="566.9" r="1.15"/><circle cx="331.2" cy="595.7" r="1.15"/><circle cx="328.5" cy="577.7" r="1.15"/><circle cx="351.4" cy="598.7" r="1.15"/><circle cx="331.6" cy="599.3" r="1.15"/><circle cx="337.2" cy="582.9" r="1.15"/><circle cx="327.5" cy="568.7" r="1.15"/>
<circle cx="334.9" cy="601.1" r="1.15"/><circle cx="326.9" cy="589.1" r="1.15"/><circle cx="326.7" cy="591.2" r="1.15"/><circle cx="327.5" cy="571.3" r="1.15"/><circle cx="326.5" cy="603.2" r="1.15"/><circle cx="327.6" cy="577.1" r="1.15"/><circle cx="326.9" cy="580.8" r="1.15"/><circle cx="327.2" cy="604.4" r="1.15"/>
<circle cx="329.8" cy="594.9" r="1.15"/><circle cx="326.9" cy="604.4" r="1.15"/><circle cx="329.4" cy="586.6" r="1.15"/><circle cx="331.4" cy="585.6" r="1.15"/><circle cx="327.7" cy="594.4" r="1.15"/><circle cx="345.9" cy="600.8" r="1.15"/><circle cx="328.3" cy="598.2" r="1.15"/><circle cx="356.1" cy="597.7" r="1.15"/>
<circle cx="326.9" cy="558.4" r="1.15"/><circle cx="327.9" cy="593.1" r="1.15"/><circle cx="343.6" cy="598.2" r="1.15"/><circle cx="333.9" cy="600.8" r="1.15"/><circle cx="345.1" cy="564.8" r="1.15"/><circle cx="335.0" cy="582.4" r="1.15"/><circle cx="327.0" cy="588.7" r="1.15"/><circle cx="330.1" cy="584.2" r="1.15"/>
<circle cx="329.0" cy="590.5" r="1.15"/><circle cx="352.0" cy="574.1" r="1.15"/><circle cx="329.4" cy="594.1" r="1.15"/><circle cx="326.9" cy="598.1" r="1.15"/><circle cx="329.0" cy="575.0" r="1.15"/><circle cx="330.4" cy="569.8" r="1.15"/><circle cx="326.5" cy="592.0" r="1.15"/><circle cx="328.4" cy="598.2" r="1.15"/>
<circle cx="338.1" cy="592.9" r="1.15"/><circle cx="331.4" cy="572.8" r="1.15"/><circle cx="330.8" cy="596.2" r="1.15"/><circle cx="345.5" cy="590.0" r="1.15"/><circle cx="326.9" cy="587.8" r="1.15"/><circle cx="327.7" cy="597.5" r="1.15"/><circle cx="327.8" cy="596.9" r="1.15"/><circle cx="333.4" cy="602.9" r="1.15"/>
<circle cx="329.3" cy="601.1" r="1.15"/><circle cx="329.0" cy="599.3" r="1.15"/><circle cx="341.6" cy="595.0" r="1.15"/><circle cx="331.3" cy="603.1" r="1.15"/><circle cx="337.3" cy="590.6" r="1.15"/><circle cx="337.3" cy="599.6" r="1.15"/><circle cx="334.9" cy="577.8" r="1.15"/><circle cx="348.5" cy="601.2" r="1.15"/>
<circle cx="330.4" cy="592.9" r="1.15"/><circle cx="329.9" cy="583.4" r="1.15"/><circle cx="329.5" cy="588.8" r="1.15"/><circle cx="328.0" cy="598.3" r="1.15"/><circle cx="328.1" cy="594.4" r="1.15"/><circle cx="327.9" cy="579.7" r="1.15"/><circle cx="330.1" cy="583.6" r="1.15"/><circle cx="336.6" cy="597.7" r="1.15"/>
<circle cx="336.1" cy="602.1" r="1.15"/><circle cx="334.4" cy="594.5" r="1.15"/><circle cx="331.4" cy="598.7" r="1.15"/><circle cx="335.1" cy="581.9" r="1.15"/><circle cx="327.1" cy="600.1" r="1.15"/><circle cx="332.0" cy="573.3" r="1.15"/><circle cx="326.7" cy="584.3" r="1.15"/><circle cx="328.6" cy="603.9" r="1.15"/>
<circle cx="326.8" cy="598.5" r="1.15"/><circle cx="332.7" cy="601.0" r="1.15"/><circle cx="329.7" cy="580.4" r="1.15"/><circle cx="332.1" cy="582.6" r="1.15"/><circle cx="331.3" cy="556.8" r="1.15"/><circle cx="328.1" cy="602.4" r="1.15"/><circle cx="327.4" cy="598.4" r="1.15"/><circle cx="327.5" cy="601.2" r="1.15"/>
<circle cx="330.3" cy="571.2" r="1.15"/><circle cx="334.2" cy="597.0" r="1.15"/><circle cx="340.2" cy="601.4" r="1.15"/><circle cx="329.9" cy="595.6" r="1.15"/><circle cx="332.9" cy="602.2" r="1.15"/><circle cx="335.9" cy="597.1" r="1.15"/><circle cx="328.0" cy="591.4" r="1.15"/><circle cx="327.7" cy="599.5" r="1.15"/>
<circle cx="333.9" cy="593.5" r="1.15"/><circle cx="328.8" cy="603.6" r="1.15"/><circle cx="329.8" cy="579.1" r="1.15"/><circle cx="328.2" cy="602.3" r="1.15"/><circle cx="332.8" cy="593.3" r="1.15"/><circle cx="327.2" cy="600.0" r="1.15"/><circle cx="327.4" cy="604.4" r="1.15"/><circle cx="326.6" cy="589.0" r="1.15"/>
<circle cx="329.3" cy="568.2" r="1.15"/><circle cx="336.5" cy="603.9" r="1.15"/><circle cx="336.5" cy="601.4" r="1.15"/><circle cx="335.4" cy="540.4" r="1.15"/><circle cx="305.0" cy="602.7" r="1.15"/><circle cx="305.9" cy="602.9" r="1.15"/><circle cx="304.3" cy="565.2" r="1.15"/><circle cx="300.3" cy="602.0" r="1.15"/>
<circle cx="303.9" cy="594.7" r="1.15"/><circle cx="305.2" cy="603.7" r="1.15"/><circle cx="305.1" cy="600.1" r="1.15"/><circle cx="305.7" cy="559.7" r="1.15"/><circle cx="291.4" cy="596.7" r="1.15"/><circle cx="303.6" cy="594.6" r="1.15"/><circle cx="298.7" cy="598.0" r="1.15"/><circle cx="295.8" cy="566.2" r="1.15"/>
<circle cx="304.6" cy="593.9" r="1.15"/><circle cx="293.4" cy="600.0" r="1.15"/><circle cx="286.7" cy="596.0" r="1.15"/><circle cx="301.5" cy="603.2" r="1.15"/><circle cx="303.9" cy="591.4" r="1.15"/><circle cx="305.0" cy="561.5" r="1.15"/><circle cx="303.9" cy="594.2" r="1.15"/><circle cx="299.9" cy="599.9" r="1.15"/>
<circle cx="301.1" cy="588.4" r="1.15"/><circle cx="299.9" cy="599.8" r="1.15"/><circle cx="304.2" cy="593.8" r="1.15"/><circle cx="303.5" cy="596.6" r="1.15"/><circle cx="302.6" cy="587.1" r="1.15"/><circle cx="305.3" cy="601.5" r="1.15"/><circle cx="305.4" cy="595.5" r="1.15"/><circle cx="305.0" cy="572.0" r="1.15"/>
<circle cx="305.0" cy="597.2" r="1.15"/><circle cx="300.1" cy="600.4" r="1.15"/><circle cx="305.6" cy="601.2" r="1.15"/><circle cx="301.0" cy="599.2" r="1.15"/><circle cx="294.3" cy="602.4" r="1.15"/><circle cx="304.5" cy="596.1" r="1.15"/><circle cx="304.3" cy="600.2" r="1.15"/><circle cx="305.5" cy="595.9" r="1.15"/>
<circle cx="300.4" cy="598.8" r="1.15"/><circle cx="289.3" cy="592.6" r="1.15"/><circle cx="304.1" cy="598.9" r="1.15"/><circle cx="304.6" cy="603.2" r="1.15"/><circle cx="303.3" cy="595.1" r="1.15"/><circle cx="299.5" cy="603.4" r="1.15"/><circle cx="305.8" cy="575.4" r="1.15"/><circle cx="304.1" cy="588.7" r="1.15"/>
<circle cx="297.5" cy="600.4" r="1.15"/><circle cx="305.1" cy="586.0" r="1.15"/><circle cx="304.5" cy="595.9" r="1.15"/><circle cx="305.9" cy="593.8" r="1.15"/><circle cx="303.6" cy="601.6" r="1.15"/><circle cx="305.0" cy="572.6" r="1.15"/><circle cx="296.7" cy="599.9" r="1.15"/><circle cx="304.4" cy="599.4" r="1.15"/>
<circle cx="304.2" cy="598.6" r="1.15"/><circle cx="293.0" cy="604.2" r="1.15"/><circle cx="304.1" cy="594.8" r="1.15"/><circle cx="302.1" cy="599.5" r="1.15"/><circle cx="300.8" cy="597.6" r="1.15"/><circle cx="305.2" cy="575.0" r="1.15"/><circle cx="305.0" cy="589.6" r="1.15"/><circle cx="295.3" cy="602.2" r="1.15"/>
<circle cx="300.3" cy="586.1" r="1.15"/><circle cx="304.2" cy="574.2" r="1.15"/><circle cx="305.3" cy="595.5" r="1.15"/><circle cx="290.5" cy="595.4" r="1.15"/><circle cx="297.6" cy="598.2" r="1.15"/><circle cx="301.7" cy="596.3" r="1.15"/><circle cx="301.0" cy="588.3" r="1.15"/><circle cx="300.8" cy="587.1" r="1.15"/>
<circle cx="304.9" cy="591.6" r="1.15"/><circle cx="299.6" cy="587.7" r="1.15"/><circle cx="305.1" cy="594.7" r="1.15"/><circle cx="305.8" cy="561.3" r="1.15"/><circle cx="301.7" cy="601.0" r="1.15"/><circle cx="302.2" cy="599.9" r="1.15"/><circle cx="302.6" cy="585.6" r="1.15"/><circle cx="301.6" cy="595.0" r="1.15"/>
<circle cx="303.0" cy="602.4" r="1.15"/><circle cx="305.8" cy="577.7" r="1.15"/><circle cx="291.3" cy="582.9" r="1.15"/><circle cx="305.1" cy="592.5" r="1.15"/><circle cx="305.0" cy="599.7" r="1.15"/><circle cx="299.6" cy="571.8" r="1.15"/><circle cx="305.9" cy="586.0" r="1.15"/><circle cx="300.9" cy="589.9" r="1.15"/>
<circle cx="305.3" cy="599.2" r="1.15"/><circle cx="300.4" cy="601.7" r="1.15"/><circle cx="305.2" cy="596.5" r="1.15"/><circle cx="305.2" cy="600.7" r="1.15"/><circle cx="305.2" cy="601.5" r="1.15"/><circle cx="305.5" cy="598.0" r="1.15"/><circle cx="304.2" cy="602.6" r="1.15"/><circle cx="305.1" cy="598.1" r="1.15"/>
<circle cx="305.6" cy="600.2" r="1.15"/><circle cx="305.7" cy="588.1" r="1.15"/><circle cx="305.4" cy="596.7" r="1.15"/><circle cx="305.3" cy="590.5" r="1.15"/><circle cx="291.4" cy="589.6" r="1.15"/><circle cx="305.5" cy="601.8" r="1.15"/><circle cx="305.2" cy="578.1" r="1.15"/><circle cx="305.6" cy="586.9" r="1.15"/>
<circle cx="300.0" cy="582.6" r="1.15"/><circle cx="303.7" cy="597.9" r="1.15"/><circle cx="304.2" cy="591.6" r="1.15"/><circle cx="303.3" cy="589.5" r="1.15"/><circle cx="303.6" cy="581.9" r="1.15"/><circle cx="302.2" cy="600.6" r="1.15"/><circle cx="303.7" cy="601.2" r="1.15"/><circle cx="296.0" cy="603.9" r="1.15"/>
<circle cx="303.8" cy="597.6" r="1.15"/><circle cx="302.2" cy="603.1" r="1.15"/><circle cx="301.4" cy="602.7" r="1.15"/><circle cx="304.6" cy="599.9" r="1.15"/><circle cx="305.6" cy="576.0" r="1.15"/><circle cx="301.3" cy="572.1" r="1.15"/><circle cx="302.3" cy="594.8" r="1.15"/><circle cx="303.5" cy="594.7" r="1.15"/>
<circle cx="304.3" cy="602.1" r="1.15"/><circle cx="302.4" cy="585.2" r="1.15"/><circle cx="290.8" cy="575.4" r="1.15"/><circle cx="302.2" cy="601.7" r="1.15"/><circle cx="302.6" cy="602.3" r="1.15"/><circle cx="298.0" cy="587.3" r="1.15"/><circle cx="304.0" cy="599.7" r="1.15"/><circle cx="297.1" cy="597.5" r="1.15"/>
<circle cx="305.6" cy="591.0" r="1.15"/><circle cx="303.7" cy="602.9" r="1.15"/><circle cx="298.2" cy="601.6" r="1.15"/><circle cx="305.1" cy="595.3" r="1.15"/><circle cx="304.8" cy="599.5" r="1.15"/><circle cx="303.5" cy="572.0" r="1.15"/><circle cx="302.3" cy="597.5" r="1.15"/><circle cx="298.8" cy="572.6" r="1.15"/>
<circle cx="296.0" cy="604.1" r="1.15"/><circle cx="299.4" cy="586.2" r="1.15"/><circle cx="300.9" cy="588.6" r="1.15"/><circle cx="301.6" cy="601.6" r="1.15"/><circle cx="295.2" cy="585.2" r="1.15"/><circle cx="304.8" cy="595.2" r="1.15"/><circle cx="305.1" cy="601.2" r="1.15"/><circle cx="302.0" cy="602.6" r="1.15"/>
<circle cx="305.9" cy="592.7" r="1.15"/><circle cx="302.1" cy="575.4" r="1.15"/><circle cx="305.8" cy="599.9" r="1.15"/><circle cx="305.4" cy="574.5" r="1.15"/><circle cx="299.3" cy="602.4" r="1.15"/><circle cx="303.3" cy="590.2" r="1.15"/><circle cx="302.0" cy="596.4" r="1.15"/><circle cx="302.8" cy="601.6" r="1.15"/>
<circle cx="305.6" cy="602.4" r="1.15"/><circle cx="303.1" cy="602.6" r="1.15"/><circle cx="297.3" cy="600.2" r="1.15"/><circle cx="305.8" cy="591.8" r="1.15"/><circle cx="301.5" cy="587.8" r="1.15"/><circle cx="303.5" cy="574.3" r="1.15"/><circle cx="301.4" cy="571.4" r="1.15"/><circle cx="299.6" cy="600.5" r="1.15"/>
<circle cx="303.6" cy="601.6" r="1.15"/><circle cx="301.9" cy="598.5" r="1.15"/><circle cx="303.4" cy="598.9" r="1.15"/><circle cx="305.1" cy="593.6" r="1.15"/><circle cx="300.7" cy="599.2" r="1.15"/><circle cx="305.3" cy="592.8" r="1.15"/><circle cx="302.0" cy="594.8" r="1.15"/><circle cx="298.8" cy="569.9" r="1.15"/>
<circle cx="300.1" cy="593.3" r="1.15"/><circle cx="294.7" cy="594.3" r="1.15"/><circle cx="303.0" cy="601.6" r="1.15"/><circle cx="304.3" cy="598.9" r="1.15"/><circle cx="304.7" cy="600.5" r="1.15"/><circle cx="305.1" cy="603.1" r="1.15"/><circle cx="302.6" cy="597.5" r="1.15"/><circle cx="299.4" cy="588.7" r="1.15"/>
<circle cx="295.3" cy="575.1" r="1.15"/><circle cx="305.4" cy="591.4" r="1.15"/><circle cx="295.5" cy="603.4" r="1.15"/><circle cx="305.3" cy="604.2" r="1.15"/><circle cx="305.1" cy="568.7" r="1.15"/><circle cx="297.4" cy="602.6" r="1.15"/><circle cx="305.9" cy="603.1" r="1.15"/><circle cx="297.9" cy="599.7" r="1.15"/>
<circle cx="302.5" cy="599.0" r="1.15"/><circle cx="303.7" cy="592.2" r="1.15"/><circle cx="294.6" cy="603.6" r="1.15"/><circle cx="303.7" cy="589.2" r="1.15"/><circle cx="299.7" cy="592.4" r="1.15"/><circle cx="304.6" cy="604.1" r="1.15"/><circle cx="304.9" cy="594.4" r="1.15"/><circle cx="296.9" cy="593.6" r="1.15"/>
<circle cx="302.3" cy="598.6" r="1.15"/><circle cx="300.4" cy="561.7" r="1.15"/><circle cx="341.5" cy="507.5" r="1.15"/><circle cx="350.5" cy="510.0" r="1.15"/><circle cx="291.5" cy="549.0" r="1.15"/><circle cx="366.0" cy="578.0" r="1.15"/><circle cx="288.0" cy="578.0" r="1.15"/><circle cx="346.0" cy="521.0" r="1.15"/>
<circle cx="340.0" cy="517.0" r="1.15"/><circle cx="334.0" cy="519.0" r="1.15"/>
</g>
</svg>
</body></html>
